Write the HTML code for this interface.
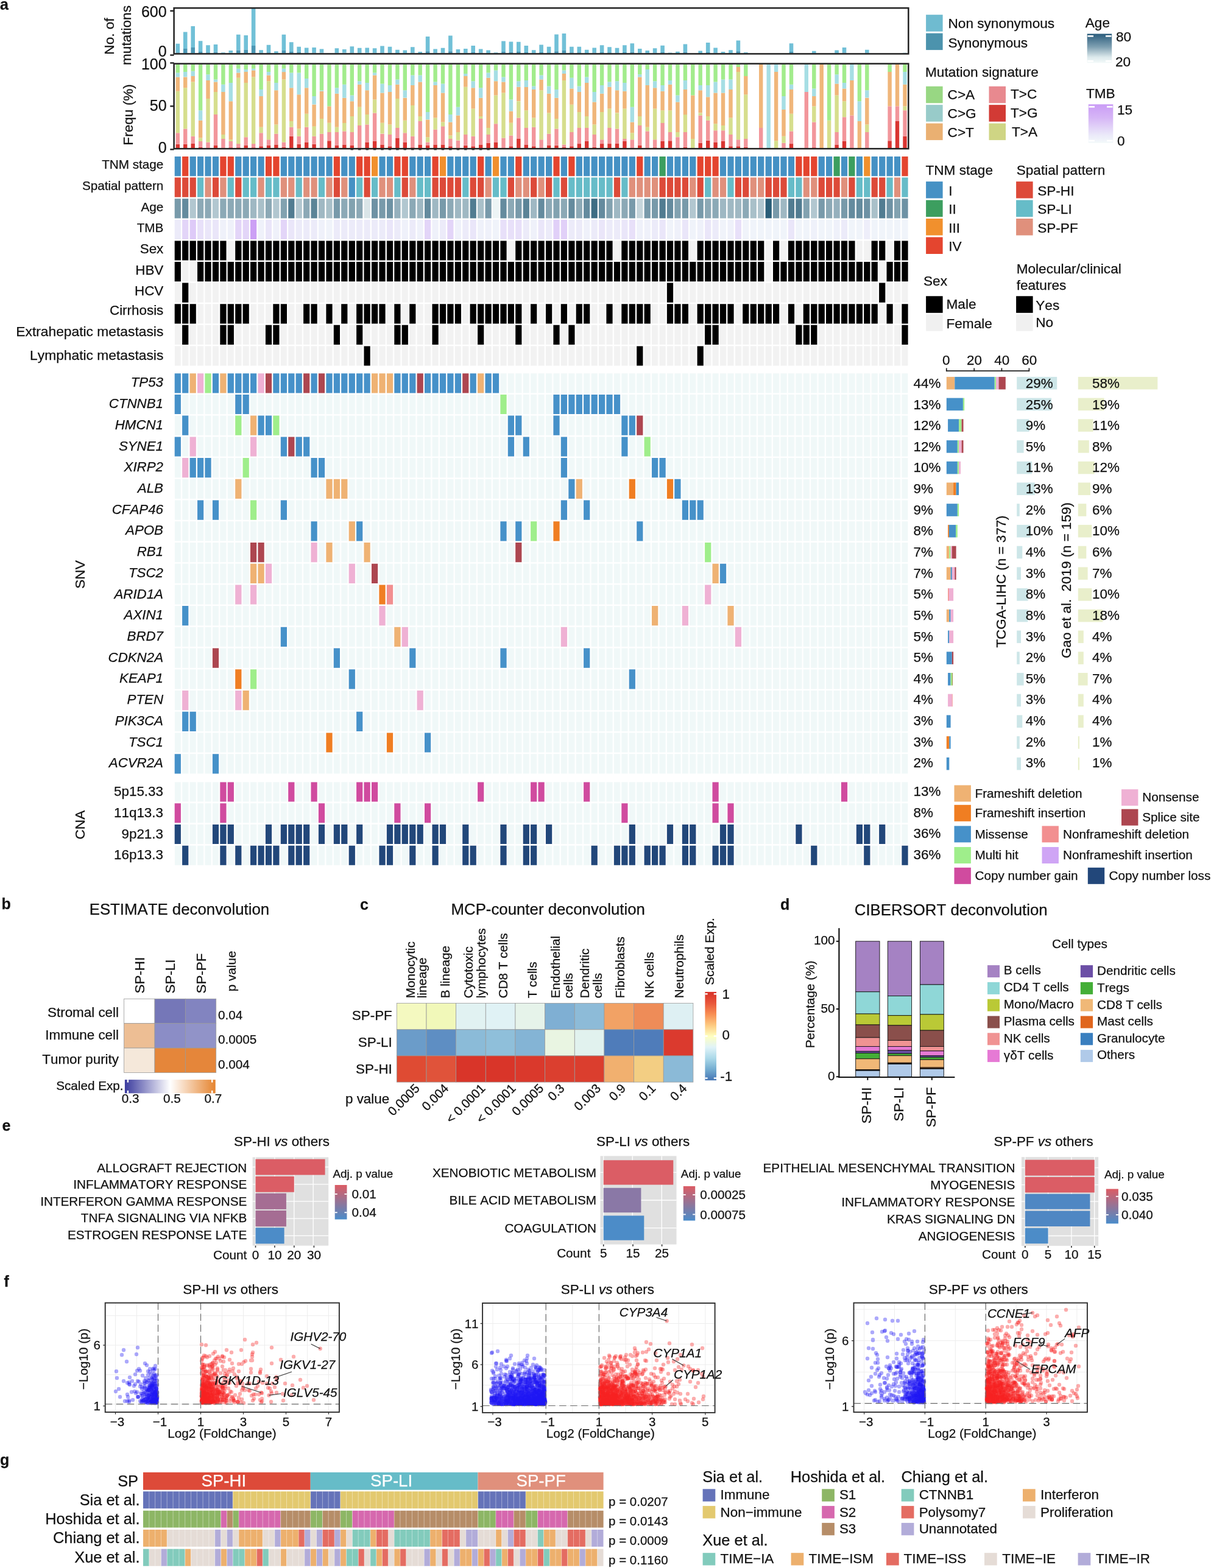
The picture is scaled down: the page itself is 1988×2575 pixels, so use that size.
<!DOCTYPE html>
<html lang="en"><head><meta charset="utf-8"><title>Figure</title>
<style>
html,body{margin:0;padding:0;background:#fff}
svg{display:block}
text{font-family:"Liberation Sans",sans-serif;fill:#111;stroke:#111;stroke-width:.25px;font-kerning:none;font-variant-ligatures:none}
</style></head><body>
<svg width="1988" height="2575" viewBox="0 0 1988 2575" shape-rendering="auto">
<rect x="0" y="0" width="1988" height="2575" fill="#fff"/>
<path fill="#71C0D7" d="M288.5 71.7h6.6v14.4h-6.6zM300.9 52.5h6.6v27.4h-6.6zM313.4 43.1h6.6v34.9h-6.6zM325.8 67.2h6.6v17.7h-6.6zM338.2 74.2h6.6v12h-6.6zM350.7 73h6.6v12.5h-6.6zM363.1 86.2h6.6v1.2h-6.6zM375.5 82.9h6.6v3.7h-6.6zM388 56.8h6.6v25.7h-6.6zM400.4 58h6.6v23.7h-6.6zM412.8 13.2h6.6v61.7h-6.6zM425.3 82.2h6.6v4.5h-6.6zM437.7 73.7h6.6v12.5h-6.6zM450.1 84.2h6.6v3.2h-6.6zM462.6 56.8h6.6v26.2h-6.6zM475 69.2h6.6v15.7h-6.6zM487.4 76.7h6.6v8.7h-6.6zM499.9 78.4h6.6v8h-6.6zM512.3 77.9h6.6v8.5h-6.6zM524.7 80.4h6.6v6.2h-6.6zM549.6 79.2h6.6v7.5h-6.6zM562 80.9h6.6v5.7h-6.6zM574.5 76.2h6.6v10.2h-6.6zM586.9 78.7h6.6v8h-6.6zM599.4 78.4h6.6v8.2h-6.6zM611.8 79.2h6.6v7.5h-6.6zM624.2 75.4h6.6v11h-6.6zM636.7 76.7h6.6v9.7h-6.6zM649.1 81.7h6.6v5.2h-6.6zM661.5 82.4h6.6v4.5h-6.6zM674 77.2h6.6v9.2h-6.6zM686.4 84.9h6.6v2.5h-6.6zM698.8 60h6.6v24.2h-6.6zM711.3 80.4h6.6v6h-6.6zM723.7 78.7h6.6v7.7h-6.6zM736.1 58.4h6.6v25.8h-6.6zM748.6 80.9h6.6v5.7h-6.6zM761 79.9h6.6v6.5h-6.6zM773.4 74.9h6.6v11h-6.6zM785.9 80.4h6.6v6h-6.6zM798.3 82.4h6.6v4.5h-6.6zM810.7 86.2h6.6v1.2h-6.6zM823.2 67.4h6.6v17.5h-6.6zM835.6 68.4h6.6v17h-6.6zM848 68.7h6.6v16.2h-6.6zM860.5 74.9h6.6v11h-6.6zM872.9 82.2h6.6v4.7h-6.6zM885.3 73.4h6.6v12.5h-6.6zM897.8 76.7h6.6v9.5h-6.6zM910.2 56.4h6.6v27.8h-6.6zM922.6 55h6.6v27.9h-6.6zM935.1 76.7h6.6v9.5h-6.6zM947.5 76.7h6.6v9.5h-6.6zM959.9 81.7h6.6v5.2h-6.6zM972.4 78.4h6.6v8h-6.6zM984.8 74.2h6.6v11.7h-6.6zM997.2 77.2h6.6v9h-6.6zM1009.7 78.7h6.6v7.7h-6.6zM1022.1 74.2h6.6v11.7h-6.6zM1034.5 71.2h6.6v14.2h-6.6zM1047 79.9h6.6v6.5h-6.6zM1059.4 82.9h6.6v4h-6.6zM1071.8 79.2h6.6v7.2h-6.6zM1084.3 74.7h6.6v11.2h-6.6zM1096.7 86.4h6.6v1h-6.6zM1109.1 84.7h6.6v2.7h-6.6zM1121.6 72.4h6.6v13h-6.6zM1146.4 83.4h6.6v3.5h-6.6zM1158.9 70h6.6v15.9h-6.6zM1171.3 78.4h6.6v8h-6.6zM1183.7 84.9h6.6v2.5h-6.6zM1196.2 82.2h6.6v4.7h-6.6zM1208.6 66.4h6.6v17.8h-6.6zM1221 85.9h6.6v1.5h-6.6zM1295.7 71.2h6.6v13.7h-6.6zM1333 83.7h6.6v3.3h-6.6zM1370.3 82.4h6.6v4.5h-6.6zM1382.7 77.9h6.6v8.5h-6.6zM1420 81.7h6.6v5.1h-6.6zM1482.2 86.7h6.6v.7h-6.6z"/>
<path fill="#4C97B4" d="M288.5 86.2h6.6v1.2h-6.6zM300.9 79.9h6.6v7.5h-6.6zM313.4 77.9h6.6v9.5h-6.6zM325.8 84.9h6.6v2.5h-6.6zM338.2 86.2h6.6v1.2h-6.6zM350.7 85.4h6.6v2h-6.6zM375.5 86.7h6.6v.7h-6.6zM388 82.4h6.6v5h-6.6zM400.4 81.7h6.6v5.7h-6.6zM412.8 74.9h6.6v12.5h-6.6zM425.3 86.7h6.6v.7h-6.6zM437.7 86.2h6.6v1.2h-6.6zM462.6 82.9h6.6v4.5h-6.6zM475 84.9h6.6v2.5h-6.6zM487.4 85.4h6.6v2h-6.6zM499.9 86.4h6.6v1h-6.6zM512.3 86.4h6.6v1h-6.6zM524.7 86.7h6.6v.7h-6.6zM549.6 86.7h6.6v.7h-6.6zM562 86.7h6.6v.7h-6.6zM574.5 86.4h6.6v1h-6.6zM586.9 86.7h6.6v.7h-6.6zM599.4 86.7h6.6v.7h-6.6zM611.8 86.7h6.6v.7h-6.6zM624.2 86.4h6.6v1h-6.6zM636.7 86.4h6.6v1h-6.6zM649.1 86.9h6.6v.5h-6.6zM661.5 86.9h6.6v.5h-6.6zM674 86.4h6.6v1h-6.6zM698.8 84.2h6.6v3.2h-6.6zM711.3 86.4h6.6v1h-6.6zM723.7 86.4h6.6v1h-6.6zM736.1 84.2h6.6v3.2h-6.6zM748.6 86.6h6.6v.8h-6.6zM761 86.4h6.6v1h-6.6zM773.4 85.9h6.6v1.5h-6.6zM785.9 86.4h6.6v1h-6.6zM798.3 86.9h6.6v.5h-6.6zM823.2 84.9h6.6v2.5h-6.6zM835.6 85.4h6.6v2h-6.6zM848 84.9h6.6v2.5h-6.6zM860.5 85.9h6.6v1.5h-6.6zM872.9 86.9h6.6v.5h-6.6zM885.3 85.9h6.6v1.5h-6.6zM897.8 86.2h6.6v1.2h-6.6zM910.2 84.2h6.6v3.2h-6.6zM922.6 82.9h6.6v4.5h-6.6zM935.1 86.2h6.6v1.2h-6.6zM947.5 86.2h6.6v1.2h-6.6zM959.9 86.9h6.6v.5h-6.6zM972.4 86.4h6.6v1h-6.6zM984.8 85.9h6.6v1.5h-6.6zM997.2 86.2h6.6v1.2h-6.6zM1009.7 86.4h6.6v1h-6.6zM1022.1 85.9h6.6v1.5h-6.6zM1034.5 85.4h6.6v2h-6.6zM1047 86.4h6.6v1h-6.6zM1059.4 86.9h6.6v.5h-6.6zM1071.8 86.4h6.6v1h-6.6zM1084.3 85.9h6.6v1.5h-6.6zM1121.6 85.4h6.6v2h-6.6zM1146.4 86.9h6.6v.5h-6.6zM1158.9 85.9h6.6v1.5h-6.6zM1171.3 86.4h6.6v1h-6.6zM1196.2 86.9h6.6v.5h-6.6zM1208.6 84.2h6.6v3.2h-6.6zM1295.7 84.9h6.6v2.5h-6.6zM1333 87h6.6v.4h-6.6zM1370.3 86.9h6.6v.5h-6.6zM1382.7 86.4h6.6v1h-6.6zM1420 86.8h6.6v.6h-6.6z"/>
<path fill="#D93531" d="M288.6 236.8h6.4v6.2h-6.4zM301 236.8h6.4v6.2h-6.4zM313.5 236.1h6.4v6.9h-6.4zM325.9 241.6h6.4v1.4h-6.4zM350.8 238.9h6.4v4.1h-6.4zM375.6 242.3h6.4v.7h-6.4zM388.1 242.3h6.4v.7h-6.4zM400.5 238.9h6.4v4.1h-6.4zM412.9 242.3h6.4v.7h-6.4zM425.4 240.3h6.4v2.7h-6.4zM437.8 238.9h6.4v4.1h-6.4zM450.2 237.5h6.4v5.5h-6.4zM462.7 241.6h6.4v1.4h-6.4zM475.1 223.8h6.4v19.2h-6.4zM487.5 236.8h6.4v6.2h-6.4zM500 233.4h6.4v9.6h-6.4zM512.4 236.8h6.4v6.2h-6.4zM537.3 231.3h6.4v11.7h-6.4zM549.7 238.9h6.4v4.1h-6.4zM562.1 237.5h6.4v5.5h-6.4zM574.6 238.9h6.4v4.1h-6.4zM599.4 233.4h6.4v9.6h-6.4zM611.9 232h6.4v11h-6.4zM624.3 237.5h6.4v5.5h-6.4zM636.8 240.3h6.4v2.7h-6.4zM649.2 226.5h6.4v16.5h-6.4zM661.6 233.4h6.4v9.6h-6.4zM674.1 242.3h6.4v.7h-6.4zM686.5 237.5h6.4v5.5h-6.4zM698.9 238.9h6.4v4.1h-6.4zM711.4 237.5h6.4v5.5h-6.4zM723.8 237.5h6.4v5.5h-6.4zM736.2 240.3h6.4v2.7h-6.4zM761.1 238.9h6.4v4.1h-6.4zM773.5 240.3h6.4v2.7h-6.4zM786 237.5h6.4v5.5h-6.4zM798.4 234.8h6.4v8.2h-6.4zM810.8 233.4h6.4v9.6h-6.4zM835.7 240.3h6.4v2.7h-6.4zM848.1 227.9h6.4v15.1h-6.4zM860.6 237.5h6.4v5.5h-6.4zM873 240.3h6.4v2.7h-6.4zM897.9 238.9h6.4v4.1h-6.4zM910.3 238.9h6.4v4.1h-6.4zM922.7 241.6h6.4v1.4h-6.4zM935.2 240.3h6.4v2.7h-6.4zM947.6 236.1h6.4v6.9h-6.4zM960 232h6.4v11h-6.4zM972.5 241.6h6.4v1.4h-6.4zM984.9 236.1h6.4v6.9h-6.4zM997.3 236.1h6.4v6.9h-6.4zM1009.8 236.1h6.4v6.9h-6.4zM1022.2 232h6.4v11h-6.4zM1047.1 238.9h6.4v4.1h-6.4zM1071.9 242.3h6.4v.7h-6.4zM1084.4 232h6.4v11h-6.4zM1096.8 231.3h6.4v11.7h-6.4zM1121.7 241.6h6.4v1.4h-6.4zM1146.5 234.8h6.4v8.2h-6.4zM1159 230.7h6.4v12.3h-6.4zM1171.4 233.4h6.4v9.6h-6.4zM1183.8 232h6.4v11h-6.4zM1196.3 240.3h6.4v2.7h-6.4zM1208.7 240.3h6.4v2.7h-6.4zM1221.1 241.6h6.4v1.4h-6.4zM1295.8 236.1h6.4v6.9h-6.4zM1333.1 242.3h6.4v.7h-6.4zM1370.4 237.5h6.4v5.5h-6.4zM1382.8 232h6.4v11h-6.4zM1457.4 231.3h6.4v11.7h-6.4zM1469.8 199.1h6.4v43.9h-6.4zM1482.3 223.8h6.4v19.2h-6.4z"/>
<path fill="#F2969B" d="M288.6 218.3h6.4v18.5h-6.4zM301 211.4h6.4v25.4h-6.4zM313.5 223.8h6.4v12.3h-6.4zM325.9 232h6.4v9.6h-6.4zM338.3 233.4h6.4v9.6h-6.4zM350.8 188.1h6.4v50.8h-6.4zM363.2 227.9h6.4v15.1h-6.4zM375.6 232h6.4v10.3h-6.4zM388.1 236.1h6.4v6.2h-6.4zM400.5 225.2h6.4v13.7h-6.4zM412.9 236.1h6.4v6.2h-6.4zM425.4 218.3h6.4v22h-6.4zM437.8 229.3h6.4v9.6h-6.4zM450.2 219.7h6.4v17.8h-6.4zM462.7 233.4h6.4v8.2h-6.4zM475.1 208.7h6.4v15.1h-6.4zM487.5 223.8h6.4v13h-6.4zM500 208.7h6.4v24.7h-6.4zM512.4 223.8h6.4v13h-6.4zM524.8 219.7h6.4v23.3h-6.4zM537.3 216.9h6.4v14.4h-6.4zM549.7 216.9h6.4v22h-6.4zM562.1 215.6h6.4v22h-6.4zM574.6 216.9h6.4v22h-6.4zM587 206h6.4v37h-6.4zM599.4 204.6h6.4v28.8h-6.4zM611.9 185.4h6.4v46.6h-6.4zM624.3 219.7h6.4v17.8h-6.4zM636.8 221h6.4v19.2h-6.4zM649.2 210.1h6.4v16.5h-6.4zM661.6 218.3h6.4v15.1h-6.4zM674.1 223.8h6.4v18.5h-6.4zM686.5 199.1h6.4v38.4h-6.4zM698.9 233.4h6.4v5.5h-6.4zM711.4 212.8h6.4v24.7h-6.4zM723.8 207.3h6.4v30.2h-6.4zM736.2 227.9h6.4v12.3h-6.4zM748.7 230.7h6.4v12.3h-6.4zM761.1 221h6.4v17.8h-6.4zM773.5 223.8h6.4v16.5h-6.4zM786 195h6.4v42.5h-6.4zM798.4 221h6.4v13.7h-6.4zM810.8 203.2h6.4v30.2h-6.4zM823.3 226.5h6.4v16.5h-6.4zM835.7 222.4h6.4v17.8h-6.4zM848.1 193.6h6.4v34.3h-6.4zM860.6 210.1h6.4v27.4h-6.4zM873 208.7h6.4v31.6h-6.4zM885.4 229.3h6.4v13.7h-6.4zM897.9 219.7h6.4v19.2h-6.4zM910.3 211.4h6.4v27.4h-6.4zM922.7 237.5h6.4v4.1h-6.4zM935.2 216.9h6.4v23.3h-6.4zM947.6 210.1h6.4v26.1h-6.4zM960 210.1h6.4v22h-6.4zM972.5 221h6.4v20.6h-6.4zM984.9 229.3h6.4v6.9h-6.4zM997.3 210.1h6.4v26.1h-6.4zM1009.8 211.4h6.4v24.7h-6.4zM1022.2 227.9h6.4v4.1h-6.4zM1034.6 229.3h6.4v13.7h-6.4zM1047.1 206h6.4v32.9h-6.4zM1059.5 215.6h6.4v27.4h-6.4zM1071.9 229.3h6.4v13h-6.4zM1084.4 201.8h6.4v30.2h-6.4zM1096.8 216.9h6.4v14.4h-6.4zM1109.2 225.2h6.4v17.8h-6.4zM1121.7 216.9h6.4v24.7h-6.4zM1146.5 189.5h6.4v45.3h-6.4zM1159 197.7h6.4v32.9h-6.4zM1171.4 214.2h6.4v19.2h-6.4zM1183.8 214.2h6.4v17.8h-6.4zM1196.3 221h6.4v19.2h-6.4zM1208.7 229.3h6.4v11h-6.4zM1221.1 227.9h6.4v13.7h-6.4zM1246 210.1h6.4v32.9h-6.4zM1283.3 234.8h6.4v8.2h-6.4zM1295.8 215.6h6.4v20.6h-6.4zM1320.6 151.1h6.4v91.9h-6.4zM1333.1 200.5h6.4v41.8h-6.4zM1370.4 216.9h6.4v20.6h-6.4zM1382.8 192.2h6.4v39.8h-6.4zM1395.2 189.5h6.4v53.5h-6.4zM1420.1 216.9h6.4v26.1h-6.4zM1457.4 174.4h6.4v56.9h-6.4zM1469.8 174.4h6.4v24.7h-6.4zM1482.3 181.3h6.4v42.5h-6.4z"/>
<path fill="#D6DE8D" d="M288.6 149.7h6.4v68.6h-6.4zM301 144.2h6.4v67.2h-6.4zM313.5 134.6h6.4v89.2h-6.4zM325.9 226.5h6.4v5.5h-6.4zM338.3 162.1h6.4v71.3h-6.4zM350.8 151.1h6.4v37h-6.4zM363.2 221h6.4v6.9h-6.4zM375.6 229.3h6.4v2.7h-6.4zM388.1 127.8h6.4v108.4h-6.4zM400.5 136h6.4v89.2h-6.4zM412.9 126.4h6.4v109.8h-6.4zM425.4 208.7h6.4v9.6h-6.4zM437.8 133.2h6.4v96h-6.4zM450.2 204.6h6.4v15.1h-6.4zM462.7 130.5h6.4v102.9h-6.4zM475.1 199.1h6.4v9.6h-6.4zM487.5 211.4h6.4v12.3h-6.4zM500 186.7h6.4v22h-6.4zM512.4 207.3h6.4v16.5h-6.4zM524.8 195h6.4v24.7h-6.4zM537.3 201.8h6.4v15.1h-6.4zM549.7 208.7h6.4v8.2h-6.4zM562.1 201.8h6.4v13.7h-6.4zM574.6 190.9h6.4v26.1h-6.4zM587 175.8h6.4v30.2h-6.4zM599.4 188.1h6.4v16.5h-6.4zM611.9 163.4h6.4v22h-6.4zM624.3 201.8h6.4v17.8h-6.4zM636.8 204.6h6.4v16.5h-6.4zM649.2 162.1h6.4v48h-6.4zM661.6 197.7h6.4v20.6h-6.4zM674.1 173h6.4v50.8h-6.4zM686.5 190.9h6.4v8.2h-6.4zM698.9 225.2h6.4v8.2h-6.4zM711.4 193.6h6.4v19.2h-6.4zM723.8 200.5h6.4v6.9h-6.4zM736.2 222.4h6.4v5.5h-6.4zM748.7 216.9h6.4v13.7h-6.4zM761.1 142.8h6.4v78.2h-6.4zM773.5 178.5h6.4v45.3h-6.4zM786 190.9h6.4v4.1h-6.4zM798.4 210.1h6.4v11h-6.4zM810.8 156.6h6.4v46.6h-6.4zM823.3 152.4h6.4v74.1h-6.4zM835.7 201.8h6.4v20.6h-6.4zM848.1 166.2h6.4v27.4h-6.4zM860.6 181.3h6.4v28.8h-6.4zM873 193.6h6.4v15.1h-6.4zM885.4 148.3h6.4v80.9h-6.4zM897.9 185.4h6.4v34.3h-6.4zM910.3 195h6.4v16.5h-6.4zM922.7 131.9h6.4v105.6h-6.4zM935.2 171.7h6.4v45.3h-6.4zM947.6 184h6.4v26.1h-6.4zM960 190.9h6.4v19.2h-6.4zM972.5 204.6h6.4v16.5h-6.4zM984.9 184h6.4v45.3h-6.4zM997.3 178.5h6.4v31.6h-6.4zM1009.8 185.4h6.4v26.1h-6.4zM1022.2 178.5h6.4v49.4h-6.4zM1034.6 218.3h6.4v11h-6.4zM1047.1 190.9h6.4v15.1h-6.4zM1059.5 208.7h6.4v6.9h-6.4zM1071.9 178.5h6.4v50.8h-6.4zM1084.4 181.3h6.4v20.6h-6.4zM1096.8 181.3h6.4v35.7h-6.4zM1109.2 216.9h6.4v8.2h-6.4zM1121.7 188.1h6.4v28.8h-6.4zM1134.1 227.9h6.4v15.1h-6.4zM1146.5 185.4h6.4v4.1h-6.4zM1159 190.9h6.4v6.9h-6.4zM1171.4 203.2h6.4v11h-6.4zM1183.8 206h6.4v8.2h-6.4zM1196.3 193.6h6.4v27.4h-6.4zM1208.7 118.1h6.4v111.1h-6.4zM1221.1 155.2h6.4v72.7h-6.4zM1270.9 231.3h6.4v11.7h-6.4zM1283.3 223.8h6.4v11h-6.4zM1295.8 186.7h6.4v28.8h-6.4zM1333.1 174.4h6.4v26.1h-6.4zM1357.9 197.7h6.4v45.3h-6.4zM1370.4 156.6h6.4v60.4h-6.4zM1382.8 166.2h6.4v26.1h-6.4zM1420.1 204.6h6.4v12.3h-6.4zM1482.3 174.4h6.4v6.9h-6.4z"/>
<path fill="#F0B67A" d="M288.6 126.4h6.4v23.3h-6.4zM301 126.4h6.4v17.8h-6.4zM313.5 125h6.4v9.6h-6.4zM325.9 197.7h6.4v28.8h-6.4zM338.3 131.9h6.4v30.2h-6.4zM350.8 134.6h6.4v16.5h-6.4zM363.2 151.1h6.4v70h-6.4zM375.6 166.2h6.4v63.1h-6.4zM388.1 119.5h6.4v8.2h-6.4zM400.5 118.1h6.4v17.8h-6.4zM412.9 115.4h6.4v11h-6.4zM425.4 157.9h6.4v50.8h-6.4zM437.8 123.6h6.4v9.6h-6.4zM450.2 148.3h6.4v56.3h-6.4zM462.7 118.1h6.4v12.3h-6.4zM475.1 144.2h6.4v54.9h-6.4zM487.5 155.2h6.4v56.3h-6.4zM500 144.2h6.4v42.5h-6.4zM512.4 171.7h6.4v35.7h-6.4zM524.8 149.7h6.4v45.3h-6.4zM537.3 174.4h6.4v27.4h-6.4zM549.7 153.8h6.4v54.9h-6.4zM562.1 160.7h6.4v41.2h-6.4zM574.6 166.2h6.4v24.7h-6.4zM587 138.7h6.4v37h-6.4zM599.4 148.3h6.4v39.8h-6.4zM611.9 123.6h6.4v39.8h-6.4zM624.3 152.4h6.4v49.4h-6.4zM636.8 151.1h6.4v53.5h-6.4zM649.2 138.7h6.4v23.3h-6.4zM661.6 160.7h6.4v37h-6.4zM674.1 140.1h6.4v32.9h-6.4zM686.5 134.6h6.4v56.3h-6.4zM698.9 196.4h6.4v28.8h-6.4zM711.4 140.1h6.4v53.5h-6.4zM723.8 152.4h6.4v48h-6.4zM736.2 200.5h6.4v22h-6.4zM748.7 189.5h6.4v27.4h-6.4zM761.1 125h6.4v17.8h-6.4zM773.5 144.2h6.4v34.3h-6.4zM786 160.7h6.4v30.2h-6.4zM798.4 127.8h6.4v82.3h-6.4zM810.8 133.2h6.4v23.3h-6.4zM823.3 134.6h6.4v17.8h-6.4zM835.7 182.6h6.4v19.2h-6.4zM848.1 142.8h6.4v23.3h-6.4zM860.6 142.8h6.4v38.4h-6.4zM873 147h6.4v46.6h-6.4zM885.4 130.5h6.4v17.8h-6.4zM897.9 153.8h6.4v31.6h-6.4zM910.3 160.7h6.4v34.3h-6.4zM922.7 120.9h6.4v11h-6.4zM935.2 145.6h6.4v26.1h-6.4zM947.6 151.1h6.4v32.9h-6.4zM960 136h6.4v54.9h-6.4zM972.5 167.5h6.4v37h-6.4zM984.9 153.8h6.4v30.2h-6.4zM997.3 142.8h6.4v35.7h-6.4zM1009.8 148.3h6.4v37h-6.4zM1022.2 149.7h6.4v28.8h-6.4zM1034.6 200.5h6.4v17.8h-6.4zM1047.1 126.4h6.4v64.5h-6.4zM1059.5 140.1h6.4v68.6h-6.4zM1071.9 144.2h6.4v34.3h-6.4zM1084.4 149.7h6.4v31.6h-6.4zM1096.8 138.7h6.4v42.5h-6.4zM1109.2 167.5h6.4v49.4h-6.4zM1121.7 147h6.4v41.2h-6.4zM1134.1 156.6h6.4v71.3h-6.4zM1146.5 148.3h6.4v37h-6.4zM1159 159.3h6.4v31.6h-6.4zM1171.4 152.4h6.4v50.8h-6.4zM1183.8 152.4h6.4v53.5h-6.4zM1196.3 147h6.4v46.6h-6.4zM1208.7 109.9h6.4v8.2h-6.4zM1221.1 125h6.4v30.2h-6.4zM1246 105.8h6.4v104.3h-6.4zM1270.9 118.1h6.4v113.2h-6.4zM1283.3 179.9h6.4v43.9h-6.4zM1295.8 147h6.4v39.8h-6.4zM1333.1 157.9h6.4v16.5h-6.4zM1345.5 105.8h6.4v137.2h-6.4zM1370.4 137.4h6.4v19.2h-6.4zM1382.8 145.6h6.4v20.6h-6.4zM1395.2 131.9h6.4v57.6h-6.4zM1407.7 199.1h6.4v43.9h-6.4zM1420.1 160.7h6.4v43.9h-6.4zM1457.4 118.1h6.4v56.3h-6.4zM1469.8 105.8h6.4v68.6h-6.4zM1482.3 138.7h6.4v35.7h-6.4z"/>
<path fill="#A6DEE4" d="M288.6 119.5h6.4v6.9h-6.4zM301 118.1h6.4v8.2h-6.4zM313.5 116.8h6.4v8.2h-6.4zM325.9 181.3h6.4v16.5h-6.4zM338.3 122.3h6.4v9.6h-6.4zM350.8 130.5h6.4v4.1h-6.4zM363.2 138.7h6.4v12.3h-6.4zM375.6 136h6.4v30.2h-6.4zM388.1 112.7h6.4v6.9h-6.4zM400.5 114h6.4v4.1h-6.4zM412.9 112.7h6.4v2.7h-6.4zM425.4 147h6.4v11h-6.4zM437.8 118.1h6.4v5.5h-6.4zM450.2 136h6.4v12.3h-6.4zM462.7 112.7h6.4v5.5h-6.4zM475.1 119.5h6.4v24.7h-6.4zM487.5 119.5h6.4v35.7h-6.4zM500 129.1h6.4v15.1h-6.4zM512.4 157.9h6.4v13.7h-6.4zM524.8 148.3h6.4v1.4h-6.4zM549.7 144.2h6.4v9.6h-6.4zM562.1 138.7h6.4v22h-6.4zM574.6 156.6h6.4v9.6h-6.4zM587 133.2h6.4v5.5h-6.4zM599.4 136h6.4v12.3h-6.4zM611.9 119.5h6.4v4.1h-6.4zM624.3 137.4h6.4v15.1h-6.4zM636.8 140.1h6.4v11h-6.4zM649.2 130.5h6.4v8.2h-6.4zM661.6 148.3h6.4v12.3h-6.4zM674.1 123.6h6.4v16.5h-6.4zM686.5 123.6h6.4v11h-6.4zM698.9 184h6.4v12.3h-6.4zM711.4 134.6h6.4v5.5h-6.4zM723.8 137.4h6.4v15.1h-6.4zM736.2 188.1h6.4v12.3h-6.4zM748.7 175.8h6.4v13.7h-6.4zM761.1 120.9h6.4v4.1h-6.4zM773.5 133.2h6.4v11h-6.4zM786 144.2h6.4v16.5h-6.4zM798.4 119.5h6.4v8.2h-6.4zM810.8 115.4h6.4v17.8h-6.4zM823.3 126.4h6.4v8.2h-6.4zM835.7 163.4h6.4v19.2h-6.4zM848.1 133.2h6.4v9.6h-6.4zM860.6 131.9h6.4v11h-6.4zM873 141.5h6.4v5.5h-6.4zM885.4 123.6h6.4v6.9h-6.4zM897.9 141.5h6.4v12.3h-6.4zM910.3 147h6.4v13.7h-6.4zM922.7 115.4h6.4v5.5h-6.4zM935.2 127.8h6.4v17.8h-6.4zM947.6 141.5h6.4v9.6h-6.4zM960 126.4h6.4v9.6h-6.4zM972.5 151.1h6.4v16.5h-6.4zM984.9 140.1h6.4v13.7h-6.4zM997.3 134.6h6.4v8.2h-6.4zM1009.8 133.2h6.4v15.1h-6.4zM1022.2 136h6.4v13.7h-6.4zM1034.6 175.8h6.4v24.7h-6.4zM1047.1 122.3h6.4v4.1h-6.4zM1059.5 114h6.4v26.1h-6.4zM1071.9 133.2h6.4v11h-6.4zM1084.4 140.1h6.4v9.6h-6.4zM1096.8 131.9h6.4v6.9h-6.4zM1109.2 156.6h6.4v11h-6.4zM1121.7 131.9h6.4v15.1h-6.4zM1146.5 140.1h6.4v8.2h-6.4zM1159 140.1h6.4v19.2h-6.4zM1171.4 134.6h6.4v17.8h-6.4zM1183.8 130.5h6.4v22h-6.4zM1196.3 130.5h6.4v16.5h-6.4zM1258.5 105.8h6.4v137.2h-6.4zM1270.9 105.8h6.4v12.3h-6.4zM1283.3 157.9h6.4v22h-6.4zM1295.8 138.7h6.4v8.2h-6.4zM1320.6 105.8h6.4v45.3h-6.4zM1333.1 145.6h6.4v12.3h-6.4zM1370.4 122.3h6.4v15.1h-6.4zM1382.8 136h6.4v9.6h-6.4zM1395.2 105.8h6.4v26.1h-6.4zM1407.7 166.2h6.4v32.9h-6.4zM1420.1 148.3h6.4v12.3h-6.4zM1482.3 118.1h6.4v20.6h-6.4z"/>
<path fill="#A2EC8C" d="M288.6 105.8h6.4v13.7h-6.4zM301 105.8h6.4v12.3h-6.4zM313.5 105.8h6.4v11h-6.4zM325.9 105.8h6.4v75.5h-6.4zM338.3 105.8h6.4v16.5h-6.4zM350.8 105.8h6.4v24.7h-6.4zM363.2 105.8h6.4v32.9h-6.4zM375.6 105.8h6.4v30.2h-6.4zM388.1 105.8h6.4v6.9h-6.4zM400.5 105.8h6.4v8.2h-6.4zM412.9 105.8h6.4v6.9h-6.4zM425.4 105.8h6.4v41.2h-6.4zM437.8 105.8h6.4v12.3h-6.4zM450.2 105.8h6.4v30.2h-6.4zM462.7 105.8h6.4v6.9h-6.4zM475.1 105.8h6.4v13.7h-6.4zM487.5 105.8h6.4v13.7h-6.4zM500 105.8h6.4v23.3h-6.4zM512.4 105.8h6.4v52.1h-6.4zM524.8 105.8h6.4v42.5h-6.4zM537.3 105.8h6.4v68.6h-6.4zM549.7 105.8h6.4v38.4h-6.4zM562.1 105.8h6.4v32.9h-6.4zM574.6 105.8h6.4v50.8h-6.4zM587 105.8h6.4v27.4h-6.4zM599.4 105.8h6.4v30.2h-6.4zM611.9 105.8h6.4v13.7h-6.4zM624.3 105.8h6.4v31.6h-6.4zM636.8 105.8h6.4v34.3h-6.4zM649.2 105.8h6.4v24.7h-6.4zM661.6 105.8h6.4v42.5h-6.4zM674.1 105.8h6.4v17.8h-6.4zM686.5 105.8h6.4v17.8h-6.4zM698.9 105.8h6.4v78.2h-6.4zM711.4 105.8h6.4v28.8h-6.4zM723.8 105.8h6.4v31.6h-6.4zM736.2 105.8h6.4v82.3h-6.4zM748.7 105.8h6.4v70h-6.4zM761.1 105.8h6.4v15.1h-6.4zM773.5 105.8h6.4v27.4h-6.4zM786 105.8h6.4v38.4h-6.4zM798.4 105.8h6.4v13.7h-6.4zM810.8 105.8h6.4v9.6h-6.4zM823.3 105.8h6.4v20.6h-6.4zM835.7 105.8h6.4v57.6h-6.4zM848.1 105.8h6.4v27.4h-6.4zM860.6 105.8h6.4v26.1h-6.4zM873 105.8h6.4v35.7h-6.4zM885.4 105.8h6.4v17.8h-6.4zM897.9 105.8h6.4v35.7h-6.4zM910.3 105.8h6.4v41.2h-6.4zM922.7 105.8h6.4v9.6h-6.4zM935.2 105.8h6.4v22h-6.4zM947.6 105.8h6.4v35.7h-6.4zM960 105.8h6.4v20.6h-6.4zM972.5 105.8h6.4v45.3h-6.4zM984.9 105.8h6.4v34.3h-6.4zM997.3 105.8h6.4v28.8h-6.4zM1009.8 105.8h6.4v27.4h-6.4zM1022.2 105.8h6.4v30.2h-6.4zM1034.6 105.8h6.4v70h-6.4zM1047.1 105.8h6.4v16.5h-6.4zM1059.5 105.8h6.4v8.2h-6.4zM1071.9 105.8h6.4v27.4h-6.4zM1084.4 105.8h6.4v34.3h-6.4zM1096.8 105.8h6.4v26.1h-6.4zM1109.2 105.8h6.4v50.8h-6.4zM1121.7 105.8h6.4v26.1h-6.4zM1134.1 105.8h6.4v50.8h-6.4zM1146.5 105.8h6.4v34.3h-6.4zM1159 105.8h6.4v34.3h-6.4zM1171.4 105.8h6.4v28.8h-6.4zM1183.8 105.8h6.4v24.7h-6.4zM1196.3 105.8h6.4v24.7h-6.4zM1208.7 105.8h6.4v4.1h-6.4zM1221.1 105.8h6.4v19.2h-6.4zM1283.3 105.8h6.4v52.1h-6.4zM1295.8 105.8h6.4v32.9h-6.4zM1333.1 105.8h6.4v39.8h-6.4zM1357.9 105.8h6.4v91.9h-6.4zM1370.4 105.8h6.4v16.5h-6.4zM1382.8 105.8h6.4v30.2h-6.4zM1407.7 105.8h6.4v60.4h-6.4zM1420.1 105.8h6.4v42.5h-6.4zM1457.4 105.8h6.4v12.3h-6.4zM1482.3 105.8h6.4v12.3h-6.4z"/>
<path fill="#444" d="M575.5 244.8h4.6v1.6h-4.6zM587.9 244.8h4.6v1.6h-4.6zM600.4 244.8h4.6v1.6h-4.6zM612.8 244.8h4.6v1.6h-4.6zM625.2 244.8h4.6v1.6h-4.6zM637.7 244.8h4.6v1.6h-4.6zM650.1 244.8h4.6v1.6h-4.6zM662.5 244.8h4.6v1.6h-4.6zM675 244.8h4.6v1.6h-4.6zM687.4 244.8h4.6v1.6h-4.6zM699.8 244.8h4.6v1.6h-4.6zM712.3 244.8h4.6v1.6h-4.6zM724.7 244.8h4.6v1.6h-4.6zM737.1 244.8h4.6v1.6h-4.6zM749.6 244.8h4.6v1.6h-4.6zM762 244.8h4.6v1.6h-4.6zM774.4 244.8h4.6v1.6h-4.6zM786.9 244.8h4.6v1.6h-4.6zM799.3 244.8h4.6v1.6h-4.6z"/>
<rect x="285.6" y="13.2" width="1205.7" height="75.2" fill="none" stroke="#222" stroke-width="2.5"/>
<rect x="285.6" y="104.6" width="1205.7" height="139.6" fill="none" stroke="#222" stroke-width="2.5"/>
<line x1="279.3" y1="17.9" x2="285.6" y2="17.9" stroke="#222" stroke-width="2.4"/>
<line x1="279.3" y1="90.5" x2="285.6" y2="90.5" stroke="#222" stroke-width="2.4"/>
<line x1="279.3" y1="103.4" x2="285.6" y2="103.4" stroke="#222" stroke-width="2.4"/>
<line x1="279.3" y1="174.4" x2="285.6" y2="174.4" stroke="#222" stroke-width="2.4"/>
<line x1="279.3" y1="245.4" x2="285.6" y2="245.4" stroke="#222" stroke-width="2.4"/>
<text x="273.6" y="28" font-size="25" text-anchor="end">600</text>
<text x="273.6" y="92.9" font-size="25" text-anchor="end">0</text>
<text x="273.6" y="113.7" font-size="25" text-anchor="end">100</text>
<text x="273.6" y="182.4" font-size="25" text-anchor="end">50</text>
<text x="273.6" y="250.8" font-size="25" text-anchor="end">0</text>
<text x="187" y="59.5" font-size="22.6" text-anchor="middle" transform="rotate(-90 187 59.5)">No. of</text>
<text x="215" y="58" font-size="22.6" text-anchor="middle" transform="rotate(-90 215 58)">mutations</text>
<text x="218.2" y="188.4" font-size="22.6" text-anchor="middle" transform="rotate(-90 218.2 188.4)">Frequ (%)</text>
<text x="0" y="15.6" font-size="25" font-weight="bold">a</text>
<text x="268.3" y="276.8" font-size="20.7" text-anchor="end">TNM stage</text>
<text x="268.3" y="311.7" font-size="20.7" text-anchor="end">Spatial pattern</text>
<text x="268.3" y="346.9" font-size="20.7" text-anchor="end">Age</text>
<text x="268.3" y="381.3" font-size="20.7" text-anchor="end">TMB</text>
<text x="268.3" y="415.9" font-size="22.4" text-anchor="end">Sex</text>
<text x="268.3" y="450.8" font-size="22.4" text-anchor="end">HBV</text>
<text x="268.3" y="485.4" font-size="22.4" text-anchor="end">HCV</text>
<text x="268.3" y="516.7" font-size="22.4" text-anchor="end">Cirrhosis</text>
<text x="268.3" y="552.2" font-size="22.8" text-anchor="end">Extrahepatic metastasis</text>
<text x="268.3" y="590.5" font-size="22.8" text-anchor="end">Lymphatic metastasis</text>
<path fill="#4591C4" d="M286.7 257h10.2v32.2h-10.2zM311.6 257h10.2v32.2h-10.2zM324 257h10.2v32.2h-10.2zM336.4 257h10.2v32.2h-10.2zM348.9 257h10.2v32.2h-10.2zM386.2 257h10.2v32.2h-10.2zM398.6 257h10.2v32.2h-10.2zM411 257h10.2v32.2h-10.2zM423.5 257h10.2v32.2h-10.2zM460.8 257h10.2v32.2h-10.2zM473.2 257h10.2v32.2h-10.2zM485.6 257h10.2v32.2h-10.2zM498.1 257h10.2v32.2h-10.2zM510.5 257h10.2v32.2h-10.2zM522.9 257h10.2v32.2h-10.2zM535.4 257h10.2v32.2h-10.2zM560.2 257h10.2v32.2h-10.2zM572.7 257h10.2v32.2h-10.2zM572.7 291.6h10.2v32.2h-10.2zM622.4 257h10.2v32.2h-10.2zM634.9 257h10.2v32.2h-10.2zM672.2 257h10.2v32.2h-10.2zM684.6 257h10.2v32.2h-10.2zM697 257h10.2v32.2h-10.2zM734.3 257h10.2v32.2h-10.2zM746.8 257h10.2v32.2h-10.2zM759.2 257h10.2v32.2h-10.2zM771.6 257h10.2v32.2h-10.2zM796.5 257h10.2v32.2h-10.2zM821.4 257h10.2v32.2h-10.2zM833.8 257h10.2v32.2h-10.2zM858.7 257h10.2v32.2h-10.2zM871.1 257h10.2v32.2h-10.2zM883.5 257h10.2v32.2h-10.2zM896 257h10.2v32.2h-10.2zM920.8 257h10.2v32.2h-10.2zM945.7 257h10.2v32.2h-10.2zM958.1 257h10.2v32.2h-10.2zM970.6 257h10.2v32.2h-10.2zM983 257h10.2v32.2h-10.2zM995.4 257h10.2v32.2h-10.2zM1007.9 257h10.2v32.2h-10.2zM1020.3 257h10.2v32.2h-10.2zM1032.7 257h10.2v32.2h-10.2zM1057.6 257h10.2v32.2h-10.2zM1070 257h10.2v32.2h-10.2zM1094.9 257h10.2v32.2h-10.2zM1107.3 257h10.2v32.2h-10.2zM1119.8 257h10.2v32.2h-10.2zM1132.2 257h10.2v32.2h-10.2zM1181.9 257h10.2v32.2h-10.2zM1194.4 257h10.2v32.2h-10.2zM1206.8 257h10.2v32.2h-10.2zM1219.2 257h10.2v32.2h-10.2zM1231.7 257h10.2v32.2h-10.2zM1244.1 257h10.2v32.2h-10.2zM1256.6 257h10.2v32.2h-10.2zM1269 257h10.2v32.2h-10.2zM1281.4 257h10.2v32.2h-10.2zM1293.9 257h10.2v32.2h-10.2zM1343.6 257h10.2v32.2h-10.2zM1356 257h10.2v32.2h-10.2zM1380.9 257h10.2v32.2h-10.2zM1405.8 257h10.2v32.2h-10.2zM1430.6 257h10.2v32.2h-10.2zM1443.1 257h10.2v32.2h-10.2zM1455.5 257h10.2v32.2h-10.2zM1467.9 257h10.2v32.2h-10.2z"/>
<path fill="#DD4A39" d="M286.7 291.6h10.2v32.2h-10.2zM299.1 291.6h10.2v32.2h-10.2zM311.6 291.6h10.2v32.2h-10.2zM348.9 291.6h10.2v32.2h-10.2zM386.2 291.6h10.2v32.2h-10.2zM547.8 291.6h10.2v32.2h-10.2zM597.5 291.6h10.2v32.2h-10.2zM659.7 291.6h10.2v32.2h-10.2zM709.5 291.6h10.2v32.2h-10.2zM721.9 291.6h10.2v32.2h-10.2zM734.3 291.6h10.2v32.2h-10.2zM746.8 291.6h10.2v32.2h-10.2zM771.6 291.6h10.2v32.2h-10.2zM784.1 291.6h10.2v32.2h-10.2zM833.8 291.6h10.2v32.2h-10.2zM871.1 291.6h10.2v32.2h-10.2zM896 291.6h10.2v32.2h-10.2zM920.8 291.6h10.2v32.2h-10.2zM1007.9 291.6h10.2v32.2h-10.2zM1082.5 291.6h10.2v32.2h-10.2zM1094.9 291.6h10.2v32.2h-10.2zM1107.3 291.6h10.2v32.2h-10.2zM1119.8 291.6h10.2v32.2h-10.2zM1144.6 291.6h10.2v32.2h-10.2zM1206.8 291.6h10.2v32.2h-10.2zM1219.2 291.6h10.2v32.2h-10.2zM1256.6 291.6h10.2v32.2h-10.2zM1269 291.6h10.2v32.2h-10.2zM1281.4 291.6h10.2v32.2h-10.2zM1343.6 291.6h10.2v32.2h-10.2zM1356 291.6h10.2v32.2h-10.2zM1368.5 291.6h10.2v32.2h-10.2zM1393.3 291.6h10.2v32.2h-10.2zM1430.6 291.6h10.2v32.2h-10.2zM1443.1 291.6h10.2v32.2h-10.2z"/>
<path fill="#789AAA" d="M286.7 326.2h10.2v32.2h-10.2zM547.8 326.2h10.2v32.2h-10.2zM622.4 326.2h10.2v32.2h-10.2zM721.9 326.2h10.2v32.2h-10.2zM796.5 326.2h10.2v32.2h-10.2zM846.2 326.2h10.2v32.2h-10.2zM1032.7 326.2h10.2v32.2h-10.2zM1057.6 326.2h10.2v32.2h-10.2zM1070 326.2h10.2v32.2h-10.2zM1119.8 326.2h10.2v32.2h-10.2zM1144.6 326.2h10.2v32.2h-10.2zM1269 326.2h10.2v32.2h-10.2zM1343.6 326.2h10.2v32.2h-10.2zM1380.9 326.2h10.2v32.2h-10.2z"/>
<path fill="#ECEBF9" d="M286.7 360.8h10.2v32.2h-10.2zM485.6 360.8h10.2v32.2h-10.2zM498.1 360.8h10.2v32.2h-10.2zM510.5 360.8h10.2v32.2h-10.2zM547.8 360.8h10.2v32.2h-10.2zM560.2 360.8h10.2v32.2h-10.2zM572.7 360.8h10.2v32.2h-10.2zM585.1 360.8h10.2v32.2h-10.2zM597.5 360.8h10.2v32.2h-10.2zM610 360.8h10.2v32.2h-10.2zM622.4 360.8h10.2v32.2h-10.2zM647.3 360.8h10.2v32.2h-10.2zM672.2 360.8h10.2v32.2h-10.2zM721.9 360.8h10.2v32.2h-10.2zM759.2 360.8h10.2v32.2h-10.2zM858.7 360.8h10.2v32.2h-10.2zM896 360.8h10.2v32.2h-10.2zM933.3 360.8h10.2v32.2h-10.2zM945.7 360.8h10.2v32.2h-10.2zM970.6 360.8h10.2v32.2h-10.2zM995.4 360.8h10.2v32.2h-10.2zM1007.9 360.8h10.2v32.2h-10.2zM1070 360.8h10.2v32.2h-10.2zM1169.5 360.8h10.2v32.2h-10.2zM1380.9 360.8h10.2v32.2h-10.2z"/>
<path fill="#E4452F" d="M299.1 257h10.2v32.2h-10.2zM361.3 257h10.2v32.2h-10.2zM373.7 257h10.2v32.2h-10.2zM435.9 257h10.2v32.2h-10.2zM448.3 257h10.2v32.2h-10.2zM547.8 257h10.2v32.2h-10.2zM585.1 257h10.2v32.2h-10.2zM597.5 257h10.2v32.2h-10.2zM647.3 257h10.2v32.2h-10.2zM659.7 257h10.2v32.2h-10.2zM709.5 257h10.2v32.2h-10.2zM784.1 257h10.2v32.2h-10.2zM846.2 257h10.2v32.2h-10.2zM908.4 257h10.2v32.2h-10.2zM933.3 257h10.2v32.2h-10.2zM1045.2 257h10.2v32.2h-10.2zM1144.6 257h10.2v32.2h-10.2zM1157.1 257h10.2v32.2h-10.2zM1169.5 257h10.2v32.2h-10.2zM1306.3 257h10.2v32.2h-10.2zM1318.7 257h10.2v32.2h-10.2zM1331.2 257h10.2v32.2h-10.2zM1480.4 257h10.2v32.2h-10.2z"/>
<path fill="#648B9E" d="M299.1 326.2h10.2v32.2h-10.2zM697 326.2h10.2v32.2h-10.2zM821.4 326.2h10.2v32.2h-10.2zM883.5 326.2h10.2v32.2h-10.2zM933.3 326.2h10.2v32.2h-10.2zM958.1 326.2h10.2v32.2h-10.2zM983 326.2h10.2v32.2h-10.2zM1094.9 326.2h10.2v32.2h-10.2zM1393.3 326.2h10.2v32.2h-10.2zM1405.8 326.2h10.2v32.2h-10.2z"/>
<path fill="#E3D5F8" d="M299.1 360.8h10.2v32.2h-10.2zM386.2 360.8h10.2v32.2h-10.2zM398.6 360.8h10.2v32.2h-10.2zM460.8 360.8h10.2v32.2h-10.2zM697 360.8h10.2v32.2h-10.2zM734.3 360.8h10.2v32.2h-10.2z"/>
<path fill="#B2C7D0" d="M311.6 326.2h10.2v32.2h-10.2zM348.9 326.2h10.2v32.2h-10.2zM448.3 326.2h10.2v32.2h-10.2zM485.6 326.2h10.2v32.2h-10.2zM659.7 326.2h10.2v32.2h-10.2zM1132.2 326.2h10.2v32.2h-10.2zM1244.1 326.2h10.2v32.2h-10.2zM1331.2 326.2h10.2v32.2h-10.2z"/>
<path fill="#DECAF8" d="M311.6 360.8h10.2v32.2h-10.2z"/>
<path fill="#66BCC8" d="M324 291.6h10.2v32.2h-10.2zM373.7 291.6h10.2v32.2h-10.2zM398.6 291.6h10.2v32.2h-10.2zM411 291.6h10.2v32.2h-10.2zM435.9 291.6h10.2v32.2h-10.2zM448.3 291.6h10.2v32.2h-10.2zM485.6 291.6h10.2v32.2h-10.2zM522.9 291.6h10.2v32.2h-10.2zM585.1 291.6h10.2v32.2h-10.2zM610 291.6h10.2v32.2h-10.2zM647.3 291.6h10.2v32.2h-10.2zM684.6 291.6h10.2v32.2h-10.2zM697 291.6h10.2v32.2h-10.2zM759.2 291.6h10.2v32.2h-10.2zM808.9 291.6h10.2v32.2h-10.2zM821.4 291.6h10.2v32.2h-10.2zM908.4 291.6h10.2v32.2h-10.2zM933.3 291.6h10.2v32.2h-10.2zM945.7 291.6h10.2v32.2h-10.2zM958.1 291.6h10.2v32.2h-10.2zM970.6 291.6h10.2v32.2h-10.2zM983 291.6h10.2v32.2h-10.2zM995.4 291.6h10.2v32.2h-10.2zM1020.3 291.6h10.2v32.2h-10.2zM1157.1 291.6h10.2v32.2h-10.2zM1194.4 291.6h10.2v32.2h-10.2zM1293.9 291.6h10.2v32.2h-10.2zM1306.3 291.6h10.2v32.2h-10.2zM1405.8 291.6h10.2v32.2h-10.2zM1418.2 291.6h10.2v32.2h-10.2zM1455.5 291.6h10.2v32.2h-10.2zM1480.4 291.6h10.2v32.2h-10.2z"/>
<path fill="#8CA9B6" d="M324 326.2h10.2v32.2h-10.2zM336.4 326.2h10.2v32.2h-10.2zM361.3 326.2h10.2v32.2h-10.2zM373.7 326.2h10.2v32.2h-10.2zM386.2 326.2h10.2v32.2h-10.2zM398.6 326.2h10.2v32.2h-10.2zM435.9 326.2h10.2v32.2h-10.2zM498.1 326.2h10.2v32.2h-10.2zM560.2 326.2h10.2v32.2h-10.2zM585.1 326.2h10.2v32.2h-10.2zM672.2 326.2h10.2v32.2h-10.2zM734.3 326.2h10.2v32.2h-10.2zM833.8 326.2h10.2v32.2h-10.2zM896 326.2h10.2v32.2h-10.2zM920.8 326.2h10.2v32.2h-10.2zM945.7 326.2h10.2v32.2h-10.2zM1020.3 326.2h10.2v32.2h-10.2zM1157.1 326.2h10.2v32.2h-10.2zM1169.5 326.2h10.2v32.2h-10.2zM1219.2 326.2h10.2v32.2h-10.2zM1356 326.2h10.2v32.2h-10.2z"/>
<path fill="#E8E0F9" d="M324 360.8h10.2v32.2h-10.2zM821.4 360.8h10.2v32.2h-10.2zM833.8 360.8h10.2v32.2h-10.2zM846.2 360.8h10.2v32.2h-10.2zM1032.7 360.8h10.2v32.2h-10.2zM1206.8 360.8h10.2v32.2h-10.2z"/>
<path fill="#E0907C" d="M336.4 291.6h10.2v32.2h-10.2zM361.3 291.6h10.2v32.2h-10.2zM423.5 291.6h10.2v32.2h-10.2zM460.8 291.6h10.2v32.2h-10.2zM473.2 291.6h10.2v32.2h-10.2zM498.1 291.6h10.2v32.2h-10.2zM510.5 291.6h10.2v32.2h-10.2zM535.4 291.6h10.2v32.2h-10.2zM560.2 291.6h10.2v32.2h-10.2zM622.4 291.6h10.2v32.2h-10.2zM634.9 291.6h10.2v32.2h-10.2zM672.2 291.6h10.2v32.2h-10.2zM796.5 291.6h10.2v32.2h-10.2zM846.2 291.6h10.2v32.2h-10.2zM858.7 291.6h10.2v32.2h-10.2zM883.5 291.6h10.2v32.2h-10.2zM1032.7 291.6h10.2v32.2h-10.2zM1045.2 291.6h10.2v32.2h-10.2zM1057.6 291.6h10.2v32.2h-10.2zM1070 291.6h10.2v32.2h-10.2zM1132.2 291.6h10.2v32.2h-10.2zM1169.5 291.6h10.2v32.2h-10.2zM1181.9 291.6h10.2v32.2h-10.2zM1231.7 291.6h10.2v32.2h-10.2zM1244.1 291.6h10.2v32.2h-10.2zM1318.7 291.6h10.2v32.2h-10.2zM1331.2 291.6h10.2v32.2h-10.2zM1380.9 291.6h10.2v32.2h-10.2zM1467.9 291.6h10.2v32.2h-10.2z"/>
<path fill="#EAE6F9" d="M336.4 360.8h10.2v32.2h-10.2zM348.9 360.8h10.2v32.2h-10.2zM435.9 360.8h10.2v32.2h-10.2zM473.2 360.8h10.2v32.2h-10.2zM634.9 360.8h10.2v32.2h-10.2zM771.6 360.8h10.2v32.2h-10.2zM883.5 360.8h10.2v32.2h-10.2zM983 360.8h10.2v32.2h-10.2zM1020.3 360.8h10.2v32.2h-10.2zM1082.5 360.8h10.2v32.2h-10.2zM1119.8 360.8h10.2v32.2h-10.2zM1157.1 360.8h10.2v32.2h-10.2zM1293.9 360.8h10.2v32.2h-10.2z"/>
<path fill="#EFF1FA" d="M361.3 360.8h10.2v32.2h-10.2zM373.7 360.8h10.2v32.2h-10.2zM423.5 360.8h10.2v32.2h-10.2zM448.3 360.8h10.2v32.2h-10.2zM522.9 360.8h10.2v32.2h-10.2zM659.7 360.8h10.2v32.2h-10.2zM684.6 360.8h10.2v32.2h-10.2zM709.5 360.8h10.2v32.2h-10.2zM746.8 360.8h10.2v32.2h-10.2zM784.1 360.8h10.2v32.2h-10.2zM796.5 360.8h10.2v32.2h-10.2zM871.1 360.8h10.2v32.2h-10.2zM958.1 360.8h10.2v32.2h-10.2zM1045.2 360.8h10.2v32.2h-10.2zM1057.6 360.8h10.2v32.2h-10.2zM1107.3 360.8h10.2v32.2h-10.2zM1144.6 360.8h10.2v32.2h-10.2zM1194.4 360.8h10.2v32.2h-10.2zM1331.2 360.8h10.2v32.2h-10.2zM1368.5 360.8h10.2v32.2h-10.2z"/>
<path fill="#9FB8C3" d="M411 326.2h10.2v32.2h-10.2zM522.9 326.2h10.2v32.2h-10.2zM684.6 326.2h10.2v32.2h-10.2zM709.5 326.2h10.2v32.2h-10.2zM746.8 326.2h10.2v32.2h-10.2zM759.2 326.2h10.2v32.2h-10.2zM871.1 326.2h10.2v32.2h-10.2zM1007.9 326.2h10.2v32.2h-10.2zM1181.9 326.2h10.2v32.2h-10.2zM1194.4 326.2h10.2v32.2h-10.2zM1206.8 326.2h10.2v32.2h-10.2zM1281.4 326.2h10.2v32.2h-10.2z"/>
<path fill="#CC9FF5" d="M411 360.8h10.2v32.2h-10.2z"/>
<path fill="#A9C0C9" d="M423.5 326.2h10.2v32.2h-10.2zM535.4 326.2h10.2v32.2h-10.2zM784.1 326.2h10.2v32.2h-10.2zM1231.7 326.2h10.2v32.2h-10.2zM1430.6 326.2h10.2v32.2h-10.2z"/>
<path fill="#82A2B0" d="M460.8 326.2h10.2v32.2h-10.2zM572.7 326.2h10.2v32.2h-10.2zM908.4 326.2h10.2v32.2h-10.2zM995.4 326.2h10.2v32.2h-10.2zM1107.3 326.2h10.2v32.2h-10.2zM1318.7 326.2h10.2v32.2h-10.2zM1467.9 326.2h10.2v32.2h-10.2z"/>
<path fill="#517C91" d="M473.2 326.2h10.2v32.2h-10.2zM771.6 326.2h10.2v32.2h-10.2zM1082.5 326.2h10.2v32.2h-10.2zM1293.9 326.2h10.2v32.2h-10.2zM1306.3 326.2h10.2v32.2h-10.2zM1443.1 326.2h10.2v32.2h-10.2z"/>
<path fill="#5B8497" d="M510.5 326.2h10.2v32.2h-10.2zM858.7 326.2h10.2v32.2h-10.2z"/>
<path fill="#F0F3FA" d="M535.4 360.8h10.2v32.2h-10.2zM808.9 360.8h10.2v32.2h-10.2zM1094.9 360.8h10.2v32.2h-10.2zM1132.2 360.8h10.2v32.2h-10.2zM1181.9 360.8h10.2v32.2h-10.2zM1219.2 360.8h10.2v32.2h-10.2z"/>
<path fill="#DAE5E8" d="M597.5 326.2h10.2v32.2h-10.2z"/>
<path fill="#F1902D" d="M610 257h10.2v32.2h-10.2zM721.9 257h10.2v32.2h-10.2zM808.9 257h10.2v32.2h-10.2zM1418.2 257h10.2v32.2h-10.2z"/>
<path fill="#6E92A4" d="M610 326.2h10.2v32.2h-10.2zM634.9 326.2h10.2v32.2h-10.2zM1418.2 326.2h10.2v32.2h-10.2zM1455.5 326.2h10.2v32.2h-10.2zM1480.4 326.2h10.2v32.2h-10.2z"/>
<path fill="#95B0BD" d="M647.3 326.2h10.2v32.2h-10.2zM1368.5 326.2h10.2v32.2h-10.2z"/>
<path fill="#EDF4F5" d="M808.9 326.2h10.2v32.2h-10.2z"/>
<path fill="#E1D0F8" d="M908.4 360.8h10.2v32.2h-10.2zM920.8 360.8h10.2v32.2h-10.2z"/>
<path fill="#3E6D84" d="M970.6 326.2h10.2v32.2h-10.2z"/>
<path fill="#C6D6DC" d="M1045.2 326.2h10.2v32.2h-10.2z"/>
<path fill="#3C9E5F" d="M1082.5 257h10.2v32.2h-10.2zM1368.5 257h10.2v32.2h-10.2zM1393.3 257h10.2v32.2h-10.2z"/>
<path fill="#F0F4FA" d="M1231.7 360.8h10.2v32.2h-10.2zM1244.1 360.8h10.2v32.2h-10.2zM1256.6 360.8h10.2v32.2h-10.2zM1269 360.8h10.2v32.2h-10.2zM1281.4 360.8h10.2v32.2h-10.2zM1306.3 360.8h10.2v32.2h-10.2zM1318.7 360.8h10.2v32.2h-10.2zM1343.6 360.8h10.2v32.2h-10.2zM1356 360.8h10.2v32.2h-10.2zM1393.3 360.8h10.2v32.2h-10.2zM1405.8 360.8h10.2v32.2h-10.2zM1430.6 360.8h10.2v32.2h-10.2zM1443.1 360.8h10.2v32.2h-10.2zM1455.5 360.8h10.2v32.2h-10.2zM1467.9 360.8h10.2v32.2h-10.2zM1480.4 360.8h10.2v32.2h-10.2z"/>
<path fill="#2A5E78" d="M1256.6 326.2h10.2v32.2h-10.2z"/>
<path fill="#EEEEFA" d="M1418.2 360.8h10.2v32.2h-10.2z"/>
<defs><pattern id="pg" x="286.7" y="0" width="12.434" height="50" patternUnits="userSpaceOnUse"><rect width="10.2" height="50" fill="#F2F2F2"/></pattern><pattern id="pb" x="286.7" y="0" width="12.434" height="50" patternUnits="userSpaceOnUse"><rect width="10.2" height="50" fill="#F0F8F8"/></pattern></defs>
<rect x="286.7" y="395.4" width="1203.9" height="32.2" fill="url(#pg)"/>
<rect x="286.7" y="430" width="1203.9" height="32.2" fill="url(#pg)"/>
<rect x="286.7" y="464.6" width="1203.9" height="32.2" fill="url(#pg)"/>
<rect x="286.7" y="499.2" width="1203.9" height="32.2" fill="url(#pg)"/>
<rect x="286.7" y="533.8" width="1203.9" height="32.2" fill="url(#pg)"/>
<rect x="286.7" y="568.4" width="1203.9" height="32.2" fill="url(#pg)"/>
<path fill="#000" d="M286.7 395.4h10.2v32.2h-10.2zM299.1 395.4h10.2v32.2h-10.2zM311.6 395.4h10.2v32.2h-10.2zM324 395.4h10.2v32.2h-10.2zM336.4 395.4h10.2v32.2h-10.2zM348.9 395.4h10.2v32.2h-10.2zM361.3 395.4h10.2v32.2h-10.2zM386.2 395.4h10.2v32.2h-10.2zM398.6 395.4h10.2v32.2h-10.2zM411 395.4h10.2v32.2h-10.2zM423.5 395.4h10.2v32.2h-10.2zM435.9 395.4h10.2v32.2h-10.2zM448.3 395.4h10.2v32.2h-10.2zM460.8 395.4h10.2v32.2h-10.2zM473.2 395.4h10.2v32.2h-10.2zM485.6 395.4h10.2v32.2h-10.2zM498.1 395.4h10.2v32.2h-10.2zM510.5 395.4h10.2v32.2h-10.2zM522.9 395.4h10.2v32.2h-10.2zM535.4 395.4h10.2v32.2h-10.2zM547.8 395.4h10.2v32.2h-10.2zM560.2 395.4h10.2v32.2h-10.2zM572.7 395.4h10.2v32.2h-10.2zM585.1 395.4h10.2v32.2h-10.2zM597.5 395.4h10.2v32.2h-10.2zM610 395.4h10.2v32.2h-10.2zM622.4 395.4h10.2v32.2h-10.2zM634.9 395.4h10.2v32.2h-10.2zM647.3 395.4h10.2v32.2h-10.2zM659.7 395.4h10.2v32.2h-10.2zM672.2 395.4h10.2v32.2h-10.2zM684.6 395.4h10.2v32.2h-10.2zM697 395.4h10.2v32.2h-10.2zM709.5 395.4h10.2v32.2h-10.2zM721.9 395.4h10.2v32.2h-10.2zM734.3 395.4h10.2v32.2h-10.2zM746.8 395.4h10.2v32.2h-10.2zM759.2 395.4h10.2v32.2h-10.2zM771.6 395.4h10.2v32.2h-10.2zM784.1 395.4h10.2v32.2h-10.2zM796.5 395.4h10.2v32.2h-10.2zM808.9 395.4h10.2v32.2h-10.2zM821.4 395.4h10.2v32.2h-10.2zM846.2 395.4h10.2v32.2h-10.2zM858.7 395.4h10.2v32.2h-10.2zM871.1 395.4h10.2v32.2h-10.2zM883.5 395.4h10.2v32.2h-10.2zM896 395.4h10.2v32.2h-10.2zM908.4 395.4h10.2v32.2h-10.2zM920.8 395.4h10.2v32.2h-10.2zM933.3 395.4h10.2v32.2h-10.2zM945.7 395.4h10.2v32.2h-10.2zM958.1 395.4h10.2v32.2h-10.2zM970.6 395.4h10.2v32.2h-10.2zM983 395.4h10.2v32.2h-10.2zM995.4 395.4h10.2v32.2h-10.2zM1020.3 395.4h10.2v32.2h-10.2zM1032.7 395.4h10.2v32.2h-10.2zM1045.2 395.4h10.2v32.2h-10.2zM1057.6 395.4h10.2v32.2h-10.2zM1070 395.4h10.2v32.2h-10.2zM1082.5 395.4h10.2v32.2h-10.2zM1094.9 395.4h10.2v32.2h-10.2zM1107.3 395.4h10.2v32.2h-10.2zM1119.8 395.4h10.2v32.2h-10.2zM1144.6 395.4h10.2v32.2h-10.2zM1157.1 395.4h10.2v32.2h-10.2zM1169.5 395.4h10.2v32.2h-10.2zM1181.9 395.4h10.2v32.2h-10.2zM1194.4 395.4h10.2v32.2h-10.2zM1206.8 395.4h10.2v32.2h-10.2zM1219.2 395.4h10.2v32.2h-10.2zM1231.7 395.4h10.2v32.2h-10.2zM1244.1 395.4h10.2v32.2h-10.2zM1269 395.4h10.2v32.2h-10.2zM1293.9 395.4h10.2v32.2h-10.2zM1306.3 395.4h10.2v32.2h-10.2zM1318.7 395.4h10.2v32.2h-10.2zM1331.2 395.4h10.2v32.2h-10.2zM1343.6 395.4h10.2v32.2h-10.2zM1356 395.4h10.2v32.2h-10.2zM1368.5 395.4h10.2v32.2h-10.2zM1380.9 395.4h10.2v32.2h-10.2zM1393.3 395.4h10.2v32.2h-10.2zM1430.6 395.4h10.2v32.2h-10.2zM1443.1 395.4h10.2v32.2h-10.2zM1467.9 395.4h10.2v32.2h-10.2zM1480.4 395.4h10.2v32.2h-10.2zM286.7 430h10.2v32.2h-10.2zM324 430h10.2v32.2h-10.2zM336.4 430h10.2v32.2h-10.2zM348.9 430h10.2v32.2h-10.2zM361.3 430h10.2v32.2h-10.2zM373.7 430h10.2v32.2h-10.2zM386.2 430h10.2v32.2h-10.2zM398.6 430h10.2v32.2h-10.2zM411 430h10.2v32.2h-10.2zM423.5 430h10.2v32.2h-10.2zM435.9 430h10.2v32.2h-10.2zM448.3 430h10.2v32.2h-10.2zM460.8 430h10.2v32.2h-10.2zM473.2 430h10.2v32.2h-10.2zM485.6 430h10.2v32.2h-10.2zM498.1 430h10.2v32.2h-10.2zM510.5 430h10.2v32.2h-10.2zM522.9 430h10.2v32.2h-10.2zM535.4 430h10.2v32.2h-10.2zM547.8 430h10.2v32.2h-10.2zM560.2 430h10.2v32.2h-10.2zM572.7 430h10.2v32.2h-10.2zM585.1 430h10.2v32.2h-10.2zM597.5 430h10.2v32.2h-10.2zM610 430h10.2v32.2h-10.2zM622.4 430h10.2v32.2h-10.2zM634.9 430h10.2v32.2h-10.2zM647.3 430h10.2v32.2h-10.2zM659.7 430h10.2v32.2h-10.2zM672.2 430h10.2v32.2h-10.2zM684.6 430h10.2v32.2h-10.2zM697 430h10.2v32.2h-10.2zM709.5 430h10.2v32.2h-10.2zM721.9 430h10.2v32.2h-10.2zM734.3 430h10.2v32.2h-10.2zM746.8 430h10.2v32.2h-10.2zM759.2 430h10.2v32.2h-10.2zM771.6 430h10.2v32.2h-10.2zM784.1 430h10.2v32.2h-10.2zM796.5 430h10.2v32.2h-10.2zM808.9 430h10.2v32.2h-10.2zM821.4 430h10.2v32.2h-10.2zM833.8 430h10.2v32.2h-10.2zM846.2 430h10.2v32.2h-10.2zM858.7 430h10.2v32.2h-10.2zM871.1 430h10.2v32.2h-10.2zM883.5 430h10.2v32.2h-10.2zM896 430h10.2v32.2h-10.2zM908.4 430h10.2v32.2h-10.2zM920.8 430h10.2v32.2h-10.2zM933.3 430h10.2v32.2h-10.2zM945.7 430h10.2v32.2h-10.2zM958.1 430h10.2v32.2h-10.2zM970.6 430h10.2v32.2h-10.2zM983 430h10.2v32.2h-10.2zM995.4 430h10.2v32.2h-10.2zM1007.9 430h10.2v32.2h-10.2zM1020.3 430h10.2v32.2h-10.2zM1032.7 430h10.2v32.2h-10.2zM1045.2 430h10.2v32.2h-10.2zM1057.6 430h10.2v32.2h-10.2zM1070 430h10.2v32.2h-10.2zM1082.5 430h10.2v32.2h-10.2zM1094.9 430h10.2v32.2h-10.2zM1107.3 430h10.2v32.2h-10.2zM1119.8 430h10.2v32.2h-10.2zM1132.2 430h10.2v32.2h-10.2zM1144.6 430h10.2v32.2h-10.2zM1157.1 430h10.2v32.2h-10.2zM1169.5 430h10.2v32.2h-10.2zM1181.9 430h10.2v32.2h-10.2zM1194.4 430h10.2v32.2h-10.2zM1206.8 430h10.2v32.2h-10.2zM1219.2 430h10.2v32.2h-10.2zM1231.7 430h10.2v32.2h-10.2zM1244.1 430h10.2v32.2h-10.2zM1269 430h10.2v32.2h-10.2zM1281.4 430h10.2v32.2h-10.2zM1293.9 430h10.2v32.2h-10.2zM1306.3 430h10.2v32.2h-10.2zM1318.7 430h10.2v32.2h-10.2zM1331.2 430h10.2v32.2h-10.2zM1343.6 430h10.2v32.2h-10.2zM1356 430h10.2v32.2h-10.2zM1368.5 430h10.2v32.2h-10.2zM1380.9 430h10.2v32.2h-10.2zM1393.3 430h10.2v32.2h-10.2zM1405.8 430h10.2v32.2h-10.2zM1418.2 430h10.2v32.2h-10.2zM1430.6 430h10.2v32.2h-10.2zM1455.5 430h10.2v32.2h-10.2zM1467.9 430h10.2v32.2h-10.2zM1480.4 430h10.2v32.2h-10.2zM299.1 464.6h10.2v32.2h-10.2zM1094.9 464.6h10.2v32.2h-10.2zM1443.1 464.6h10.2v32.2h-10.2zM286.7 499.2h10.2v32.2h-10.2zM299.1 499.2h10.2v32.2h-10.2zM311.6 499.2h10.2v32.2h-10.2zM361.3 499.2h10.2v32.2h-10.2zM373.7 499.2h10.2v32.2h-10.2zM386.2 499.2h10.2v32.2h-10.2zM398.6 499.2h10.2v32.2h-10.2zM448.3 499.2h10.2v32.2h-10.2zM460.8 499.2h10.2v32.2h-10.2zM498.1 499.2h10.2v32.2h-10.2zM510.5 499.2h10.2v32.2h-10.2zM535.4 499.2h10.2v32.2h-10.2zM560.2 499.2h10.2v32.2h-10.2zM585.1 499.2h10.2v32.2h-10.2zM597.5 499.2h10.2v32.2h-10.2zM610 499.2h10.2v32.2h-10.2zM622.4 499.2h10.2v32.2h-10.2zM647.3 499.2h10.2v32.2h-10.2zM672.2 499.2h10.2v32.2h-10.2zM709.5 499.2h10.2v32.2h-10.2zM721.9 499.2h10.2v32.2h-10.2zM734.3 499.2h10.2v32.2h-10.2zM746.8 499.2h10.2v32.2h-10.2zM771.6 499.2h10.2v32.2h-10.2zM784.1 499.2h10.2v32.2h-10.2zM796.5 499.2h10.2v32.2h-10.2zM808.9 499.2h10.2v32.2h-10.2zM821.4 499.2h10.2v32.2h-10.2zM833.8 499.2h10.2v32.2h-10.2zM846.2 499.2h10.2v32.2h-10.2zM871.1 499.2h10.2v32.2h-10.2zM896 499.2h10.2v32.2h-10.2zM920.8 499.2h10.2v32.2h-10.2zM945.7 499.2h10.2v32.2h-10.2zM958.1 499.2h10.2v32.2h-10.2zM995.4 499.2h10.2v32.2h-10.2zM1020.3 499.2h10.2v32.2h-10.2zM1032.7 499.2h10.2v32.2h-10.2zM1045.2 499.2h10.2v32.2h-10.2zM1057.6 499.2h10.2v32.2h-10.2zM1094.9 499.2h10.2v32.2h-10.2zM1107.3 499.2h10.2v32.2h-10.2zM1119.8 499.2h10.2v32.2h-10.2zM1144.6 499.2h10.2v32.2h-10.2zM1157.1 499.2h10.2v32.2h-10.2zM1169.5 499.2h10.2v32.2h-10.2zM1181.9 499.2h10.2v32.2h-10.2zM1194.4 499.2h10.2v32.2h-10.2zM1219.2 499.2h10.2v32.2h-10.2zM1231.7 499.2h10.2v32.2h-10.2zM1244.1 499.2h10.2v32.2h-10.2zM1256.6 499.2h10.2v32.2h-10.2zM1269 499.2h10.2v32.2h-10.2zM1293.9 499.2h10.2v32.2h-10.2zM1318.7 499.2h10.2v32.2h-10.2zM1331.2 499.2h10.2v32.2h-10.2zM1343.6 499.2h10.2v32.2h-10.2zM1356 499.2h10.2v32.2h-10.2zM1368.5 499.2h10.2v32.2h-10.2zM1380.9 499.2h10.2v32.2h-10.2zM1393.3 499.2h10.2v32.2h-10.2zM1405.8 499.2h10.2v32.2h-10.2zM1418.2 499.2h10.2v32.2h-10.2zM1430.6 499.2h10.2v32.2h-10.2zM1455.5 499.2h10.2v32.2h-10.2zM1480.4 499.2h10.2v32.2h-10.2zM299.1 533.8h10.2v32.2h-10.2zM361.3 533.8h10.2v32.2h-10.2zM373.7 533.8h10.2v32.2h-10.2zM435.9 533.8h10.2v32.2h-10.2zM448.3 533.8h10.2v32.2h-10.2zM547.8 533.8h10.2v32.2h-10.2zM585.1 533.8h10.2v32.2h-10.2zM647.3 533.8h10.2v32.2h-10.2zM659.7 533.8h10.2v32.2h-10.2zM709.5 533.8h10.2v32.2h-10.2zM784.1 533.8h10.2v32.2h-10.2zM846.2 533.8h10.2v32.2h-10.2zM908.4 533.8h10.2v32.2h-10.2zM933.3 533.8h10.2v32.2h-10.2zM1157.1 533.8h10.2v32.2h-10.2zM1169.5 533.8h10.2v32.2h-10.2zM1306.3 533.8h10.2v32.2h-10.2zM1318.7 533.8h10.2v32.2h-10.2zM1331.2 533.8h10.2v32.2h-10.2zM1480.4 533.8h10.2v32.2h-10.2zM597.5 568.4h10.2v32.2h-10.2zM1045.2 568.4h10.2v32.2h-10.2zM1144.6 568.4h10.2v32.2h-10.2z"/>
<rect x="286.7" y="613.2" width="1203.9" height="32.2" fill="url(#pb)"/>
<rect x="286.7" y="647.9" width="1203.9" height="32.2" fill="url(#pb)"/>
<rect x="286.7" y="682.6" width="1203.9" height="32.2" fill="url(#pb)"/>
<rect x="286.7" y="717.4" width="1203.9" height="32.2" fill="url(#pb)"/>
<rect x="286.7" y="752.1" width="1203.9" height="32.2" fill="url(#pb)"/>
<rect x="286.7" y="786.8" width="1203.9" height="32.2" fill="url(#pb)"/>
<rect x="286.7" y="821.5" width="1203.9" height="32.2" fill="url(#pb)"/>
<rect x="286.7" y="856.2" width="1203.9" height="32.2" fill="url(#pb)"/>
<rect x="286.7" y="891" width="1203.9" height="32.2" fill="url(#pb)"/>
<rect x="286.7" y="925.7" width="1203.9" height="32.2" fill="url(#pb)"/>
<rect x="286.7" y="960.4" width="1203.9" height="32.2" fill="url(#pb)"/>
<rect x="286.7" y="995.1" width="1203.9" height="32.2" fill="url(#pb)"/>
<rect x="286.7" y="1029.8" width="1203.9" height="32.2" fill="url(#pb)"/>
<rect x="286.7" y="1064.6" width="1203.9" height="32.2" fill="url(#pb)"/>
<rect x="286.7" y="1099.3" width="1203.9" height="32.2" fill="url(#pb)"/>
<rect x="286.7" y="1134" width="1203.9" height="32.2" fill="url(#pb)"/>
<rect x="286.7" y="1168.7" width="1203.9" height="32.2" fill="url(#pb)"/>
<rect x="286.7" y="1203.4" width="1203.9" height="32.2" fill="url(#pb)"/>
<rect x="286.7" y="1238.2" width="1203.9" height="32.2" fill="url(#pb)"/>
<rect x="286.7" y="1284.4" width="1203.9" height="32" fill="url(#pb)"/>
<rect x="286.7" y="1319.2" width="1203.9" height="32" fill="url(#pb)"/>
<rect x="286.7" y="1354" width="1203.9" height="32" fill="url(#pb)"/>
<rect x="286.7" y="1388.8" width="1203.9" height="32" fill="url(#pb)"/>
<path fill="#4691C9" d="M286.7 613.2h10.2v32.2h-10.2zM299.1 613.2h10.2v32.2h-10.2zM348.9 613.2h10.2v32.2h-10.2zM373.7 613.2h10.2v32.2h-10.2zM386.2 613.2h10.2v32.2h-10.2zM398.6 613.2h10.2v32.2h-10.2zM411 613.2h10.2v32.2h-10.2zM448.3 613.2h10.2v32.2h-10.2zM460.8 613.2h10.2v32.2h-10.2zM473.2 613.2h10.2v32.2h-10.2zM485.6 613.2h10.2v32.2h-10.2zM510.5 613.2h10.2v32.2h-10.2zM535.4 613.2h10.2v32.2h-10.2zM547.8 613.2h10.2v32.2h-10.2zM560.2 613.2h10.2v32.2h-10.2zM572.7 613.2h10.2v32.2h-10.2zM585.1 613.2h10.2v32.2h-10.2zM597.5 613.2h10.2v32.2h-10.2zM647.3 613.2h10.2v32.2h-10.2zM659.7 613.2h10.2v32.2h-10.2zM672.2 613.2h10.2v32.2h-10.2zM697 613.2h10.2v32.2h-10.2zM709.5 613.2h10.2v32.2h-10.2zM721.9 613.2h10.2v32.2h-10.2zM734.3 613.2h10.2v32.2h-10.2zM746.8 613.2h10.2v32.2h-10.2zM771.6 613.2h10.2v32.2h-10.2zM796.5 613.2h10.2v32.2h-10.2zM808.9 613.2h10.2v32.2h-10.2zM286.7 647.9h10.2v32.2h-10.2zM386.2 647.9h10.2v32.2h-10.2zM398.6 647.9h10.2v32.2h-10.2zM908.4 647.9h10.2v32.2h-10.2zM920.8 647.9h10.2v32.2h-10.2zM933.3 647.9h10.2v32.2h-10.2zM945.7 647.9h10.2v32.2h-10.2zM958.1 647.9h10.2v32.2h-10.2zM970.6 647.9h10.2v32.2h-10.2zM983 647.9h10.2v32.2h-10.2zM995.4 647.9h10.2v32.2h-10.2zM1007.9 647.9h10.2v32.2h-10.2zM299.1 682.6h10.2v32.2h-10.2zM423.5 682.6h10.2v32.2h-10.2zM435.9 682.6h10.2v32.2h-10.2zM833.8 682.6h10.2v32.2h-10.2zM846.2 682.6h10.2v32.2h-10.2zM908.4 682.6h10.2v32.2h-10.2zM1020.3 682.6h10.2v32.2h-10.2zM1032.7 682.6h10.2v32.2h-10.2zM286.7 717.4h10.2v32.2h-10.2zM460.8 717.4h10.2v32.2h-10.2zM485.6 717.4h10.2v32.2h-10.2zM498.1 717.4h10.2v32.2h-10.2zM833.8 717.4h10.2v32.2h-10.2zM858.7 717.4h10.2v32.2h-10.2zM920.8 717.4h10.2v32.2h-10.2zM1020.3 717.4h10.2v32.2h-10.2zM311.6 752.1h10.2v32.2h-10.2zM324 752.1h10.2v32.2h-10.2zM336.4 752.1h10.2v32.2h-10.2zM510.5 752.1h10.2v32.2h-10.2zM522.9 752.1h10.2v32.2h-10.2zM920.8 752.1h10.2v32.2h-10.2zM1070 752.1h10.2v32.2h-10.2zM1082.5 752.1h10.2v32.2h-10.2zM933.3 786.8h10.2v32.2h-10.2zM1107.3 786.8h10.2v32.2h-10.2zM324 821.5h10.2v32.2h-10.2zM348.9 821.5h10.2v32.2h-10.2zM460.8 821.5h10.2v32.2h-10.2zM920.8 821.5h10.2v32.2h-10.2zM958.1 821.5h10.2v32.2h-10.2zM1119.8 821.5h10.2v32.2h-10.2zM1132.2 821.5h10.2v32.2h-10.2zM1144.6 821.5h10.2v32.2h-10.2zM510.5 856.2h10.2v32.2h-10.2zM585.1 856.2h10.2v32.2h-10.2zM821.4 856.2h10.2v32.2h-10.2zM846.2 856.2h10.2v32.2h-10.2zM1045.2 856.2h10.2v32.2h-10.2zM1181.9 925.7h10.2v32.2h-10.2zM299.1 995.1h10.2v32.2h-10.2zM460.8 1029.8h10.2v32.2h-10.2zM547.8 1064.6h10.2v32.2h-10.2zM672.2 1064.6h10.2v32.2h-10.2zM821.4 1064.6h10.2v32.2h-10.2zM958.1 1064.6h10.2v32.2h-10.2zM572.7 1099.3h10.2v32.2h-10.2zM1032.7 1099.3h10.2v32.2h-10.2zM299.1 1168.7h10.2v32.2h-10.2zM311.6 1168.7h10.2v32.2h-10.2zM585.1 1168.7h10.2v32.2h-10.2zM697 1203.4h10.2v32.2h-10.2zM286.7 1238.2h10.2v32.2h-10.2zM348.9 1238.2h10.2v32.2h-10.2z"/>
<path fill="#EFB273" d="M311.6 613.2h10.2v32.2h-10.2zM361.3 613.2h10.2v32.2h-10.2zM610 613.2h10.2v32.2h-10.2zM622.4 613.2h10.2v32.2h-10.2zM634.9 613.2h10.2v32.2h-10.2zM784.1 613.2h10.2v32.2h-10.2zM411 682.6h10.2v32.2h-10.2zM386.2 786.8h10.2v32.2h-10.2zM535.4 786.8h10.2v32.2h-10.2zM547.8 786.8h10.2v32.2h-10.2zM560.2 786.8h10.2v32.2h-10.2zM945.7 786.8h10.2v32.2h-10.2zM572.7 856.2h10.2v32.2h-10.2zM535.4 891h10.2v32.2h-10.2zM597.5 891h10.2v32.2h-10.2zM411 925.7h10.2v32.2h-10.2zM423.5 925.7h10.2v32.2h-10.2zM1169.5 925.7h10.2v32.2h-10.2zM1070 995.1h10.2v32.2h-10.2zM1194.4 995.1h10.2v32.2h-10.2zM647.3 1029.8h10.2v32.2h-10.2zM398.6 1134h10.2v32.2h-10.2z"/>
<path fill="#EFB1D4" d="M324 613.2h10.2v32.2h-10.2zM423.5 613.2h10.2v32.2h-10.2zM311.6 717.4h10.2v32.2h-10.2zM411 717.4h10.2v32.2h-10.2zM299.1 752.1h10.2v32.2h-10.2zM510.5 891h10.2v32.2h-10.2zM435.9 925.7h10.2v32.2h-10.2zM572.7 925.7h10.2v32.2h-10.2zM386.2 960.4h10.2v32.2h-10.2zM411 960.4h10.2v32.2h-10.2zM1157.1 960.4h10.2v32.2h-10.2zM622.4 995.1h10.2v32.2h-10.2zM1119.8 995.1h10.2v32.2h-10.2zM659.7 1029.8h10.2v32.2h-10.2zM920.8 1029.8h10.2v32.2h-10.2zM1206.8 1029.8h10.2v32.2h-10.2zM299.1 1134h10.2v32.2h-10.2zM386.2 1134h10.2v32.2h-10.2zM684.6 1134h10.2v32.2h-10.2z"/>
<path fill="#9FEE8B" d="M336.4 613.2h10.2v32.2h-10.2zM821.4 647.9h10.2v32.2h-10.2zM386.2 682.6h10.2v32.2h-10.2zM448.3 682.6h10.2v32.2h-10.2zM1057.6 717.4h10.2v32.2h-10.2zM398.6 752.1h10.2v32.2h-10.2zM411 821.5h10.2v32.2h-10.2zM871.1 856.2h10.2v32.2h-10.2zM1157.1 891h10.2v32.2h-10.2zM411 1099.3h10.2v32.2h-10.2z"/>
<path fill="#AD4650" d="M435.9 613.2h10.2v32.2h-10.2zM498.1 613.2h10.2v32.2h-10.2zM522.9 613.2h10.2v32.2h-10.2zM684.6 613.2h10.2v32.2h-10.2zM759.2 613.2h10.2v32.2h-10.2zM1045.2 682.6h10.2v32.2h-10.2zM473.2 717.4h10.2v32.2h-10.2zM411 891h10.2v32.2h-10.2zM423.5 891h10.2v32.2h-10.2zM846.2 891h10.2v32.2h-10.2zM610 925.7h10.2v32.2h-10.2zM348.9 1064.6h10.2v32.2h-10.2z"/>
<path fill="#F07E22" d="M1032.7 786.8h10.2v32.2h-10.2zM1094.9 786.8h10.2v32.2h-10.2zM908.4 856.2h10.2v32.2h-10.2zM622.4 960.4h10.2v32.2h-10.2zM386.2 1099.3h10.2v32.2h-10.2zM535.4 1203.4h10.2v32.2h-10.2zM634.9 1203.4h10.2v32.2h-10.2z"/>
<path fill="#F28F90" d="M634.9 960.4h10.2v32.2h-10.2z"/>
<path fill="#D04B9F" d="M361.3 1284.4h10.2v32h-10.2zM373.7 1284.4h10.2v32h-10.2zM473.2 1284.4h10.2v32h-10.2zM510.5 1284.4h10.2v32h-10.2zM585.1 1284.4h10.2v32h-10.2zM597.5 1284.4h10.2v32h-10.2zM610 1284.4h10.2v32h-10.2zM784.1 1284.4h10.2v32h-10.2zM871.1 1284.4h10.2v32h-10.2zM883.5 1284.4h10.2v32h-10.2zM958.1 1284.4h10.2v32h-10.2zM1169.5 1284.4h10.2v32h-10.2zM1380.9 1284.4h10.2v32h-10.2zM286.7 1319.2h10.2v32h-10.2zM361.3 1319.2h10.2v32h-10.2zM522.9 1319.2h10.2v32h-10.2zM647.3 1319.2h10.2v32h-10.2zM697 1319.2h10.2v32h-10.2zM1020.3 1319.2h10.2v32h-10.2zM1169.5 1319.2h10.2v32h-10.2zM1194.4 1319.2h10.2v32h-10.2z"/>
<path fill="#22477A" d="M286.7 1354h10.2v32h-10.2zM348.9 1354h10.2v32h-10.2zM361.3 1354h10.2v32h-10.2zM373.7 1354h10.2v32h-10.2zM435.9 1354h10.2v32h-10.2zM460.8 1354h10.2v32h-10.2zM473.2 1354h10.2v32h-10.2zM485.6 1354h10.2v32h-10.2zM498.1 1354h10.2v32h-10.2zM522.9 1354h10.2v32h-10.2zM547.8 1354h10.2v32h-10.2zM560.2 1354h10.2v32h-10.2zM585.1 1354h10.2v32h-10.2zM634.9 1354h10.2v32h-10.2zM647.3 1354h10.2v32h-10.2zM659.7 1354h10.2v32h-10.2zM672.2 1354h10.2v32h-10.2zM684.6 1354h10.2v32h-10.2zM709.5 1354h10.2v32h-10.2zM721.9 1354h10.2v32h-10.2zM759.2 1354h10.2v32h-10.2zM821.4 1354h10.2v32h-10.2zM858.7 1354h10.2v32h-10.2zM871.1 1354h10.2v32h-10.2zM896 1354h10.2v32h-10.2zM1032.7 1354h10.2v32h-10.2zM1094.9 1354h10.2v32h-10.2zM1119.8 1354h10.2v32h-10.2zM1132.2 1354h10.2v32h-10.2zM1181.9 1354h10.2v32h-10.2zM1194.4 1354h10.2v32h-10.2zM1306.3 1354h10.2v32h-10.2zM1405.8 1354h10.2v32h-10.2zM1418.2 1354h10.2v32h-10.2zM1443.1 1354h10.2v32h-10.2zM299.1 1388.8h10.2v32h-10.2zM361.3 1388.8h10.2v32h-10.2zM386.2 1388.8h10.2v32h-10.2zM411 1388.8h10.2v32h-10.2zM423.5 1388.8h10.2v32h-10.2zM435.9 1388.8h10.2v32h-10.2zM448.3 1388.8h10.2v32h-10.2zM473.2 1388.8h10.2v32h-10.2zM485.6 1388.8h10.2v32h-10.2zM498.1 1388.8h10.2v32h-10.2zM572.7 1388.8h10.2v32h-10.2zM622.4 1388.8h10.2v32h-10.2zM634.9 1388.8h10.2v32h-10.2zM672.2 1388.8h10.2v32h-10.2zM709.5 1388.8h10.2v32h-10.2zM759.2 1388.8h10.2v32h-10.2zM771.6 1388.8h10.2v32h-10.2zM821.4 1388.8h10.2v32h-10.2zM858.7 1388.8h10.2v32h-10.2zM871.1 1388.8h10.2v32h-10.2zM970.6 1388.8h10.2v32h-10.2zM1007.9 1388.8h10.2v32h-10.2zM1020.3 1388.8h10.2v32h-10.2zM1032.7 1388.8h10.2v32h-10.2zM1057.6 1388.8h10.2v32h-10.2zM1070 1388.8h10.2v32h-10.2zM1082.5 1388.8h10.2v32h-10.2zM1119.8 1388.8h10.2v32h-10.2zM1132.2 1388.8h10.2v32h-10.2zM1169.5 1388.8h10.2v32h-10.2zM1181.9 1388.8h10.2v32h-10.2zM1194.4 1388.8h10.2v32h-10.2zM1331.2 1388.8h10.2v32h-10.2zM1418.2 1388.8h10.2v32h-10.2zM1480.4 1388.8h10.2v32h-10.2z"/>
<text x="268" y="635.3" font-size="22.3" text-anchor="end" font-style="italic">TP53</text>
<text x="268" y="670" font-size="22.3" text-anchor="end" font-style="italic">CTNNB1</text>
<text x="268" y="704.7" font-size="22.3" text-anchor="end" font-style="italic">HMCN1</text>
<text x="268" y="739.5" font-size="22.3" text-anchor="end" font-style="italic">SYNE1</text>
<text x="268" y="774.2" font-size="22.3" text-anchor="end" font-style="italic">XIRP2</text>
<text x="268" y="808.9" font-size="22.3" text-anchor="end" font-style="italic">ALB</text>
<text x="268" y="843.6" font-size="22.3" text-anchor="end" font-style="italic">CFAP46</text>
<text x="268" y="878.3" font-size="22.3" text-anchor="end" font-style="italic">APOB</text>
<text x="268" y="913.1" font-size="22.3" text-anchor="end" font-style="italic">RB1</text>
<text x="268" y="947.8" font-size="22.3" text-anchor="end" font-style="italic">TSC2</text>
<text x="268" y="982.5" font-size="22.3" text-anchor="end" font-style="italic">ARID1A</text>
<text x="268" y="1017.2" font-size="22.3" text-anchor="end" font-style="italic">AXIN1</text>
<text x="268" y="1051.9" font-size="22.3" text-anchor="end" font-style="italic">BRD7</text>
<text x="268" y="1086.7" font-size="22.3" text-anchor="end" font-style="italic">CDKN2A</text>
<text x="268" y="1121.4" font-size="22.3" text-anchor="end" font-style="italic">KEAP1</text>
<text x="268" y="1156.1" font-size="22.3" text-anchor="end" font-style="italic">PTEN</text>
<text x="268" y="1190.8" font-size="22.3" text-anchor="end" font-style="italic">PIK3CA</text>
<text x="268" y="1225.5" font-size="22.3" text-anchor="end" font-style="italic">TSC1</text>
<text x="268" y="1260.3" font-size="22.3" text-anchor="end" font-style="italic">ACVR2A</text>
<text x="268" y="1307" font-size="22.4" text-anchor="end">5p15.33</text>
<text x="268" y="1341.8" font-size="22.4" text-anchor="end">11q13.3</text>
<text x="268" y="1376.6" font-size="22.4" text-anchor="end">9p21.3</text>
<text x="268" y="1411.4" font-size="22.4" text-anchor="end">16p13.3</text>
<text x="139" y="943.5" font-size="22.6" text-anchor="middle" transform="rotate(-90 139 943.5)">SNV</text>
<text x="139" y="1354.6" font-size="22.6" text-anchor="middle" transform="rotate(-90 139 1354.6)">CNA</text>
<text x="1499.6" y="636.9" font-size="22.4">44%</text>
<rect x="1553.8" y="618.9" width="13.5" height="20.6" fill="#EFB273"/>
<rect x="1567.3" y="618.9" width="65.4" height="20.6" fill="#4691C9"/>
<rect x="1632.8" y="618.9" width="2.3" height="20.6" fill="#9FEE8B"/>
<rect x="1635" y="618.9" width="4.5" height="20.6" fill="#EFB1D4"/>
<rect x="1639.5" y="618.9" width="11.3" height="20.6" fill="#AD4650"/>
<rect x="1669.2" y="618.9" width="66" height="20.6" fill="#CDE6E8"/>
<text x="1683.8" y="636.9" font-size="22.4">29%</text>
<rect x="1769.8" y="618.9" width="130.5" height="20.6" fill="#E9EFCB"/>
<text x="1793" y="636.9" font-size="22.4">58%</text>
<text x="1499.6" y="671.5" font-size="22.4">13%</text>
<rect x="1553.8" y="653.6" width="27.1" height="20.6" fill="#4691C9"/>
<rect x="1580.9" y="653.6" width="2.3" height="20.6" fill="#9FEE8B"/>
<rect x="1669.2" y="653.6" width="56.9" height="20.6" fill="#CDE6E8"/>
<text x="1683.8" y="671.5" font-size="22.4">25%</text>
<rect x="1769.8" y="653.6" width="42.8" height="20.6" fill="#E9EFCB"/>
<text x="1793" y="671.5" font-size="22.4">19%</text>
<text x="1499.6" y="706.2" font-size="22.4">12%</text>
<rect x="1556.1" y="688.3" width="18" height="20.6" fill="#4691C9"/>
<rect x="1574.1" y="688.3" width="4.5" height="20.6" fill="#9FEE8B"/>
<rect x="1578.6" y="688.3" width="2.9" height="20.6" fill="#AD4650"/>
<rect x="1669.2" y="688.3" width="20.5" height="20.6" fill="#CDE6E8"/>
<text x="1683.8" y="706.2" font-size="22.4">9%</text>
<rect x="1769.8" y="688.3" width="24.8" height="20.6" fill="#E9EFCB"/>
<text x="1793" y="706.2" font-size="22.4">11%</text>
<text x="1499.6" y="740.8" font-size="22.4">12%</text>
<rect x="1553.8" y="723.1" width="18" height="20.6" fill="#4691C9"/>
<rect x="1571.8" y="723.1" width="2.3" height="20.6" fill="#9FEE8B"/>
<rect x="1574.1" y="723.1" width="4.5" height="20.6" fill="#EFB1D4"/>
<rect x="1578.6" y="723.1" width="2.9" height="20.6" fill="#AD4650"/>
<rect x="1669.2" y="723.1" width="11.4" height="20.6" fill="#CDE6E8"/>
<text x="1683.8" y="740.8" font-size="22.4">5%</text>
<rect x="1769.8" y="723.1" width="18" height="20.6" fill="#E9EFCB"/>
<text x="1793" y="740.8" font-size="22.4">8%</text>
<text x="1499.6" y="775.4" font-size="22.4">10%</text>
<rect x="1553.8" y="757.8" width="18" height="20.6" fill="#4691C9"/>
<rect x="1571.8" y="757.8" width="2.3" height="20.6" fill="#9FEE8B"/>
<rect x="1574.1" y="757.8" width="2.9" height="20.6" fill="#EFB1D4"/>
<rect x="1669.2" y="757.8" width="25" height="20.6" fill="#CDE6E8"/>
<text x="1683.8" y="775.4" font-size="22.4">11%</text>
<rect x="1769.8" y="757.8" width="27" height="20.6" fill="#E9EFCB"/>
<text x="1793" y="775.4" font-size="22.4">12%</text>
<text x="1499.6" y="810" font-size="22.4">9%</text>
<rect x="1553.8" y="792.5" width="11.3" height="20.6" fill="#EFB273"/>
<rect x="1565.1" y="792.5" width="4.5" height="20.6" fill="#F07E22"/>
<rect x="1569.6" y="792.5" width="4.5" height="20.6" fill="#4691C9"/>
<rect x="1669.2" y="792.5" width="29.6" height="20.6" fill="#CDE6E8"/>
<text x="1683.8" y="810" font-size="22.4">13%</text>
<rect x="1769.8" y="792.5" width="20.2" height="20.6" fill="#E9EFCB"/>
<text x="1793" y="810" font-size="22.4">9%</text>
<text x="1499.6" y="844.7" font-size="22.4">9%</text>
<rect x="1553.8" y="827.2" width="18" height="20.6" fill="#4691C9"/>
<rect x="1571.8" y="827.2" width="2.3" height="20.6" fill="#9FEE8B"/>
<rect x="1669.2" y="827.2" width="4.6" height="20.6" fill="#CDE6E8"/>
<text x="1683.8" y="844.7" font-size="22.4">2%</text>
<rect x="1769.8" y="827.2" width="13.5" height="20.6" fill="#E9EFCB"/>
<text x="1793" y="844.7" font-size="22.4">6%</text>
<text x="1499.6" y="879.3" font-size="22.4">8%</text>
<rect x="1556.1" y="861.9" width="1.8" height="20.6" fill="#F07E22"/>
<rect x="1557.9" y="861.9" width="11.3" height="20.6" fill="#4691C9"/>
<rect x="1569.1" y="861.9" width="2.7" height="20.6" fill="#9FEE8B"/>
<rect x="1669.2" y="861.9" width="22.8" height="20.6" fill="#CDE6E8"/>
<text x="1683.8" y="879.3" font-size="22.4">10%</text>
<rect x="1769.8" y="861.9" width="22.5" height="20.6" fill="#E9EFCB"/>
<text x="1793" y="879.3" font-size="22.4">10%</text>
<text x="1499.6" y="913.9" font-size="22.4">7%</text>
<rect x="1553.8" y="896.7" width="4.5" height="20.6" fill="#EFB273"/>
<rect x="1558.3" y="896.7" width="2.3" height="20.6" fill="#9FEE8B"/>
<rect x="1560.6" y="896.7" width="2.3" height="20.6" fill="#EFB1D4"/>
<rect x="1562.8" y="896.7" width="6.8" height="20.6" fill="#AD4650"/>
<rect x="1669.2" y="896.7" width="9.1" height="20.6" fill="#CDE6E8"/>
<text x="1683.8" y="913.9" font-size="22.4">4%</text>
<rect x="1769.8" y="896.7" width="13.5" height="20.6" fill="#E9EFCB"/>
<text x="1793" y="913.9" font-size="22.4">6%</text>
<text x="1499.6" y="948.6" font-size="22.4">7%</text>
<rect x="1553.8" y="931.4" width="6.8" height="20.6" fill="#EFB273"/>
<rect x="1560.6" y="931.4" width="2.3" height="20.6" fill="#4691C9"/>
<rect x="1562.8" y="931.4" width="4.5" height="20.6" fill="#EFB1D4"/>
<rect x="1567.3" y="931.4" width="2.3" height="20.6" fill="#AD4650"/>
<rect x="1669.2" y="931.4" width="6.8" height="20.6" fill="#CDE6E8"/>
<text x="1683.8" y="948.6" font-size="22.4">3%</text>
<rect x="1769.8" y="931.4" width="15.8" height="20.6" fill="#E9EFCB"/>
<text x="1793" y="948.6" font-size="22.4">7%</text>
<text x="1499.6" y="983.2" font-size="22.4">5%</text>
<rect x="1556.1" y="966.1" width="1.8" height="20.6" fill="#F28F90"/>
<rect x="1557.9" y="966.1" width="7.2" height="20.6" fill="#EFB1D4"/>
<rect x="1669.2" y="966.1" width="18.2" height="20.6" fill="#CDE6E8"/>
<text x="1683.8" y="983.2" font-size="22.4">8%</text>
<rect x="1769.8" y="966.1" width="22.5" height="20.6" fill="#E9EFCB"/>
<text x="1793" y="983.2" font-size="22.4">10%</text>
<text x="1499.6" y="1017.8" font-size="22.4">5%</text>
<rect x="1553.8" y="1000.8" width="4.5" height="20.6" fill="#EFB273"/>
<rect x="1558.3" y="1000.8" width="2.3" height="20.6" fill="#4691C9"/>
<rect x="1560.6" y="1000.8" width="4.5" height="20.6" fill="#EFB1D4"/>
<rect x="1669.2" y="1000.8" width="18.2" height="20.6" fill="#CDE6E8"/>
<text x="1683.8" y="1017.8" font-size="22.4">8%</text>
<rect x="1769.8" y="1000.8" width="40.5" height="20.6" fill="#E9EFCB"/>
<text x="1793" y="1017.8" font-size="22.4">18%</text>
<text x="1499.6" y="1052.5" font-size="22.4">5%</text>
<rect x="1556.1" y="1035.5" width="2.3" height="20.6" fill="#4691C9"/>
<rect x="1558.3" y="1035.5" width="6.8" height="20.6" fill="#EFB1D4"/>
<rect x="1669.2" y="1035.5" width="6.8" height="20.6" fill="#CDE6E8"/>
<text x="1683.8" y="1052.5" font-size="22.4">3%</text>
<rect x="1769.8" y="1035.5" width="9" height="20.6" fill="#E9EFCB"/>
<text x="1793" y="1052.5" font-size="22.4">4%</text>
<text x="1499.6" y="1087.1" font-size="22.4">5%</text>
<rect x="1553.8" y="1070.3" width="9" height="20.6" fill="#4691C9"/>
<rect x="1562.8" y="1070.3" width="2.3" height="20.6" fill="#AD4650"/>
<rect x="1669.2" y="1070.3" width="4.6" height="20.6" fill="#CDE6E8"/>
<text x="1683.8" y="1087.1" font-size="22.4">2%</text>
<rect x="1769.8" y="1070.3" width="9" height="20.6" fill="#E9EFCB"/>
<text x="1793" y="1087.1" font-size="22.4">4%</text>
<text x="1499.6" y="1121.7" font-size="22.4">4%</text>
<rect x="1556.1" y="1105" width="4.5" height="20.6" fill="#4691C9"/>
<rect x="1560.6" y="1105" width="2.3" height="20.6" fill="#9FEE8B"/>
<rect x="1562.8" y="1105" width="1.1" height="20.6" fill="#9C8A3C"/>
<rect x="1669.2" y="1105" width="11.4" height="20.6" fill="#CDE6E8"/>
<text x="1683.8" y="1121.7" font-size="22.4">5%</text>
<rect x="1769.8" y="1105" width="15.8" height="20.6" fill="#E9EFCB"/>
<text x="1793" y="1121.7" font-size="22.4">7%</text>
<text x="1499.6" y="1156.3" font-size="22.4">4%</text>
<rect x="1556.1" y="1139.7" width="6.8" height="20.6" fill="#EFB1D4"/>
<rect x="1562.8" y="1139.7" width=".9" height="20.6" fill="#F28F90"/>
<rect x="1669.2" y="1139.7" width="6.8" height="20.6" fill="#CDE6E8"/>
<text x="1683.8" y="1156.3" font-size="22.4">3%</text>
<rect x="1769.8" y="1139.7" width="9" height="20.6" fill="#E9EFCB"/>
<text x="1793" y="1156.3" font-size="22.4">4%</text>
<text x="1499.6" y="1191" font-size="22.4">3%</text>
<rect x="1553.8" y="1174.4" width="6.8" height="20.6" fill="#4691C9"/>
<rect x="1669.2" y="1174.4" width="9.1" height="20.6" fill="#CDE6E8"/>
<text x="1683.8" y="1191" font-size="22.4">4%</text>
<rect x="1769.8" y="1174.4" width="9" height="20.6" fill="#E9EFCB"/>
<text x="1793" y="1191" font-size="22.4">4%</text>
<text x="1499.6" y="1225.6" font-size="22.4">3%</text>
<rect x="1553.8" y="1209.1" width="4.5" height="20.6" fill="#F07E22"/>
<rect x="1558.3" y="1209.1" width="2.3" height="20.6" fill="#4691C9"/>
<rect x="1669.2" y="1209.1" width="4.6" height="20.6" fill="#CDE6E8"/>
<text x="1683.8" y="1225.6" font-size="22.4">2%</text>
<rect x="1769.8" y="1209.1" width="2.2" height="20.6" fill="#E9EFCB"/>
<text x="1793" y="1225.6" font-size="22.4">1%</text>
<text x="1499.6" y="1260.2" font-size="22.4">2%</text>
<rect x="1553.8" y="1243.9" width="4.5" height="20.6" fill="#4691C9"/>
<rect x="1669.2" y="1243.9" width="6.8" height="20.6" fill="#CDE6E8"/>
<text x="1683.8" y="1260.2" font-size="22.4">3%</text>
<rect x="1769.8" y="1243.9" width="2.2" height="20.6" fill="#E9EFCB"/>
<text x="1793" y="1260.2" font-size="22.4">1%</text>
<text x="1499.6" y="1306.7" font-size="22.4">13%</text>
<text x="1499.6" y="1341.5" font-size="22.4">8%</text>
<text x="1499.6" y="1376.3" font-size="22.4">36%</text>
<text x="1499.6" y="1411.1" font-size="22.4">36%</text>
<line x1="1553.8" y1="609.2" x2="1689.4" y2="609.2" stroke="#222" stroke-width="1.8"/>
<line x1="1553.8" y1="604.5" x2="1553.8" y2="610.1" stroke="#222" stroke-width="1.8"/>
<text x="1553.3" y="599.2" font-size="22.4" text-anchor="middle">0</text>
<line x1="1599.2" y1="604.5" x2="1599.2" y2="610.1" stroke="#222" stroke-width="1.8"/>
<text x="1599.5" y="599.2" font-size="22.4" text-anchor="middle">20</text>
<line x1="1644.4" y1="604.5" x2="1644.4" y2="610.1" stroke="#222" stroke-width="1.8"/>
<text x="1644.7" y="599.2" font-size="22.4" text-anchor="middle">40</text>
<line x1="1689.4" y1="604.5" x2="1689.4" y2="610.1" stroke="#222" stroke-width="1.8"/>
<text x="1689.7" y="599.2" font-size="22.4" text-anchor="middle">60</text>
<text x="1651.3" y="955" font-size="22.4" text-anchor="middle" transform="rotate(-90 1651.3 955)">TCGA-LIHC (n = 377)</text>
<text x="1758.2" y="953" font-size="22.4" text-anchor="middle" transform="rotate(-90 1758.2 953)" xml:space="preserve">Gao et al.  2019 (n = 159)</text>
<rect x="1520.1" y="24.2" width="27.5" height="27.5" fill="#6FBBD0"/>
<text x="1556.5" y="45.8" font-size="22.6">Non synonymous</text>
<rect x="1520.1" y="54.6" width="27.5" height="27.5" fill="#4C93AD"/>
<text x="1556.5" y="78.2" font-size="22.6">Synonymous</text>
<text x="1781.8" y="44.9" font-size="22.6">Age</text>
<defs><linearGradient id="gAge" x1="0" y1="0" x2="0" y2="1"><stop offset="0" stop-color="#2A5C7C"/><stop offset="0.45" stop-color="#7FA0B2"/><stop offset="0.8" stop-color="#DCE9EC"/><stop offset="1" stop-color="#F4FAFA"/></linearGradient><linearGradient id="gTmb" x1="0" y1="0" x2="0" y2="1"><stop offset="0" stop-color="#CA9CF6"/><stop offset="0.35" stop-color="#D6B6F6"/><stop offset="0.8" stop-color="#EBEAF9"/><stop offset="1" stop-color="#F3F9FA"/></linearGradient></defs>
<rect x="1784.7" y="55.5" width="40.5" height="47.9" fill="url(#gAge)"/>
<rect x="1785.5" y="58" width="9.5" height="2.6" fill="#fff"/>
<rect x="1815" y="58" width="9.5" height="2.6" fill="#fff"/>
<rect x="1785.5" y="99" width="9.5" height="2.6" fill="#fff"/>
<rect x="1815" y="99" width="9.5" height="2.6" fill="#fff"/>
<text x="1832" y="68.4" font-size="22.6">80</text>
<text x="1831" y="108.6" font-size="22.6">20</text>
<text x="1519" y="125.5" font-size="22.6">Mutation signature</text>
<rect x="1520.1" y="141.8" width="27.5" height="27.5" fill="#98D783"/>
<text x="1555.6" y="163.3" font-size="22.6">C&gt;A</text>
<rect x="1520.1" y="172.2" width="27.5" height="27.5" fill="#98CBC9"/>
<text x="1555.6" y="193.9" font-size="22.6">C&gt;G</text>
<rect x="1520.1" y="202.6" width="27.5" height="27.5" fill="#EAB072"/>
<text x="1555.6" y="224.5" font-size="22.6">C&gt;T</text>
<rect x="1623.5" y="141.8" width="27.5" height="27.5" fill="#E8898F"/>
<text x="1659" y="162.2" font-size="22.6">T&gt;C</text>
<rect x="1623.5" y="172.2" width="27.5" height="27.5" fill="#D23A35"/>
<text x="1659" y="193.1" font-size="22.6">T&gt;G</text>
<rect x="1623.5" y="202.6" width="27.5" height="27.5" fill="#CFD584"/>
<text x="1661" y="224" font-size="22.6">T&gt;A</text>
<text x="1783" y="161" font-size="22.6">TMB</text>
<rect x="1786.8" y="171.3" width="40.5" height="63.5" fill="url(#gTmb)"/>
<rect x="1787.5" y="174.1" width="9.5" height="2.6" fill="#fff"/>
<rect x="1817" y="174.1" width="9.5" height="2.6" fill="#fff"/>
<rect x="1787.5" y="229.8" width="9.5" height="2.6" fill="#fff"/>
<rect x="1817" y="229.8" width="9.5" height="2.6" fill="#fff"/>
<text x="1834" y="188.3" font-size="22.6">15</text>
<text x="1834" y="239" font-size="22.6">0</text>
<text x="1519.5" y="286.9" font-size="22.6">TNM stage</text>
<text x="1668.7" y="286.9" font-size="22.6">Spatial pattern</text>
<rect x="1520.1" y="298.1" width="27.5" height="27.5" fill="#4591C4"/>
<text x="1557.3" y="320.9" font-size="22.6">I</text>
<rect x="1520.1" y="328.6" width="27.5" height="27.5" fill="#3C9E5F"/>
<text x="1557.3" y="351.2" font-size="22.6">II</text>
<rect x="1520.1" y="359" width="27.5" height="27.5" fill="#F1902D"/>
<text x="1557.3" y="381.5" font-size="22.6">III</text>
<rect x="1520.1" y="389.5" width="27.5" height="27.5" fill="#E4452F"/>
<text x="1557.3" y="411.8" font-size="22.6">IV</text>
<rect x="1668.1" y="298.1" width="27.5" height="27.5" fill="#DD4A39"/>
<text x="1703.2" y="320.8" font-size="22.6">SP-HI</text>
<rect x="1668.1" y="328.6" width="27.5" height="27.5" fill="#66BCC8"/>
<text x="1703.2" y="351.2" font-size="22.6">SP-LI</text>
<rect x="1668.1" y="359" width="27.5" height="27.5" fill="#E0907C"/>
<text x="1703.2" y="381.6" font-size="22.6">SP-PF</text>
<text x="1516" y="468.5" font-size="22.6">Sex</text>
<text x="1668.7" y="449.4" font-size="22.6">Molecular/clinical</text>
<text x="1668.7" y="476" font-size="22.6">features</text>
<rect x="1520.1" y="486.3" width="27.5" height="27.5" fill="#000"/>
<text x="1553.5" y="507" font-size="22.6">Male</text>
<rect x="1520.1" y="516.1" width="27.5" height="27.5" fill="#F0F0F0"/>
<text x="1553.5" y="539.4" font-size="22.6">Female</text>
<rect x="1668.1" y="486.3" width="27.5" height="27.5" fill="#000"/>
<text x="1700.3" y="509.3" font-size="22.6">Yes</text>
<rect x="1668.1" y="516.1" width="27.5" height="27.5" fill="#F0F0F0"/>
<text x="1700.3" y="536.5" font-size="22.6">No</text>
<rect x="1566.5" y="1289.5" width="27.4" height="27" fill="#EFB273"/>
<text x="1600.5" y="1309.7" font-size="20.7">Frameshift deletion</text>
<rect x="1566.5" y="1321.8" width="27.4" height="27" fill="#F07E22"/>
<text x="1600.5" y="1342" font-size="20.7">Frameshift insertion</text>
<rect x="1566.5" y="1356.4" width="27.4" height="27" fill="#4691C9"/>
<text x="1600.5" y="1376.6" font-size="20.7">Missense</text>
<rect x="1566.5" y="1391" width="27.4" height="27" fill="#9FEE8B"/>
<text x="1600.5" y="1410.6" font-size="20.7">Multi hit</text>
<rect x="1566.5" y="1424.8" width="27.4" height="27" fill="#D04B9F"/>
<text x="1600.5" y="1444.6" font-size="20.7">Copy number gain</text>
<rect x="1841" y="1296.2" width="27.4" height="27" fill="#EFB1D4"/>
<text x="1875.3" y="1316.3" font-size="20.7">Nonsense</text>
<rect x="1841" y="1328.7" width="27.4" height="27" fill="#AD4650"/>
<text x="1875.3" y="1348.9" font-size="20.7">Splice site</text>
<rect x="1710.5" y="1356.4" width="27.4" height="27" fill="#F28F90"/>
<text x="1745.1" y="1376.6" font-size="20.7">Nonframeshift deletion</text>
<rect x="1710.5" y="1391" width="27.4" height="27" fill="#CFA5F5"/>
<text x="1745.1" y="1410.6" font-size="20.7">Nonframeshift insertion</text>
<rect x="1785.8" y="1424.8" width="27.4" height="27" fill="#22477A"/>
<text x="1820.5" y="1444.6" font-size="20.7">Copy number loss</text>
<text x="2.5" y="1493.1" font-size="25" font-weight="bold">b</text>
<text x="294.4" y="1502.1" font-size="25.8" text-anchor="middle">ESTIMATE deconvolution</text>
<rect x="203.6" y="1640.3" width="50.4" height="40.4" fill="#FFFFFF" stroke="#9A9A9A" stroke-width="0.8"/>
<rect x="254" y="1640.3" width="50.4" height="40.4" fill="#7577B8" stroke="#9A9A9A" stroke-width="0.8"/>
<rect x="304.3" y="1640.3" width="50.4" height="40.4" fill="#8284C0" stroke="#9A9A9A" stroke-width="0.8"/>
<rect x="203.6" y="1680.7" width="50.4" height="40.4" fill="#EDBE94" stroke="#9A9A9A" stroke-width="0.8"/>
<rect x="254" y="1680.7" width="50.4" height="40.4" fill="#8B8DC6" stroke="#9A9A9A" stroke-width="0.8"/>
<rect x="304.3" y="1680.7" width="50.4" height="40.4" fill="#9193C8" stroke="#9A9A9A" stroke-width="0.8"/>
<rect x="203.6" y="1721.1" width="50.4" height="40.4" fill="#F5E8DA" stroke="#9A9A9A" stroke-width="0.8"/>
<rect x="254" y="1721.1" width="50.4" height="40.4" fill="#E5863A" stroke="#9A9A9A" stroke-width="0.8"/>
<rect x="304.3" y="1721.1" width="50.4" height="40.4" fill="#E5863A" stroke="#9A9A9A" stroke-width="0.8"/>
<text x="237" y="1631.5" font-size="22.4" transform="rotate(-90 237 1631.5)">SP-HI</text>
<text x="287.4" y="1631.5" font-size="22.4" transform="rotate(-90 287.4 1631.5)">SP-LI</text>
<text x="337.7" y="1631.5" font-size="22.4" transform="rotate(-90 337.7 1631.5)">SP-PF</text>
<text x="386.6" y="1628.3" font-size="20.7" transform="rotate(-90 386.6 1628.3)">p value</text>
<text x="195" y="1669.8" font-size="22.4" text-anchor="end">Stromal cell</text>
<text x="195" y="1706.7" font-size="22.4" text-anchor="end">Immune cell</text>
<text x="195" y="1747.2" font-size="22.4" text-anchor="end">Tumor purity</text>
<text x="358.1" y="1674.2" font-size="20.7">0.04</text>
<text x="358.1" y="1714" font-size="20.7">0.0005</text>
<text x="358.1" y="1754.9" font-size="20.7">0.004</text>
<text x="202.6" y="1789.8" font-size="20.7" text-anchor="end">Scaled Exp.</text>
<defs><linearGradient id="gB" x1="0" y1="0" x2="1" y2="0"><stop offset="0" stop-color="#3B3B9E"/><stop offset="0.5" stop-color="#FFFFFF"/><stop offset="1" stop-color="#E5842F"/></linearGradient><linearGradient id="gC" x1="0" y1="0" x2="0" y2="1"><stop offset="0" stop-color="#D73027"/><stop offset="0.125" stop-color="#E8553A"/><stop offset="0.25" stop-color="#F88D52"/><stop offset="0.375" stop-color="#FDC980"/><stop offset="0.5" stop-color="#FFFFBF"/><stop offset="0.625" stop-color="#E0F3F8"/><stop offset="0.75" stop-color="#ABD9E9"/><stop offset="0.875" stop-color="#74ADD1"/><stop offset="1" stop-color="#4575B4"/></linearGradient></defs>
<rect x="204.9" y="1773.1" width="148.8" height="22.3" fill="url(#gB)"/>
<rect x="208.7" y="1773.1" width="2.4" height="4.5" fill="#fff"/>
<rect x="208.7" y="1790.9" width="2.4" height="4.5" fill="#fff"/>
<rect x="347" y="1773.1" width="2.4" height="4.5" fill="#fff"/>
<rect x="347" y="1790.9" width="2.4" height="4.5" fill="#fff"/>
<text x="214.2" y="1811.3" font-size="20.7" text-anchor="middle">0.3</text>
<text x="282.3" y="1811.3" font-size="20.7" text-anchor="middle">0.5</text>
<text x="349.8" y="1811.3" font-size="20.7" text-anchor="middle">0.7</text>
<text x="591" y="1494" font-size="25" font-weight="bold">c</text>
<text x="899.7" y="1502.3" font-size="25.8" text-anchor="middle">MCP-counter deconvolution</text>
<rect x="651.3" y="1647.6" width="48.7" height="43.2" fill="#F4F9C0" stroke="#9A9A9A" stroke-width="0.8"/>
<rect x="700" y="1647.6" width="48.7" height="43.2" fill="#F1F8B9" stroke="#9A9A9A" stroke-width="0.8"/>
<rect x="748.6" y="1647.6" width="48.7" height="43.2" fill="#E1F2F2" stroke="#9A9A9A" stroke-width="0.8"/>
<rect x="797.3" y="1647.6" width="48.7" height="43.2" fill="#E0F2F5" stroke="#9A9A9A" stroke-width="0.8"/>
<rect x="845.9" y="1647.6" width="48.7" height="43.2" fill="#E6F3EA" stroke="#9A9A9A" stroke-width="0.8"/>
<rect x="894.6" y="1647.6" width="48.7" height="43.2" fill="#7FAFD3" stroke="#9A9A9A" stroke-width="0.8"/>
<rect x="943.3" y="1647.6" width="48.7" height="43.2" fill="#8DBBD8" stroke="#9A9A9A" stroke-width="0.8"/>
<rect x="991.9" y="1647.6" width="48.7" height="43.2" fill="#F2A265" stroke="#9A9A9A" stroke-width="0.8"/>
<rect x="1040.6" y="1647.6" width="48.7" height="43.2" fill="#EE8C58" stroke="#9A9A9A" stroke-width="0.8"/>
<rect x="1089.2" y="1647.6" width="48.7" height="43.2" fill="#DEF0F3" stroke="#9A9A9A" stroke-width="0.8"/>
<rect x="651.3" y="1690.8" width="48.7" height="43.2" fill="#6B9CC9" stroke="#9A9A9A" stroke-width="0.8"/>
<rect x="700" y="1690.8" width="48.7" height="43.2" fill="#5E8EC3" stroke="#9A9A9A" stroke-width="0.8"/>
<rect x="748.6" y="1690.8" width="48.7" height="43.2" fill="#8BBBD8" stroke="#9A9A9A" stroke-width="0.8"/>
<rect x="797.3" y="1690.8" width="48.7" height="43.2" fill="#8FBFDA" stroke="#9A9A9A" stroke-width="0.8"/>
<rect x="845.9" y="1690.8" width="48.7" height="43.2" fill="#84B4D5" stroke="#9A9A9A" stroke-width="0.8"/>
<rect x="894.6" y="1690.8" width="48.7" height="43.2" fill="#E9F5E2" stroke="#9A9A9A" stroke-width="0.8"/>
<rect x="943.3" y="1690.8" width="48.7" height="43.2" fill="#E1F2EE" stroke="#9A9A9A" stroke-width="0.8"/>
<rect x="991.9" y="1690.8" width="48.7" height="43.2" fill="#4F7CBA" stroke="#9A9A9A" stroke-width="0.8"/>
<rect x="1040.6" y="1690.8" width="48.7" height="43.2" fill="#4F7CBA" stroke="#9A9A9A" stroke-width="0.8"/>
<rect x="1089.2" y="1690.8" width="48.7" height="43.2" fill="#DB3A2E" stroke="#9A9A9A" stroke-width="0.8"/>
<rect x="651.3" y="1733.9" width="48.7" height="43.2" fill="#DF4B33" stroke="#9A9A9A" stroke-width="0.8"/>
<rect x="700" y="1733.9" width="48.7" height="43.2" fill="#E0533A" stroke="#9A9A9A" stroke-width="0.8"/>
<rect x="748.6" y="1733.9" width="48.7" height="43.2" fill="#D93529" stroke="#9A9A9A" stroke-width="0.8"/>
<rect x="797.3" y="1733.9" width="48.7" height="43.2" fill="#D93529" stroke="#9A9A9A" stroke-width="0.8"/>
<rect x="845.9" y="1733.9" width="48.7" height="43.2" fill="#DA392C" stroke="#9A9A9A" stroke-width="0.8"/>
<rect x="894.6" y="1733.9" width="48.7" height="43.2" fill="#DB3F2F" stroke="#9A9A9A" stroke-width="0.8"/>
<rect x="943.3" y="1733.9" width="48.7" height="43.2" fill="#DB3E2E" stroke="#9A9A9A" stroke-width="0.8"/>
<rect x="991.9" y="1733.9" width="48.7" height="43.2" fill="#F1B06F" stroke="#9A9A9A" stroke-width="0.8"/>
<rect x="1040.6" y="1733.9" width="48.7" height="43.2" fill="#F3CE83" stroke="#9A9A9A" stroke-width="0.8"/>
<rect x="1089.2" y="1733.9" width="48.7" height="43.2" fill="#8BBAD7" stroke="#9A9A9A" stroke-width="0.8"/>
<text x="643.8" y="1674.6" font-size="22.4" text-anchor="end">SP-PF</text>
<text x="643.8" y="1719" font-size="22.4" text-anchor="end">SP-LI</text>
<text x="643.8" y="1763" font-size="22.4" text-anchor="end">SP-HI</text>
<text x="680.9" y="1639.3" font-size="20.7" transform="rotate(-90 680.9 1639.3)">Monocytic</text>
<text x="699.6" y="1639.3" font-size="20.7" transform="rotate(-90 699.6 1639.3)">lineage</text>
<text x="737.8" y="1639.3" font-size="20.7" transform="rotate(-90 737.8 1639.3)">B lineage</text>
<text x="776.4" y="1639.3" font-size="20.7" transform="rotate(-90 776.4 1639.3)">Cytotoxic</text>
<text x="797.2" y="1639.3" font-size="20.7" transform="rotate(-90 797.2 1639.3)">lymphocytes</text>
<text x="833.3" y="1639.3" font-size="20.7" transform="rotate(-90 833.3 1639.3)">CD8 T cells</text>
<text x="881.5" y="1639.3" font-size="20.7" transform="rotate(-90 881.5 1639.3)">T cells</text>
<text x="918.8" y="1639.3" font-size="20.7" transform="rotate(-90 918.8 1639.3)">Endothelial</text>
<text x="939.6" y="1639.3" font-size="20.7" transform="rotate(-90 939.6 1639.3)">cells</text>
<text x="967.4" y="1639.3" font-size="20.7" transform="rotate(-90 967.4 1639.3)">Dendritic</text>
<text x="988.2" y="1639.3" font-size="20.7" transform="rotate(-90 988.2 1639.3)">cells</text>
<text x="1025.5" y="1639.3" font-size="20.7" transform="rotate(-90 1025.5 1639.3)">Fibroblasts</text>
<text x="1073.3" y="1639.3" font-size="20.7" transform="rotate(-90 1073.3 1639.3)">NK cells</text>
<text x="1122.3" y="1639.3" font-size="20.7" transform="rotate(-90 1122.3 1639.3)">Neutrophils</text>
<text x="1172.5" y="1617.7" font-size="20.7" transform="rotate(-90 1172.5 1617.7)">Scaled Exp.</text>
<rect x="1157.4" y="1628.9" width="18.6" height="145.3" fill="url(#gC)"/>
<rect x="1157.4" y="1631.1" width="4.2" height="2.4" fill="#fff"/>
<rect x="1171.8" y="1631.1" width="4.2" height="2.4" fill="#fff"/>
<rect x="1157.4" y="1700.3" width="4.2" height="2.4" fill="#fff"/>
<rect x="1171.8" y="1700.3" width="4.2" height="2.4" fill="#fff"/>
<rect x="1157.4" y="1769.4" width="4.2" height="2.4" fill="#fff"/>
<rect x="1171.8" y="1769.4" width="4.2" height="2.4" fill="#fff"/>
<text x="1185.6" y="1639.5" font-size="22.4">1</text>
<text x="1185.6" y="1707.3" font-size="22.4">0</text>
<text x="1182.2" y="1775" font-size="22.4">-1</text>
<text x="567" y="1812.2" font-size="22.4">p value</text>
<text x="690.1" y="1788.7" font-size="20.7" text-anchor="end" transform="rotate(-45 690.1 1788.7)">0.0005</text>
<text x="737.7" y="1788.7" font-size="20.7" text-anchor="end" transform="rotate(-45 737.7 1788.7)">0.004</text>
<text x="798" y="1788.7" font-size="20.7" text-anchor="end" transform="rotate(-45 798 1788.7)">&lt; 0.0001</text>
<text x="847.8" y="1788.7" font-size="20.7" text-anchor="end" transform="rotate(-45 847.8 1788.7)">&lt; 0.0001</text>
<text x="893.6" y="1788.7" font-size="20.7" text-anchor="end" transform="rotate(-45 893.6 1788.7)">0.0005</text>
<text x="928" y="1788.7" font-size="20.7" text-anchor="end" transform="rotate(-45 928 1788.7)">0.3</text>
<text x="987.4" y="1788.7" font-size="20.7" text-anchor="end" transform="rotate(-45 987.4 1788.7)">0.003</text>
<text x="1028.5" y="1788.7" font-size="20.7" text-anchor="end" transform="rotate(-45 1028.5 1788.7)">0.9</text>
<text x="1077.6" y="1788.7" font-size="20.7" text-anchor="end" transform="rotate(-45 1077.6 1788.7)">0.1</text>
<text x="1128.8" y="1788.7" font-size="20.7" text-anchor="end" transform="rotate(-45 1128.8 1788.7)">0.4</text>
<text x="1281" y="1494" font-size="25" font-weight="bold">d</text>
<text x="1561.2" y="1502.6" font-size="25.8" text-anchor="middle">CIBERSORT deconvolution</text>
<rect x="1404.7" y="1545.8" width="39.3" height="83" fill="#A582C3" stroke="#111" stroke-width="0.9"/>
<rect x="1404.7" y="1628.8" width="39.3" height="36.3" fill="#8FD7D7" stroke="#111" stroke-width="0.9"/>
<rect x="1404.7" y="1665" width="39.3" height="18" fill="#BAC936" stroke="#111" stroke-width="0.9"/>
<rect x="1404.7" y="1683" width="39.3" height="20.9" fill="#8A4F4B" stroke="#111" stroke-width="0.9"/>
<rect x="1404.7" y="1703.9" width="39.3" height="14.7" fill="#F09393" stroke="#111" stroke-width="0.9"/>
<rect x="1404.7" y="1718.6" width="39.3" height="7.8" fill="#E67AD5" stroke="#111" stroke-width="0.9"/>
<rect x="1404.7" y="1726.4" width="39.3" height="2.9" fill="#6C4FA6" stroke="#111" stroke-width="0.9"/>
<rect x="1404.7" y="1729.3" width="39.3" height="9.6" fill="#44AE37" stroke="#111" stroke-width="0.9"/>
<rect x="1404.7" y="1738.8" width="39.3" height="17.8" fill="#F0B877" stroke="#111" stroke-width="0.9"/>
<rect x="1404.7" y="1756.6" width="39.3" height=".9" fill="#E0661E" stroke="#111" stroke-width="0.9"/>
<rect x="1404.7" y="1757.5" width="39.3" height=".7" fill="#3A7FBF" stroke="#111" stroke-width="0.9"/>
<rect x="1404.7" y="1758.2" width="39.3" height="10" fill="#B0CAE9" stroke="#111" stroke-width="0.9"/>
<rect x="1457.3" y="1545.8" width="39.3" height="89.8" fill="#A582C3" stroke="#111" stroke-width="0.9"/>
<rect x="1457.3" y="1635.6" width="39.3" height="32" fill="#8FD7D7" stroke="#111" stroke-width="0.9"/>
<rect x="1457.3" y="1667.7" width="39.3" height="16.2" fill="#BAC936" stroke="#111" stroke-width="0.9"/>
<rect x="1457.3" y="1683.9" width="39.3" height="24.7" fill="#8A4F4B" stroke="#111" stroke-width="0.9"/>
<rect x="1457.3" y="1708.6" width="39.3" height="10" fill="#F09393" stroke="#111" stroke-width="0.9"/>
<rect x="1457.3" y="1718.6" width="39.3" height="6.4" fill="#E67AD5" stroke="#111" stroke-width="0.9"/>
<rect x="1457.3" y="1725.1" width="39.3" height="5.1" fill="#6C4FA6" stroke="#111" stroke-width="0.9"/>
<rect x="1457.3" y="1730.2" width="39.3" height="3.6" fill="#44AE37" stroke="#111" stroke-width="0.9"/>
<rect x="1457.3" y="1733.7" width="39.3" height="11.6" fill="#F0B877" stroke="#111" stroke-width="0.9"/>
<rect x="1457.3" y="1745.3" width="39.3" height="1.3" fill="#E0661E" stroke="#111" stroke-width="0.9"/>
<rect x="1457.3" y="1746.6" width="39.3" height=".9" fill="#3A7FBF" stroke="#111" stroke-width="0.9"/>
<rect x="1457.3" y="1747.5" width="39.3" height="20.7" fill="#B0CAE9" stroke="#111" stroke-width="0.9"/>
<rect x="1510.4" y="1545.8" width="38.9" height="71.2" fill="#A582C3" stroke="#111" stroke-width="0.9"/>
<rect x="1510.4" y="1617" width="38.9" height="48.9" fill="#8FD7D7" stroke="#111" stroke-width="0.9"/>
<rect x="1510.4" y="1665.9" width="38.9" height="26.2" fill="#BAC936" stroke="#111" stroke-width="0.9"/>
<rect x="1510.4" y="1692.1" width="38.9" height="26.5" fill="#8A4F4B" stroke="#111" stroke-width="0.9"/>
<rect x="1510.4" y="1718.6" width="38.9" height="7.3" fill="#F09393" stroke="#111" stroke-width="0.9"/>
<rect x="1510.4" y="1725.9" width="38.9" height="7.8" fill="#E67AD5" stroke="#111" stroke-width="0.9"/>
<rect x="1510.4" y="1733.7" width="38.9" height="2.4" fill="#6C4FA6" stroke="#111" stroke-width="0.9"/>
<rect x="1510.4" y="1736.2" width="38.9" height="4" fill="#44AE37" stroke="#111" stroke-width="0.9"/>
<rect x="1510.4" y="1740.2" width="38.9" height="12.9" fill="#F0B877" stroke="#111" stroke-width="0.9"/>
<rect x="1510.4" y="1753.1" width="38.9" height="1.3" fill="#E0661E" stroke="#111" stroke-width="0.9"/>
<rect x="1510.4" y="1754.4" width="38.9" height=".9" fill="#3A7FBF" stroke="#111" stroke-width="0.9"/>
<rect x="1510.4" y="1755.3" width="38.9" height="12.9" fill="#B0CAE9" stroke="#111" stroke-width="0.9"/>
<line x1="1377.4" y1="1524.2" x2="1377.4" y2="1770.1" stroke="#111" stroke-width="2.2"/>
<line x1="1376.3" y1="1769" x2="1567.4" y2="1769" stroke="#111" stroke-width="2.2"/>
<line x1="1372.8" y1="1545.8" x2="1377.4" y2="1545.8" stroke="#111" stroke-width="2"/>
<text x="1370.5" y="1551.4" font-size="20.7" text-anchor="end">100</text>
<line x1="1372.8" y1="1657" x2="1377.4" y2="1657" stroke="#111" stroke-width="2"/>
<text x="1370.5" y="1662.6" font-size="20.7" text-anchor="end">50</text>
<line x1="1372.8" y1="1768.2" x2="1377.4" y2="1768.2" stroke="#111" stroke-width="2"/>
<text x="1370.5" y="1773.8" font-size="20.7" text-anchor="end">0</text>
<line x1="1424.3" y1="1769" x2="1424.3" y2="1773.8" stroke="#111" stroke-width="2"/>
<text x="1430.1" y="1785.4" font-size="22.4" text-anchor="end" transform="rotate(-90 1430.1 1785.4)">SP-HI</text>
<line x1="1476.9" y1="1769" x2="1476.9" y2="1773.8" stroke="#111" stroke-width="2"/>
<text x="1482.7" y="1785.4" font-size="22.4" text-anchor="end" transform="rotate(-90 1482.7 1785.4)">SP-LI</text>
<line x1="1529.8" y1="1769" x2="1529.8" y2="1773.8" stroke="#111" stroke-width="2"/>
<text x="1535.6" y="1785.4" font-size="22.4" text-anchor="end" transform="rotate(-90 1535.6 1785.4)">SP-PF</text>
<text x="1337" y="1649.4" font-size="20.7" text-anchor="middle" transform="rotate(-90 1337 1649.4)">Percentage (%)</text>
<text x="1772.5" y="1557.4" font-size="20.7" text-anchor="middle">Cell types</text>
<rect x="1621" y="1585.1" width="20" height="20" fill="#A582C3"/>
<text x="1647.8" y="1600.2" font-size="20.7">B cells</text>
<rect x="1773.8" y="1585.1" width="20.3" height="20" fill="#6C4FA6"/>
<text x="1801" y="1601.4" font-size="20.7">Dendritic cells</text>
<rect x="1621" y="1612.9" width="20" height="20" fill="#8FD7D7"/>
<text x="1647.8" y="1628" font-size="20.7">CD4 T cells</text>
<rect x="1773.8" y="1612.9" width="20.3" height="20" fill="#44AE37"/>
<text x="1801" y="1629" font-size="20.7">Tregs</text>
<rect x="1621" y="1640.7" width="20" height="20" fill="#BAC936"/>
<text x="1647.8" y="1655.9" font-size="20.7">Mono/Macro</text>
<rect x="1773.8" y="1640.7" width="20.3" height="20" fill="#F0B877"/>
<text x="1801" y="1656.6" font-size="20.7">CD8 T cells</text>
<rect x="1621" y="1668.5" width="20" height="20" fill="#8A4F4B"/>
<text x="1647.8" y="1683.8" font-size="20.7">Plasma cells</text>
<rect x="1773.8" y="1668.5" width="20.3" height="20" fill="#E0661E"/>
<text x="1801" y="1684.2" font-size="20.7">Mast cells</text>
<rect x="1621" y="1696.3" width="20" height="20" fill="#F09393"/>
<text x="1647.8" y="1711.6" font-size="20.7">NK cells</text>
<rect x="1773.8" y="1696.3" width="20.3" height="20" fill="#3A7FBF"/>
<text x="1801" y="1711.8" font-size="20.7">Granulocyte</text>
<rect x="1621" y="1724.1" width="20" height="20" fill="#E67AD5"/>
<text x="1647.8" y="1739.5" font-size="20.7">&#947;&#948;T cells</text>
<rect x="1773.8" y="1724.1" width="20.3" height="20" fill="#B0CAE9"/>
<text x="1801" y="1739.4" font-size="20.7">Others</text>
<text x="3.5" y="1856.9" font-size="25" font-weight="bold">e</text>
<text x="462.5" y="1881.6" font-size="22.4" text-anchor="middle">SP-HI <tspan font-style="italic">vs</tspan> others</text>
<rect x="414.6" y="1900.4" width="124.6" height="145.2" fill="#E0E0E0"/>
<line x1="419.5" y1="1900.4" x2="419.5" y2="2045.6" stroke="#FFFFFF" stroke-width="1.3"/>
<line x1="450.9" y1="1900.4" x2="450.9" y2="2045.6" stroke="#FFFFFF" stroke-width="1.3"/>
<line x1="482.8" y1="1900.4" x2="482.8" y2="2045.6" stroke="#FFFFFF" stroke-width="1.3"/>
<line x1="514.2" y1="1900.4" x2="514.2" y2="2045.6" stroke="#FFFFFF" stroke-width="1.3"/>
<line x1="414.6" y1="1916.5" x2="539.2" y2="1916.5" stroke="#FFFFFF" stroke-width="1.3"/>
<line x1="414.6" y1="1944.8" x2="539.2" y2="1944.8" stroke="#FFFFFF" stroke-width="1.3"/>
<line x1="414.6" y1="1972.8" x2="539.2" y2="1972.8" stroke="#FFFFFF" stroke-width="1.3"/>
<line x1="414.6" y1="2001.1" x2="539.2" y2="2001.1" stroke="#FFFFFF" stroke-width="1.3"/>
<line x1="414.6" y1="2029.3" x2="539.2" y2="2029.3" stroke="#FFFFFF" stroke-width="1.3"/>
<rect x="419.5" y="1903.6" width="114.1" height="25.9" fill="#DB5D65"/>
<text x="405.3" y="1924.6" font-size="20.7" text-anchor="end">ALLOGRAFT REJECTION</text>
<rect x="419.5" y="1931.9" width="63.3" height="25.8" fill="#DB5D65"/>
<text x="405.3" y="1952" font-size="20.7" text-anchor="end">INFLAMMATORY RESPONSE</text>
<rect x="419.5" y="1959.7" width="50.4" height="26.2" fill="#A56D93"/>
<text x="405.3" y="1979.9" font-size="20.7" text-anchor="end">INTERFERON GAMMA RESPONSE</text>
<rect x="419.5" y="1987.9" width="50.4" height="26.3" fill="#A56D93"/>
<text x="405.3" y="2007.3" font-size="20.7" text-anchor="end">TNFA SIGNALING VIA NFKB</text>
<rect x="419.5" y="2016.2" width="47.1" height="26.2" fill="#4C8CC8"/>
<text x="405.3" y="2034.7" font-size="20.7" text-anchor="end">ESTROGEN RESPONSE LATE</text>
<text x="405.3" y="2067.8" font-size="20.7" text-anchor="end">Count</text>
<line x1="419.5" y1="2045.6" x2="419.5" y2="2048.8" stroke="#333" stroke-width="1.6"/>
<text x="419.5" y="2067.8" font-size="20.7" text-anchor="middle">0</text>
<line x1="450.9" y1="2045.6" x2="450.9" y2="2048.8" stroke="#333" stroke-width="1.6"/>
<text x="450.9" y="2067.8" font-size="20.7" text-anchor="middle">10</text>
<line x1="482.8" y1="2045.6" x2="482.8" y2="2048.8" stroke="#333" stroke-width="1.6"/>
<text x="482.8" y="2067.8" font-size="20.7" text-anchor="middle">20</text>
<line x1="515.4" y1="2045.6" x2="515.4" y2="2048.8" stroke="#333" stroke-width="1.6"/>
<text x="515.4" y="2067.8" font-size="20.7" text-anchor="middle">30</text>
<text x="546.5" y="1933.9" font-size="18.9">Adj. p value</text>
<defs><linearGradient id="gE1" x1="0" y1="0" x2="0" y2="1"><stop offset="0" stop-color="#DC5C64"/><stop offset="1" stop-color="#4A8CCA"/></linearGradient></defs>
<rect x="549.7" y="1946" width="19.8" height="56.5" fill="url(#gE1)"/>
<rect x="549.7" y="1960" width="4" height="1.8" fill="#fff"/>
<rect x="565.5" y="1960" width="4" height="1.8" fill="#fff"/>
<rect x="549.7" y="1990.3" width="4" height="1.8" fill="#fff"/>
<rect x="565.5" y="1990.3" width="4" height="1.8" fill="#fff"/>
<text x="577.6" y="1968.1" font-size="20.7">0.01</text>
<text x="577.6" y="1998.4" font-size="20.7">0.04</text>
<text x="1055.6" y="1881.6" font-size="22.4" text-anchor="middle">SP-LI <tspan font-style="italic">vs</tspan> others</text>
<rect x="985.5" y="1898.4" width="125" height="145.2" fill="#E0E0E0"/>
<line x1="990.7" y1="1898.4" x2="990.7" y2="2043.6" stroke="#FFFFFF" stroke-width="1.3"/>
<line x1="1038.3" y1="1898.4" x2="1038.3" y2="2043.6" stroke="#FFFFFF" stroke-width="1.3"/>
<line x1="1086.3" y1="1898.4" x2="1086.3" y2="2043.6" stroke="#FFFFFF" stroke-width="1.3"/>
<line x1="985.5" y1="1925.4" x2="1110.5" y2="1925.4" stroke="#FFFFFF" stroke-width="1.3"/>
<line x1="985.5" y1="1971" x2="1110.5" y2="1971" stroke="#FFFFFF" stroke-width="1.3"/>
<line x1="985.5" y1="2016.6" x2="1110.5" y2="2016.6" stroke="#FFFFFF" stroke-width="1.3"/>
<rect x="990.7" y="1905.3" width="114.6" height="40.3" fill="#DB5D65"/>
<text x="979" y="1932.7" font-size="20.7" text-anchor="end">XENOBIOTIC METABOLISM</text>
<rect x="990.7" y="1950.8" width="61.7" height="40.4" fill="#8A78A6"/>
<text x="979" y="1978.3" font-size="20.7" text-anchor="end">BILE ACID METABOLISM</text>
<rect x="990.7" y="1996.4" width="66.6" height="40.3" fill="#4C8CC8"/>
<text x="979" y="2024.2" font-size="20.7" text-anchor="end">COAGULATION</text>
<text x="969.4" y="2065" font-size="20.7" text-anchor="end">Count</text>
<line x1="990.7" y1="2043.6" x2="990.7" y2="2046.8" stroke="#333" stroke-width="1.6"/>
<text x="990.7" y="2065" font-size="20.7" text-anchor="middle">5</text>
<line x1="1039" y1="2043.6" x2="1039" y2="2046.8" stroke="#333" stroke-width="1.6"/>
<text x="1039" y="2065" font-size="20.7" text-anchor="middle">15</text>
<line x1="1086.6" y1="2043.6" x2="1086.6" y2="2046.8" stroke="#333" stroke-width="1.6"/>
<text x="1086.6" y="2065" font-size="20.7" text-anchor="middle">25</text>
<text x="1117.8" y="1933.5" font-size="18.9">Adj. p value</text>
<defs><linearGradient id="gE2" x1="0" y1="0" x2="0" y2="1"><stop offset="0" stop-color="#DC5C64"/><stop offset="1" stop-color="#4A8CCA"/></linearGradient></defs>
<rect x="1121.8" y="1948" width="19.4" height="56.5" fill="url(#gE2)"/>
<rect x="1121.8" y="1961.2" width="4" height="1.8" fill="#fff"/>
<rect x="1137.2" y="1961.2" width="4" height="1.8" fill="#fff"/>
<rect x="1121.8" y="1993.5" width="4" height="1.8" fill="#fff"/>
<rect x="1137.2" y="1993.5" width="4" height="1.8" fill="#fff"/>
<text x="1149.2" y="1969.3" font-size="20.7">0.00025</text>
<text x="1149.2" y="2001.6" font-size="20.7">0.00075</text>
<text x="1713.1" y="1881.6" font-size="22.4" text-anchor="middle">SP-PF <tspan font-style="italic">vs</tspan> others</text>
<rect x="1676.9" y="1900.1" width="126.2" height="145.8" fill="#E0E0E0"/>
<line x1="1682.8" y1="1900.1" x2="1682.8" y2="2045.9" stroke="#FFFFFF" stroke-width="1.3"/>
<line x1="1720.6" y1="1900.1" x2="1720.6" y2="2045.9" stroke="#FFFFFF" stroke-width="1.3"/>
<line x1="1758.9" y1="1900.1" x2="1758.9" y2="2045.9" stroke="#FFFFFF" stroke-width="1.3"/>
<line x1="1796.7" y1="1900.1" x2="1796.7" y2="2045.9" stroke="#FFFFFF" stroke-width="1.3"/>
<line x1="1676.9" y1="1917.7" x2="1803.1" y2="1917.7" stroke="#FFFFFF" stroke-width="1.3"/>
<line x1="1676.9" y1="1945.7" x2="1803.1" y2="1945.7" stroke="#FFFFFF" stroke-width="1.3"/>
<line x1="1676.9" y1="1973.2" x2="1803.1" y2="1973.2" stroke="#FFFFFF" stroke-width="1.3"/>
<line x1="1676.9" y1="2001.2" x2="1803.1" y2="2001.2" stroke="#FFFFFF" stroke-width="1.3"/>
<line x1="1676.9" y1="2029.5" x2="1803.1" y2="2029.5" stroke="#FFFFFF" stroke-width="1.3"/>
<rect x="1682.8" y="1904.7" width="113.9" height="25.9" fill="#DB5D65"/>
<text x="1666.4" y="1925.2" font-size="20.7" text-anchor="end">EPITHELIAL MESENCHYMAL TRANSITION</text>
<rect x="1682.8" y="1932.9" width="113.9" height="25.5" fill="#DB5D65"/>
<text x="1666.4" y="1952.5" font-size="20.7" text-anchor="end">MYOGENESIS</text>
<rect x="1682.8" y="1960.7" width="106.6" height="25" fill="#4F87C3"/>
<text x="1666.4" y="1980.7" font-size="20.7" text-anchor="end">INFLAMMATORY RESPONSE</text>
<rect x="1682.8" y="1988.5" width="106.6" height="25.5" fill="#4F87C3"/>
<text x="1666.4" y="2008.5" font-size="20.7" text-anchor="end">KRAS SIGNALING DN</text>
<rect x="1682.8" y="2016.7" width="37.8" height="25.5" fill="#4C8CC8"/>
<text x="1666.4" y="2036.8" font-size="20.7" text-anchor="end">ANGIOGENESIS</text>
<text x="1667.3" y="2067.3" font-size="20.7" text-anchor="end">Count</text>
<line x1="1682.8" y1="2045.9" x2="1682.8" y2="2049.1" stroke="#333" stroke-width="1.6"/>
<text x="1682.8" y="2067.3" font-size="20.7" text-anchor="middle">0</text>
<line x1="1720.6" y1="2045.9" x2="1720.6" y2="2049.1" stroke="#333" stroke-width="1.6"/>
<text x="1720.6" y="2067.3" font-size="20.7" text-anchor="middle">5</text>
<line x1="1758.9" y1="2045.9" x2="1758.9" y2="2049.1" stroke="#333" stroke-width="1.6"/>
<text x="1758.9" y="2067.3" font-size="20.7" text-anchor="middle">10</text>
<line x1="1796.7" y1="2045.9" x2="1796.7" y2="2049.1" stroke="#333" stroke-width="1.6"/>
<text x="1796.7" y="2067.3" font-size="20.7" text-anchor="middle">15</text>
<text x="1813" y="1935.2" font-size="18.9">Adj. p value</text>
<defs><linearGradient id="gE3" x1="0" y1="0" x2="0" y2="1"><stop offset="0" stop-color="#DC5C64"/><stop offset="1" stop-color="#4A8CCA"/></linearGradient></defs>
<rect x="1815.8" y="1952.5" width="20.1" height="56.9" fill="url(#gE3)"/>
<rect x="1815.8" y="1963.9" width="4" height="1.8" fill="#fff"/>
<rect x="1831.9" y="1963.9" width="4" height="1.8" fill="#fff"/>
<rect x="1815.8" y="1994" width="4" height="1.8" fill="#fff"/>
<rect x="1831.9" y="1994" width="4" height="1.8" fill="#fff"/>
<text x="1840.9" y="1972" font-size="20.7">0.035</text>
<text x="1840.9" y="2002.1" font-size="20.7">0.040</text>
<text x="6.5" y="2113.4" font-size="25" font-weight="bold">f</text>
<text x="378.6" y="2124.8" font-size="22.4" text-anchor="middle">SP-HI <tspan font-style="italic">vs</tspan> others</text>
<rect x="172.7" y="2139.6" width="384.2" height="179.5" fill="#fff"/>
<path d="M189.5 2139.6V2319.1M224.5 2139.6V2319.1M259.5 2139.6V2319.1M294.5 2139.6V2319.1M329.5 2139.6V2319.1M364.5 2139.6V2319.1M399.5 2139.6V2319.1M434.5 2139.6V2319.1M469.5 2139.6V2319.1M504.5 2139.6V2319.1M539.5 2139.6V2319.1M172.7 2305.9H556.9M172.7 2257.5H556.9M172.7 2209.1H556.9M172.7 2160.7H556.9" stroke="#EDEDED" stroke-width="1" fill="none"/>
<clipPath id="cf1"><rect x="172.7" y="2139.6" width="384.2" height="179.5"/></clipPath>
<g clip-path="url(#cf1)" fill="none" stroke-linecap="round" stroke-width="6.4">
<path stroke="#1A10F5" stroke-opacity="0.36" d="M246 2297h0M258 2291h0M243 2284h0M238 2300h0M245 2294h0M256 2301h0M252 2298h0M250 2300h0M248 2277h0M241 2293h0M249 2300h0M246 2297h0M244 2300h0M210 2294h0M242 2301h0M244 2297h0M254 2268h0M252 2286h0M249 2296h0M257 2281h0M247 2282h0M257 2302h0M252 2299h0M249 2288h0M249 2304h0M254 2303h0M244 2267h0M256 2302h0M256 2285h0M245 2291h0M235 2300h0M253 2276h0M254 2299h0M256 2292h0M251 2300h0M235 2300h0M252 2302h0M252 2284h0M243 2301h0M250 2292h0M241 2297h0M245 2276h0M256 2300h0M249 2270h0M254 2299h0M241 2291h0M222 2273h0M258 2290h0M254 2277h0M238 2298h0M235 2300h0M251 2291h0M249 2287h0"/>
<path stroke="#1A10F5" stroke-opacity="0.36" d="M239 2298h0M248 2304h0M240 2301h0M250 2302h0M257 2296h0M242 2304h0M246 2284h0M233 2281h0M235 2301h0M254 2295h0M234 2292h0M255 2290h0M234 2259h0M246 2279h0M230 2251h0M250 2304h0M251 2289h0M209 2301h0M239 2298h0M253 2303h0M256 2303h0M244 2295h0M248 2284h0M253 2247h0M231 2273h0M246 2290h0M248 2284h0M252 2284h0M252 2303h0M249 2304h0M250 2275h0M257 2278h0M255 2243h0M256 2295h0M258 2258h0M258 2297h0M257 2298h0M248 2301h0M258 2275h0M252 2291h0M256 2258h0M251 2291h0M236 2288h0M257 2299h0M257 2290h0M222 2257h0M212 2270h0M250 2272h0M253 2280h0M237 2299h0M226 2213h0M228 2269h0M251 2296h0"/>
<path stroke="#1A10F5" stroke-opacity="0.36" d="M238 2287h0M247 2299h0M245 2303h0M238 2239h0M255 2301h0M254 2287h0M252 2299h0M249 2278h0M244 2298h0M234 2297h0M253 2278h0M257 2300h0M258 2287h0M209 2271h0M245 2299h0M257 2302h0M237 2268h0M244 2304h0M254 2304h0M221 2285h0M248 2301h0M256 2292h0M226 2268h0M255 2301h0M203 2217h0M213 2262h0M233 2300h0M245 2263h0M237 2302h0M251 2277h0M257 2291h0M251 2251h0M253 2299h0M230 2277h0M254 2297h0M232 2303h0M241 2290h0M239 2303h0M248 2299h0M256 2260h0M244 2282h0M248 2293h0M197 2294h0M256 2297h0M257 2295h0M251 2300h0M249 2275h0M248 2301h0M247 2295h0M253 2290h0M253 2250h0M255 2286h0M233 2303h0"/>
<path stroke="#1A10F5" stroke-opacity="0.36" d="M252 2303h0M249 2290h0M253 2290h0M256 2298h0M195 2281h0M244 2296h0M252 2298h0M257 2284h0M257 2289h0M256 2264h0M249 2282h0M238 2272h0M251 2301h0M254 2272h0M246 2248h0M237 2279h0M258 2295h0M218 2299h0M245 2299h0M239 2303h0M245 2293h0M255 2277h0M253 2275h0M254 2303h0M255 2297h0M256 2290h0M256 2295h0M251 2301h0M255 2274h0M254 2293h0M227 2294h0M250 2294h0M250 2303h0M244 2291h0M252 2300h0M257 2296h0M212 2302h0M250 2258h0M191 2252h0M246 2278h0M254 2301h0M252 2263h0M250 2301h0M255 2288h0M247 2279h0M248 2257h0M252 2296h0M233 2302h0M256 2292h0M241 2281h0M246 2299h0M257 2293h0M243 2300h0"/>
<path stroke="#1A10F5" stroke-opacity="0.36" d="M255 2297h0M257 2300h0M240 2293h0M251 2261h0M257 2293h0M246 2291h0M233 2278h0M250 2272h0M251 2296h0M247 2287h0M253 2304h0M253 2295h0M256 2304h0M247 2275h0M243 2258h0M258 2294h0M190 2285h0M257 2295h0M255 2284h0M244 2282h0M217 2268h0M247 2300h0M250 2302h0M255 2248h0M252 2270h0M254 2298h0M247 2300h0M249 2301h0M256 2302h0M226 2294h0M251 2281h0M258 2303h0M253 2292h0M252 2258h0M252 2287h0M257 2297h0M253 2295h0M257 2288h0M256 2288h0M244 2292h0M253 2298h0M241 2270h0M253 2273h0M257 2304h0M258 2287h0M230 2301h0M242 2285h0M254 2264h0M253 2256h0M255 2295h0M255 2298h0M246 2298h0"/>
<path stroke="#1A10F5" stroke-opacity="0.36" d="M251 2287h0M256 2304h0M253 2270h0M239 2298h0M246 2283h0M253 2286h0M258 2293h0M254 2266h0M244 2301h0M250 2285h0M208 2236h0M257 2297h0M225 2251h0M253 2266h0M254 2304h0M257 2291h0M231 2288h0M243 2302h0M255 2275h0M246 2295h0M249 2303h0M240 2281h0M256 2279h0M246 2253h0M247 2298h0M250 2275h0M255 2298h0M255 2269h0M249 2280h0M239 2280h0M257 2299h0M249 2293h0M233 2299h0M254 2304h0M257 2297h0M254 2286h0M223 2288h0M251 2265h0M212 2300h0M256 2300h0M242 2283h0M249 2285h0M192 2263h0M255 2299h0M250 2297h0M251 2248h0M255 2300h0M257 2281h0M205 2301h0M256 2277h0M258 2295h0M236 2299h0"/>
<path stroke="#1A10F5" stroke-opacity="0.36" d="M253 2301h0M256 2289h0M240 2290h0M243 2252h0M257 2287h0M224 2224h0M254 2292h0M254 2300h0M245 2277h0M250 2283h0M236 2299h0M256 2291h0M252 2299h0M238 2290h0M216 2286h0M241 2282h0M233 2289h0M239 2263h0M242 2296h0M256 2272h0M256 2290h0M244 2267h0M257 2303h0M249 2302h0M237 2277h0M240 2301h0M252 2301h0M240 2278h0M257 2285h0M257 2300h0M250 2265h0M258 2286h0M225 2286h0M257 2296h0M244 2271h0M220 2276h0M249 2276h0M257 2294h0M251 2286h0M253 2290h0M254 2292h0M246 2303h0M240 2302h0M243 2291h0M255 2282h0M200 2225h0M242 2267h0M203 2268h0M254 2259h0M258 2273h0M213 2274h0M241 2242h0"/>
<path stroke="#1A10F5" stroke-opacity="0.36" d="M255 2294h0M239 2268h0M257 2294h0M250 2275h0M256 2303h0M256 2291h0M256 2303h0M248 2271h0M256 2302h0M227 2294h0M254 2300h0M251 2295h0M249 2263h0M240 2298h0M249 2301h0M212 2273h0M236 2285h0M237 2286h0M255 2286h0M258 2267h0M209 2290h0M257 2300h0M258 2302h0M251 2303h0M251 2298h0M258 2302h0M228 2248h0M252 2297h0M258 2299h0M242 2297h0M249 2274h0M254 2300h0M257 2295h0M256 2295h0M234 2292h0M257 2280h0M257 2302h0M255 2297h0M246 2278h0M253 2294h0M253 2289h0M251 2274h0M244 2284h0M233 2292h0M251 2275h0M247 2271h0M239 2297h0M255 2302h0M249 2290h0M251 2293h0M237 2271h0M254 2287h0"/>
<path stroke="#F81C1C" stroke-opacity="0.36" d="M336 2292h0M365 2228h0M342 2283h0M392 2296h0M342 2292h0M343 2303h0M376 2253h0M349 2238h0M337 2297h0M357 2247h0M351 2302h0M339 2252h0M344 2266h0M342 2294h0M336 2300h0M335 2303h0M493 2266h0M443 2280h0M349 2294h0M348 2283h0M344 2267h0M331 2293h0M341 2302h0M340 2279h0M333 2285h0M349 2279h0M334 2253h0M338 2287h0M349 2300h0M340 2288h0M338 2295h0M338 2296h0M368 2289h0M333 2282h0M336 2302h0M331 2287h0M365 2299h0M336 2244h0M332 2299h0M344 2303h0M346 2299h0M347 2276h0M358 2297h0M347 2291h0M346 2270h0M350 2286h0M336 2291h0M335 2299h0M332 2302h0M337 2301h0M358 2278h0M337 2252h0M334 2255h0M337 2299h0M339 2277h0M380 2221h0M331 2304h0M338 2279h0M361 2303h0M332 2278h0M335 2290h0M415 2300h0M343 2297h0M336 2258h0M341 2294h0M334 2285h0M360 2285h0M346 2301h0M348 2248h0M356 2287h0M338 2260h0M358 2228h0M338 2289h0M454 2287h0M341 2279h0M335 2292h0M337 2292h0M414 2234h0M348 2259h0M339 2261h0M331 2282h0M340 2268h0M343 2298h0M331 2208h0M334 2290h0M332 2291h0M331 2300h0M333 2302h0M360 2286h0M337 2282h0M365 2277h0M335 2294h0M413 2292h0M333 2254h0M363 2273h0M428 2249h0M340 2268h0M359 2278h0M346 2303h0M336 2283h0M345 2278h0M366 2280h0M332 2272h0M412 2234h0M346 2292h0M345 2292h0M352 2292h0M334 2297h0M392 2295h0M345 2245h0M341 2274h0M339 2294h0M357 2251h0"/>
<path stroke="#F81C1C" stroke-opacity="0.36" d="M344 2287h0M338 2273h0M331 2284h0M335 2276h0M339 2286h0M334 2245h0M383 2297h0M346 2283h0M353 2296h0M346 2280h0M345 2302h0M353 2299h0M334 2289h0M333 2292h0M351 2291h0M347 2302h0M343 2299h0M360 2290h0M357 2292h0M332 2294h0M339 2277h0M335 2226h0M353 2256h0M343 2263h0M361 2284h0M333 2297h0M376 2290h0M337 2304h0M338 2260h0M357 2276h0M356 2282h0M334 2298h0M335 2273h0M336 2295h0M363 2298h0M333 2290h0M354 2282h0M367 2291h0M390 2271h0M340 2283h0M343 2299h0M337 2289h0M335 2289h0M344 2295h0M372 2259h0M350 2276h0M371 2295h0M399 2280h0M337 2301h0M344 2227h0M346 2297h0M348 2277h0M332 2284h0M377 2233h0M407 2272h0M337 2295h0M402 2200h0M339 2298h0M369 2290h0M333 2293h0M337 2298h0M332 2296h0M338 2303h0M337 2284h0M389 2261h0M332 2267h0M345 2302h0M383 2247h0M352 2301h0M345 2295h0M343 2243h0M346 2301h0M335 2301h0M351 2271h0M334 2297h0M397 2298h0M336 2295h0M336 2301h0M335 2289h0M338 2283h0M454 2266h0M349 2298h0M336 2294h0M397 2240h0M400 2237h0M334 2294h0M358 2303h0M408 2283h0M333 2302h0M350 2277h0M334 2294h0M416 2290h0M414 2224h0M357 2261h0M332 2293h0M333 2297h0M333 2303h0M338 2302h0M338 2286h0M337 2266h0M334 2301h0M346 2260h0M415 2208h0M335 2245h0M333 2301h0M333 2283h0M347 2290h0M361 2283h0M335 2259h0M390 2302h0M427 2253h0M440 2279h0M342 2270h0"/>
<path stroke="#F81C1C" stroke-opacity="0.36" d="M333 2301h0M343 2287h0M332 2290h0M338 2287h0M333 2291h0M339 2297h0M345 2279h0M331 2288h0M335 2300h0M338 2274h0M358 2299h0M338 2296h0M364 2286h0M341 2270h0M350 2275h0M337 2293h0M348 2295h0M369 2266h0M446 2239h0M340 2261h0M332 2288h0M344 2276h0M349 2265h0M343 2263h0M334 2259h0M340 2303h0M333 2276h0M335 2289h0M335 2292h0M332 2301h0M339 2297h0M343 2295h0M378 2285h0M332 2292h0M341 2294h0M332 2230h0M335 2284h0M348 2303h0M339 2283h0M347 2303h0M446 2213h0M334 2279h0M331 2302h0M333 2298h0M333 2295h0M345 2288h0M346 2277h0M394 2289h0M333 2303h0M350 2283h0M345 2304h0M347 2299h0M421 2205h0M337 2298h0M369 2295h0M402 2283h0M333 2241h0M340 2282h0M340 2293h0M337 2279h0M348 2274h0M332 2292h0M349 2291h0M338 2209h0M335 2286h0M360 2286h0M347 2297h0M331 2289h0M358 2288h0M341 2293h0M334 2296h0M335 2300h0M335 2297h0M344 2271h0M419 2290h0M392 2252h0M342 2261h0M353 2288h0M374 2291h0M340 2277h0M349 2239h0M338 2297h0M342 2298h0M342 2274h0M388 2276h0M332 2281h0M378 2301h0M344 2241h0M335 2301h0M430 2301h0M347 2296h0M346 2272h0M338 2272h0M355 2274h0M331 2290h0M354 2302h0M334 2293h0M336 2302h0M339 2282h0M336 2299h0M331 2293h0M334 2294h0M355 2284h0M349 2298h0M342 2293h0M412 2248h0M342 2278h0M355 2259h0M332 2279h0M349 2277h0M445 2285h0M338 2278h0M356 2296h0"/>
<path stroke="#F81C1C" stroke-opacity="0.36" d="M377 2249h0M358 2301h0M332 2297h0M338 2298h0M347 2303h0M479 2291h0M392 2240h0M338 2303h0M348 2245h0M362 2276h0M347 2296h0M337 2298h0M344 2300h0M355 2281h0M340 2229h0M340 2301h0M360 2287h0M345 2274h0M338 2253h0M342 2301h0M332 2262h0M336 2300h0M417 2297h0M482 2228h0M334 2298h0M351 2277h0M333 2294h0M352 2304h0M369 2303h0M430 2288h0M334 2302h0M332 2298h0M335 2299h0M334 2292h0M343 2276h0M341 2290h0M333 2300h0M335 2289h0M350 2288h0M420 2280h0M368 2229h0M370 2277h0M352 2271h0M346 2276h0M333 2274h0M332 2293h0M338 2287h0M367 2250h0M354 2299h0M343 2294h0M464 2289h0M335 2241h0M349 2296h0M373 2292h0M438 2260h0M347 2297h0M340 2295h0M366 2289h0M339 2278h0M332 2302h0M364 2303h0M342 2263h0M338 2300h0M341 2300h0M361 2285h0M414 2228h0M338 2295h0M337 2296h0M333 2302h0M334 2298h0M337 2293h0M352 2298h0M357 2287h0M370 2250h0M336 2289h0M377 2271h0M332 2302h0M333 2302h0M338 2290h0M350 2301h0M350 2290h0M336 2242h0M345 2300h0M410 2284h0M349 2302h0M349 2302h0M371 2252h0M342 2300h0M480 2275h0M331 2246h0M338 2275h0M390 2302h0M335 2285h0M504 2276h0M334 2276h0M351 2295h0M335 2270h0M362 2235h0M358 2269h0M338 2260h0M347 2283h0M354 2231h0M336 2295h0M336 2290h0M357 2294h0M338 2280h0M367 2270h0M334 2288h0M334 2301h0M338 2299h0M355 2288h0M349 2281h0M342 2294h0"/>
<path stroke="#F81C1C" stroke-opacity="0.36" d="M347 2240h0M352 2300h0M350 2285h0M335 2275h0M334 2281h0M340 2303h0M342 2281h0M336 2291h0M355 2301h0M356 2294h0M357 2299h0M356 2290h0M341 2271h0M338 2289h0M372 2304h0M343 2259h0M344 2289h0M385 2257h0M352 2257h0M340 2297h0M347 2278h0M346 2276h0M353 2241h0M332 2288h0M337 2296h0M332 2300h0M333 2293h0M333 2298h0M430 2297h0M375 2280h0M346 2303h0M339 2304h0M340 2273h0M354 2294h0M332 2273h0M338 2280h0M366 2287h0M384 2300h0M351 2294h0M338 2289h0M333 2300h0M337 2291h0M334 2288h0M339 2292h0M332 2241h0M341 2302h0M345 2303h0M332 2301h0M338 2303h0M369 2299h0M356 2301h0M343 2276h0M348 2288h0M335 2298h0M338 2303h0M356 2303h0M461 2233h0M403 2235h0M335 2288h0M347 2286h0M341 2291h0M352 2289h0M333 2297h0M333 2283h0M335 2293h0M341 2276h0M357 2296h0M334 2301h0M336 2285h0M332 2304h0M375 2267h0M360 2294h0M365 2277h0M331 2301h0M350 2287h0M340 2296h0M355 2300h0M358 2289h0M333 2294h0M332 2232h0M335 2292h0M381 2294h0M334 2229h0M342 2289h0M382 2252h0M351 2298h0M340 2302h0M333 2289h0M343 2293h0M347 2287h0M333 2292h0M342 2268h0M347 2278h0M335 2292h0M343 2304h0M332 2300h0M332 2297h0M341 2299h0M427 2299h0M352 2234h0M358 2299h0M331 2292h0M345 2302h0M333 2265h0M335 2292h0M337 2294h0M340 2281h0M339 2276h0M362 2255h0M334 2275h0M337 2298h0M334 2301h0"/>
<path stroke="#F81C1C" stroke-opacity="0.36" d="M332 2297h0M336 2300h0M357 2282h0M341 2295h0M337 2294h0M381 2239h0M336 2300h0M344 2303h0M343 2303h0M344 2280h0M344 2264h0M333 2297h0M338 2283h0M364 2294h0M332 2279h0M438 2272h0M331 2255h0M341 2298h0M332 2271h0M349 2243h0M369 2284h0M341 2301h0M337 2287h0M358 2284h0M338 2301h0M346 2293h0M335 2301h0M332 2295h0M339 2289h0M383 2297h0M334 2280h0M365 2244h0M337 2296h0M336 2283h0M334 2272h0M338 2278h0M346 2300h0M331 2300h0M337 2278h0M334 2296h0M336 2295h0M333 2270h0M498 2279h0M365 2278h0M332 2303h0M340 2284h0M368 2262h0M338 2267h0M334 2288h0M332 2266h0M343 2253h0M344 2253h0M337 2303h0M381 2295h0M353 2272h0M345 2295h0M355 2238h0M335 2276h0M332 2265h0M338 2302h0M391 2302h0M343 2302h0M337 2253h0M372 2297h0M332 2300h0M398 2272h0M334 2286h0M357 2290h0M333 2300h0M350 2258h0M338 2289h0M423 2276h0M334 2302h0M340 2281h0M410 2272h0M338 2297h0M338 2288h0M336 2262h0M451 2278h0M333 2300h0M345 2273h0M412 2254h0M337 2294h0M343 2296h0M332 2284h0M344 2297h0M335 2287h0M338 2291h0M333 2283h0M337 2265h0M335 2290h0M332 2265h0M394 2268h0M334 2284h0M339 2299h0M344 2302h0M429 2303h0M355 2271h0M427 2255h0M331 2297h0M336 2277h0M335 2300h0M445 2302h0M379 2297h0M353 2220h0M345 2287h0M337 2299h0M335 2297h0M345 2290h0M333 2283h0M350 2302h0M332 2247h0"/>
<path stroke="#F81C1C" stroke-opacity="0.36" d="M331 2293h0M336 2277h0M360 2231h0M386 2291h0M339 2301h0M340 2267h0M342 2288h0M339 2293h0M351 2288h0M357 2285h0M349 2302h0M358 2286h0M336 2276h0M346 2301h0M344 2272h0M334 2300h0M332 2278h0M343 2297h0M366 2280h0M335 2288h0M331 2280h0M356 2295h0M336 2269h0M349 2250h0M366 2299h0M353 2302h0M339 2304h0M336 2274h0M332 2303h0M468 2272h0M357 2249h0M349 2273h0M350 2294h0M334 2287h0M336 2293h0M356 2267h0M385 2303h0M347 2285h0M345 2274h0M337 2300h0M347 2263h0M341 2295h0M346 2303h0M350 2223h0M346 2287h0M351 2289h0M358 2298h0M334 2293h0M357 2283h0M345 2254h0M350 2284h0M334 2274h0M356 2295h0M351 2283h0M344 2297h0M446 2288h0M390 2264h0M372 2293h0M361 2288h0M337 2304h0M338 2298h0M364 2290h0M373 2258h0M384 2302h0M334 2274h0M338 2304h0M352 2296h0M389 2264h0M332 2288h0M367 2295h0M343 2286h0M349 2245h0M344 2251h0M344 2254h0M347 2291h0M334 2300h0M337 2302h0M357 2293h0M395 2268h0M340 2298h0M356 2231h0M334 2293h0M332 2287h0M346 2302h0M343 2278h0M331 2275h0M353 2292h0M343 2303h0M357 2289h0M333 2299h0M342 2302h0M343 2302h0M333 2300h0M345 2302h0M333 2294h0M332 2302h0M350 2248h0M337 2296h0M331 2300h0M395 2303h0M338 2297h0M372 2300h0M353 2304h0M350 2282h0M367 2236h0M335 2301h0M337 2298h0M355 2289h0M334 2249h0M344 2293h0M335 2303h0M344 2291h0"/>
<path stroke="#F81C1C" stroke-opacity="0.36" d="M335 2296h0M350 2300h0M331 2235h0M339 2292h0M338 2227h0M337 2251h0M333 2301h0M332 2301h0M342 2282h0M341 2299h0M332 2297h0M334 2272h0M353 2299h0M354 2299h0M367 2276h0M369 2280h0M384 2300h0M360 2288h0M342 2296h0M340 2292h0M425 2269h0M344 2294h0M352 2255h0M365 2279h0M348 2282h0M349 2295h0M334 2302h0M349 2285h0M337 2274h0M415 2221h0M336 2302h0M359 2299h0M345 2289h0M333 2302h0M331 2293h0M348 2292h0M341 2297h0M331 2289h0M336 2249h0M335 2285h0M332 2298h0M335 2298h0M342 2262h0M348 2271h0M357 2285h0M332 2249h0M334 2302h0M365 2295h0M361 2289h0M365 2227h0M370 2301h0M393 2272h0M338 2300h0M333 2274h0M346 2295h0M364 2300h0M342 2277h0M354 2297h0M334 2281h0M343 2281h0M342 2282h0M335 2263h0M339 2298h0M347 2281h0M331 2301h0M371 2300h0M338 2296h0M334 2263h0M400 2304h0M343 2296h0M334 2258h0M337 2289h0M334 2300h0M333 2282h0M367 2283h0M342 2272h0M339 2273h0M344 2302h0M465 2300h0M380 2286h0M356 2303h0M335 2301h0M348 2295h0M335 2292h0M333 2301h0M334 2304h0M447 2272h0M346 2302h0M369 2256h0M332 2282h0M431 2271h0M399 2278h0M332 2267h0M372 2272h0M515 2299h0M336 2279h0M340 2242h0M354 2255h0M341 2301h0M338 2300h0M351 2283h0M356 2299h0M425 2290h0M342 2289h0M396 2217h0M351 2264h0M334 2282h0M352 2281h0M372 2217h0M332 2293h0M342 2304h0M397 2283h0"/>
<path stroke="#F81C1C" stroke-opacity="0.4" d="M525.7 2214.8h0M453.6 2261.4h0M428.9 2286.9h0M441.5 2291.4h0"/>
</g>
<path d="M259.5 2139.6V2319.1M329.5 2139.6V2319.1M172.7 2305.9H556.9" stroke="#6A6A6A" stroke-width="1.2" stroke-dasharray="11.5 6.5" fill="none"/>
<rect x="172.7" y="2139.6" width="384.2" height="179.5" fill="none" stroke="#2E2E2E" stroke-width="1.9"/>
<line x1="189.5" y1="2319.1" x2="189.5" y2="2322.6" stroke="#333" stroke-width="1.3"/>
<text x="192.5" y="2341.5" font-size="20.5" text-anchor="middle">&#8722;3</text>
<line x1="259.5" y1="2319.1" x2="259.5" y2="2322.6" stroke="#333" stroke-width="1.3"/>
<text x="262.5" y="2341.5" font-size="20.5" text-anchor="middle">&#8722;1</text>
<line x1="329.5" y1="2319.1" x2="329.5" y2="2322.6" stroke="#333" stroke-width="1.3"/>
<text x="329.5" y="2341.5" font-size="20.5" text-anchor="middle">1</text>
<line x1="399.5" y1="2319.1" x2="399.5" y2="2322.6" stroke="#333" stroke-width="1.3"/>
<text x="399.5" y="2341.5" font-size="20.5" text-anchor="middle">3</text>
<line x1="469.5" y1="2319.1" x2="469.5" y2="2322.6" stroke="#333" stroke-width="1.3"/>
<text x="469.5" y="2341.5" font-size="20.5" text-anchor="middle">5</text>
<line x1="539.5" y1="2319.1" x2="539.5" y2="2322.6" stroke="#333" stroke-width="1.3"/>
<text x="539.5" y="2341.5" font-size="20.5" text-anchor="middle">7</text>
<line x1="169.2" y1="2209.1" x2="172.7" y2="2209.1" stroke="#333" stroke-width="1.3"/>
<text x="165" y="2216.4" font-size="20.5" text-anchor="end">6</text>
<line x1="169.2" y1="2308.9" x2="172.7" y2="2308.9" stroke="#333" stroke-width="1.3"/>
<text x="165" y="2316.2" font-size="20.5" text-anchor="end">1</text>
<text x="144.5" y="2231.8" font-size="20.7" text-anchor="middle" transform="rotate(-90 144.5 2231.8)">&#8722;Log10 (p)</text>
<text x="364.4" y="2360.9" font-size="20.7" text-anchor="middle">Log2 (FoldChange)</text>
<line x1="510.6" y1="2207.2" x2="525.7" y2="2214.8" stroke="#333" stroke-width="1.1"/>
<text x="476.4" y="2202.2" font-size="20.7" font-style="italic">IGHV2-70</text>
<line x1="479" y1="2252.7" x2="453.6" y2="2261.4" stroke="#333" stroke-width="1.1"/>
<text x="459.3" y="2248.2" font-size="20.7" font-style="italic">IGKV1-27</text>
<line x1="396.7" y1="2276.6" x2="428.9" y2="2286.9" stroke="#333" stroke-width="1.1"/>
<text x="352.3" y="2273.6" font-size="20.7" font-style="italic">IGKV1D-13</text>
<line x1="461.2" y1="2288.8" x2="441.5" y2="2291.4" stroke="#333" stroke-width="1.1"/>
<text x="465" y="2293.7" font-size="20.7" font-style="italic">IGLV5-45</text>
<text x="997.3" y="2124.8" font-size="22.4" text-anchor="middle">SP-LI <tspan font-style="italic">vs</tspan> others</text>
<rect x="792.1" y="2140" width="381.5" height="179.9" fill="#fff"/>
<path d="M809 2140V2319.9M852.6 2140V2319.9M896.2 2140V2319.9M939.8 2140V2319.9M983.4 2140V2319.9M1027 2140V2319.9M1070.6 2140V2319.9M1114.2 2140V2319.9M1157.8 2140V2319.9M792.1 2308.5H1173.6M792.1 2274.8H1173.6M792.1 2241H1173.6M792.1 2207.2H1173.6M792.1 2173.5H1173.6" stroke="#EDEDED" stroke-width="1" fill="none"/>
<clipPath id="cf2"><rect x="792.1" y="2140" width="381.5" height="179.9"/></clipPath>
<g clip-path="url(#cf2)" fill="none" stroke-linecap="round" stroke-width="6.4">
<path stroke="#1A10F5" stroke-opacity="0.36" d="M869 2296h0M887 2304h0M831 2294h0M875 2305h0M869 2289h0M879 2289h0M874 2295h0M887 2292h0M859 2306h0M867 2288h0M889 2299h0M891 2297h0M876 2298h0M894 2301h0M857 2287h0M841 2306h0M890 2294h0M816 2295h0M865 2295h0M871 2289h0M862 2299h0M892 2301h0M854 2298h0M853 2299h0M873 2285h0M894 2270h0M881 2305h0M841 2306h0M807 2297h0M860 2297h0M866 2254h0M833 2297h0M865 2280h0M869 2298h0M882 2273h0M893 2301h0M843 2297h0M862 2285h0M821 2304h0M869 2275h0M832 2235h0M862 2293h0M850 2299h0M873 2300h0M845 2286h0M850 2296h0M877 2296h0M878 2294h0M848 2303h0M893 2306h0M855 2296h0M850 2289h0M890 2303h0M858 2300h0M888 2306h0M894 2295h0M883 2305h0M882 2294h0M884 2302h0M894 2286h0M823 2306h0M889 2305h0M871 2250h0M880 2306h0M843 2293h0M887 2291h0M886 2297h0M871 2296h0M878 2298h0M878 2259h0M844 2306h0M892 2284h0M871 2300h0M889 2305h0M879 2292h0M892 2258h0M808 2304h0M890 2288h0M862 2266h0M811 2271h0M866 2287h0M853 2294h0M885 2298h0M865 2299h0M884 2305h0M885 2301h0M863 2304h0M872 2246h0M822 2276h0M877 2264h0M858 2284h0M872 2277h0M880 2287h0M828 2276h0M871 2304h0M875 2278h0M863 2299h0M860 2298h0M888 2290h0M878 2292h0M841 2302h0M850 2303h0M872 2299h0M837 2253h0M875 2287h0M855 2287h0M884 2268h0M890 2305h0M810 2302h0M890 2305h0M894 2271h0M852 2306h0M834 2291h0M878 2300h0M890 2302h0M868 2303h0M888 2301h0M879 2288h0M890 2305h0M889 2300h0M875 2252h0M856 2265h0M872 2295h0M856 2263h0M824 2300h0M890 2288h0M892 2276h0M848 2284h0M875 2289h0M885 2283h0M872 2275h0M822 2282h0M855 2304h0M845 2267h0M840 2304h0M891 2300h0M894 2304h0M871 2301h0M819 2304h0M811 2306h0M836 2306h0M835 2295h0M883 2300h0M878 2295h0M875 2301h0M890 2276h0M877 2292h0M881 2277h0M886 2247h0M874 2303h0M889 2305h0M887 2306h0M837 2265h0M861 2306h0M844 2277h0M867 2286h0M889 2291h0M888 2295h0M885 2303h0M846 2304h0M833 2265h0M865 2239h0M854 2303h0M893 2299h0M890 2302h0M877 2266h0M867 2306h0M894 2295h0M894 2285h0M876 2280h0M875 2298h0M823 2303h0M881 2300h0M849 2288h0M890 2296h0M854 2270h0M865 2300h0M863 2292h0M887 2276h0M822 2273h0M890 2263h0M822 2284h0M827 2305h0M892 2279h0M872 2305h0M850 2298h0M890 2306h0M893 2304h0M892 2261h0M870 2273h0M857 2303h0M878 2291h0M878 2299h0M887 2295h0M871 2293h0M878 2289h0M875 2291h0M856 2295h0M888 2302h0M859 2304h0M841 2260h0M878 2304h0M861 2299h0M878 2286h0M808 2302h0M851 2279h0M881 2304h0M857 2280h0M829 2302h0M885 2293h0M842 2299h0M837 2301h0M890 2304h0M860 2298h0M887 2300h0M841 2292h0M844 2306h0M886 2292h0M836 2283h0M885 2291h0M833 2294h0M868 2306h0M888 2305h0M867 2262h0M861 2302h0M869 2303h0M820 2264h0M857 2303h0M833 2303h0M881 2302h0M892 2298h0M844 2300h0M891 2306h0M890 2288h0M834 2294h0M878 2282h0M875 2291h0M835 2304h0M858 2305h0M810 2264h0M814 2295h0M872 2304h0M871 2268h0M866 2270h0M883 2301h0"/>
<path stroke="#1A10F5" stroke-opacity="0.36" d="M891 2304h0M890 2292h0M860 2262h0M872 2264h0M849 2300h0M825 2279h0M825 2296h0M877 2304h0M883 2269h0M844 2295h0M863 2293h0M885 2306h0M843 2290h0M837 2296h0M821 2297h0M893 2306h0M843 2297h0M854 2305h0M841 2275h0M878 2289h0M839 2261h0M866 2306h0M852 2300h0M817 2289h0M858 2299h0M888 2259h0M849 2297h0M869 2306h0M866 2269h0M878 2296h0M883 2306h0M826 2296h0M890 2267h0M868 2294h0M891 2306h0M833 2301h0M885 2284h0M852 2306h0M888 2261h0M853 2306h0M874 2304h0M862 2306h0M834 2285h0M885 2292h0M894 2285h0M844 2299h0M888 2306h0M831 2305h0M865 2304h0M806 2282h0M894 2297h0M884 2302h0M889 2248h0M889 2295h0M837 2299h0M882 2297h0M851 2267h0M856 2287h0M830 2288h0M865 2303h0M849 2290h0M880 2266h0M867 2249h0M845 2306h0M826 2295h0M827 2306h0M867 2279h0M853 2303h0M854 2291h0M824 2299h0M876 2294h0M870 2292h0M812 2292h0M858 2287h0M862 2294h0M863 2304h0M884 2283h0M843 2294h0M863 2291h0M879 2283h0M858 2292h0M838 2302h0M816 2296h0M852 2303h0M807 2286h0M830 2299h0M888 2297h0M812 2300h0M864 2282h0M857 2299h0M822 2297h0M893 2289h0M823 2280h0M893 2279h0M887 2293h0M869 2295h0M882 2294h0M888 2299h0M886 2305h0M847 2284h0M851 2286h0M882 2291h0M854 2263h0M863 2304h0M877 2284h0M860 2296h0M871 2300h0M893 2304h0M876 2270h0M817 2285h0M870 2304h0M819 2306h0M889 2276h0M863 2305h0M878 2306h0M843 2305h0M858 2294h0M848 2299h0M816 2301h0M872 2281h0M854 2297h0M892 2302h0M852 2292h0M869 2296h0M861 2306h0M880 2300h0M868 2303h0M876 2305h0M883 2294h0M817 2301h0M865 2302h0M883 2285h0M852 2289h0M891 2306h0M852 2302h0M889 2290h0M892 2291h0M869 2279h0M889 2293h0M873 2299h0M890 2288h0M892 2301h0M887 2275h0M874 2297h0M878 2301h0M893 2300h0M891 2295h0M887 2283h0M863 2294h0M883 2304h0M871 2300h0M808 2221h0M861 2300h0M876 2292h0M888 2306h0M833 2295h0M891 2303h0M810 2253h0M877 2258h0M893 2304h0M876 2296h0M892 2286h0M880 2294h0M892 2285h0M879 2282h0M849 2282h0M829 2293h0M849 2280h0M864 2305h0M876 2305h0M882 2269h0M878 2292h0M881 2305h0M894 2259h0M886 2293h0M834 2278h0M812 2285h0M873 2303h0M840 2299h0M879 2291h0M878 2298h0M887 2266h0M894 2299h0M876 2305h0M894 2300h0M845 2288h0M850 2296h0M892 2285h0M883 2297h0M893 2279h0M872 2300h0M867 2306h0M838 2264h0M872 2279h0M838 2273h0M871 2302h0M873 2297h0M846 2289h0M890 2258h0M837 2298h0M892 2293h0M865 2277h0M863 2298h0M893 2282h0M848 2295h0M880 2306h0M831 2293h0M866 2271h0M870 2268h0M863 2289h0M869 2275h0M889 2279h0M842 2304h0M877 2231h0M879 2302h0M877 2298h0M869 2306h0M864 2299h0M882 2288h0M889 2305h0M875 2304h0M892 2299h0M841 2286h0M866 2305h0M845 2299h0M886 2295h0M889 2305h0M865 2281h0M878 2299h0M870 2273h0M889 2302h0M841 2254h0M874 2305h0M893 2300h0M883 2303h0M892 2284h0M884 2298h0M885 2306h0M853 2274h0M829 2281h0M863 2292h0M882 2295h0M893 2302h0M894 2289h0M817 2302h0"/>
<path stroke="#1A10F5" stroke-opacity="0.36" d="M859 2305h0M888 2304h0M820 2290h0M874 2303h0M860 2304h0M883 2299h0M852 2275h0M858 2306h0M876 2281h0M842 2249h0M808 2296h0M848 2301h0M831 2297h0M890 2298h0M873 2297h0M851 2298h0M875 2295h0M865 2231h0M843 2294h0M813 2299h0M831 2235h0M894 2278h0M852 2304h0M893 2283h0M867 2305h0M890 2304h0M880 2299h0M875 2306h0M839 2283h0M845 2300h0M812 2280h0M880 2286h0M890 2298h0M842 2299h0M881 2300h0M836 2290h0M895 2302h0M823 2287h0M826 2297h0M838 2291h0M849 2297h0M891 2301h0M887 2303h0M891 2293h0M871 2298h0M894 2269h0M821 2304h0M839 2285h0M893 2298h0M845 2303h0M885 2245h0M887 2291h0M837 2297h0M836 2282h0M873 2285h0M863 2280h0M892 2301h0M846 2301h0M852 2242h0M869 2288h0M889 2292h0M848 2303h0M871 2298h0M857 2287h0M892 2300h0M883 2294h0M855 2306h0M847 2294h0M815 2280h0M885 2306h0M832 2282h0M886 2295h0M883 2282h0M873 2301h0M877 2263h0M891 2305h0M845 2295h0M820 2306h0M881 2294h0M887 2292h0M831 2258h0M875 2294h0M831 2276h0M895 2302h0M862 2274h0M880 2258h0M880 2306h0M830 2306h0M882 2297h0M872 2287h0M860 2300h0M869 2263h0M890 2286h0M845 2293h0M882 2272h0M878 2299h0M858 2304h0M891 2306h0M885 2302h0M870 2306h0M823 2256h0M891 2305h0M861 2299h0M891 2296h0M894 2293h0M811 2299h0M893 2305h0M869 2276h0M815 2272h0M884 2290h0M890 2285h0M847 2303h0M850 2302h0M842 2305h0M889 2293h0M880 2246h0M840 2262h0M861 2256h0M840 2306h0M814 2296h0M810 2298h0M893 2304h0M852 2257h0M886 2285h0M890 2306h0M829 2299h0M846 2304h0M843 2288h0M885 2305h0M821 2246h0M864 2295h0M874 2279h0M853 2304h0M853 2305h0M821 2271h0M845 2304h0M863 2303h0M861 2234h0M816 2278h0M894 2305h0M878 2283h0M875 2292h0M887 2276h0M882 2285h0M813 2264h0M826 2280h0M889 2297h0M810 2278h0M867 2288h0M862 2301h0M873 2301h0M884 2296h0M893 2278h0M833 2296h0M867 2293h0M895 2305h0M843 2305h0M859 2297h0M856 2278h0M865 2294h0M893 2304h0M837 2281h0M889 2281h0M868 2299h0M890 2306h0M822 2294h0M854 2273h0M885 2300h0M858 2283h0M822 2290h0M839 2226h0M847 2252h0M873 2289h0M880 2304h0M865 2292h0M847 2300h0M869 2299h0M886 2302h0M870 2306h0M833 2294h0M860 2293h0M894 2281h0M856 2305h0M825 2286h0M894 2259h0M835 2287h0M860 2303h0M845 2305h0M850 2287h0M815 2239h0M875 2297h0M870 2304h0M855 2300h0M832 2303h0M893 2289h0M865 2300h0M874 2279h0M853 2305h0M872 2295h0M876 2293h0M840 2305h0M873 2298h0M886 2305h0M890 2294h0M884 2303h0M864 2303h0M852 2305h0M891 2291h0M867 2295h0M867 2304h0M839 2296h0M828 2302h0M882 2294h0M871 2293h0M882 2298h0M886 2303h0M879 2302h0M833 2303h0M836 2258h0M872 2297h0M875 2301h0M883 2302h0M854 2294h0M864 2295h0M867 2291h0M885 2245h0M855 2303h0M889 2270h0M833 2284h0M878 2301h0M894 2295h0M859 2292h0M858 2244h0M855 2266h0M879 2297h0M874 2282h0M841 2268h0M892 2302h0M880 2297h0M853 2288h0M853 2302h0M852 2296h0M842 2254h0M831 2306h0M862 2265h0"/>
<path stroke="#1A10F5" stroke-opacity="0.36" d="M867 2299h0M838 2286h0M850 2305h0M833 2306h0M865 2306h0M852 2239h0M862 2279h0M892 2279h0M888 2301h0M862 2302h0M873 2299h0M892 2283h0M884 2300h0M849 2278h0M892 2301h0M889 2296h0M821 2271h0M878 2306h0M852 2306h0M888 2306h0M808 2302h0M893 2294h0M887 2306h0M868 2285h0M880 2296h0M873 2295h0M885 2250h0M886 2277h0M886 2305h0M873 2298h0M878 2300h0M892 2302h0M853 2270h0M848 2251h0M838 2261h0M894 2295h0M875 2302h0M858 2291h0M870 2305h0M853 2287h0M818 2302h0M894 2302h0M887 2299h0M850 2260h0M866 2293h0M866 2265h0M864 2295h0M865 2302h0M807 2303h0M880 2305h0M886 2272h0M809 2271h0M815 2301h0M891 2305h0M892 2303h0M877 2303h0M838 2292h0M873 2294h0M876 2256h0M888 2288h0M814 2239h0M882 2303h0M879 2303h0M879 2268h0M890 2306h0M870 2265h0M887 2289h0M866 2293h0M832 2301h0M863 2282h0M888 2306h0M873 2285h0M848 2292h0M875 2284h0M857 2306h0M867 2302h0M862 2298h0M890 2302h0M876 2304h0M878 2282h0M864 2295h0M890 2301h0M881 2306h0M859 2293h0M813 2260h0M807 2300h0M893 2302h0M888 2286h0M814 2292h0M879 2263h0M853 2305h0M845 2278h0M846 2302h0M875 2303h0M869 2257h0M830 2303h0M864 2302h0M884 2285h0M869 2304h0M807 2298h0M863 2299h0M848 2285h0M878 2289h0M857 2300h0M849 2291h0M846 2289h0M886 2299h0M836 2282h0M858 2302h0M894 2294h0M861 2284h0M848 2293h0M866 2303h0M828 2261h0M846 2304h0M870 2284h0M888 2301h0M817 2294h0M850 2275h0M835 2272h0M844 2298h0M891 2292h0M894 2297h0M864 2282h0M873 2288h0M853 2304h0M819 2299h0M852 2301h0M881 2301h0M848 2299h0M853 2285h0M820 2301h0M886 2289h0M847 2305h0M841 2296h0M854 2290h0M866 2286h0M873 2306h0M868 2295h0M873 2303h0M887 2303h0M857 2238h0M842 2306h0M838 2289h0M875 2296h0M838 2304h0M858 2277h0M889 2266h0M816 2271h0M884 2300h0M851 2296h0M841 2276h0M878 2299h0M886 2291h0M883 2300h0M857 2303h0M858 2278h0M882 2287h0M884 2301h0M847 2254h0M893 2294h0M885 2295h0M894 2292h0M886 2289h0M894 2294h0M842 2266h0M876 2270h0M846 2294h0M884 2284h0M818 2306h0M890 2305h0M850 2294h0M835 2297h0M824 2281h0M873 2306h0M855 2265h0M886 2300h0M856 2292h0M842 2296h0M838 2305h0M890 2287h0M872 2284h0M821 2305h0M808 2301h0M813 2276h0M807 2296h0M833 2285h0M891 2299h0M885 2275h0M844 2264h0M874 2304h0M845 2302h0M812 2295h0M887 2306h0M858 2241h0M867 2301h0M864 2299h0M887 2304h0M850 2297h0M844 2304h0M860 2286h0M835 2275h0M844 2298h0M866 2226h0M881 2285h0M891 2305h0M866 2299h0M870 2297h0M835 2302h0M821 2291h0M886 2297h0M850 2303h0M830 2297h0M891 2300h0M859 2293h0M873 2295h0M855 2288h0M878 2305h0M864 2286h0M879 2305h0M853 2300h0M814 2244h0M875 2271h0M834 2295h0M888 2265h0M836 2305h0M884 2293h0M860 2295h0M837 2303h0M836 2294h0M836 2291h0M865 2270h0M833 2298h0M837 2293h0M857 2290h0M887 2297h0M859 2298h0M823 2306h0M894 2298h0M831 2270h0M845 2305h0M881 2306h0M858 2293h0M893 2298h0M863 2301h0"/>
<path stroke="#1A10F5" stroke-opacity="0.36" d="M879 2283h0M886 2299h0M883 2306h0M834 2278h0M820 2305h0M845 2304h0M862 2304h0M872 2305h0M882 2296h0M881 2286h0M838 2297h0M887 2305h0M856 2272h0M835 2291h0M833 2300h0M831 2233h0M875 2241h0M831 2280h0M836 2301h0M863 2257h0M859 2298h0M891 2250h0M862 2303h0M845 2293h0M815 2297h0M880 2271h0M866 2298h0M890 2292h0M854 2291h0M828 2294h0M840 2262h0M868 2276h0M820 2277h0M860 2288h0M852 2290h0M822 2306h0M847 2272h0M878 2288h0M875 2305h0M841 2293h0M860 2301h0M894 2281h0M807 2300h0M870 2269h0M882 2282h0M817 2280h0M891 2303h0M823 2304h0M880 2298h0M894 2298h0M892 2290h0M827 2244h0M811 2280h0M894 2286h0M824 2287h0M864 2278h0M831 2294h0M886 2280h0M880 2280h0M817 2219h0M846 2300h0M887 2288h0M860 2299h0M855 2296h0M869 2300h0M893 2306h0M874 2304h0M844 2306h0M857 2302h0M886 2296h0M869 2275h0M823 2291h0M889 2279h0M865 2286h0M892 2304h0M888 2276h0M882 2281h0M818 2299h0M854 2294h0M807 2264h0M871 2305h0M885 2303h0M838 2275h0M877 2302h0M893 2288h0M894 2284h0M871 2305h0M890 2299h0M835 2302h0M877 2300h0M881 2242h0M848 2306h0M892 2291h0M857 2305h0M830 2292h0M854 2248h0M875 2299h0M807 2295h0M857 2303h0M865 2295h0M873 2306h0M846 2296h0M839 2289h0M817 2269h0M826 2277h0M857 2284h0M844 2280h0M893 2283h0M836 2291h0M851 2295h0M885 2306h0M846 2278h0M832 2299h0M852 2301h0M813 2306h0M888 2298h0M850 2305h0M851 2287h0M882 2299h0M877 2290h0M860 2293h0M866 2292h0M871 2297h0M864 2291h0M893 2270h0M865 2277h0M891 2273h0M880 2270h0M866 2285h0M883 2281h0M840 2258h0M836 2305h0M827 2293h0M882 2306h0M850 2299h0M887 2284h0M843 2281h0M849 2303h0M880 2296h0M886 2302h0M836 2303h0M866 2303h0M886 2271h0M873 2289h0M886 2265h0M871 2306h0M845 2306h0M892 2289h0M883 2251h0M878 2265h0M869 2306h0M870 2302h0M863 2300h0M893 2304h0M880 2304h0M847 2272h0M878 2297h0M865 2280h0M885 2295h0M875 2279h0M860 2289h0M873 2277h0M820 2291h0M893 2289h0M860 2295h0M857 2279h0M813 2302h0M813 2287h0M891 2289h0M836 2301h0M823 2304h0M816 2302h0M873 2289h0M822 2267h0M839 2290h0M846 2302h0M867 2283h0M888 2297h0M873 2262h0M884 2250h0M894 2250h0M889 2301h0M891 2299h0M885 2290h0M853 2278h0M867 2293h0M887 2300h0M820 2295h0M849 2302h0M894 2305h0M877 2304h0M867 2288h0M846 2297h0M841 2298h0M886 2287h0M848 2296h0M878 2301h0M894 2284h0M869 2300h0M893 2298h0M834 2295h0M889 2291h0M886 2270h0M882 2306h0M880 2300h0M856 2298h0M816 2302h0M857 2300h0M870 2290h0M882 2301h0M816 2306h0M875 2296h0M878 2297h0M882 2275h0M860 2298h0M860 2291h0M812 2291h0M895 2301h0M815 2300h0M866 2277h0M844 2266h0M880 2281h0M856 2279h0M891 2287h0M834 2292h0M871 2305h0M892 2276h0M852 2301h0M887 2305h0M887 2278h0M887 2300h0M895 2303h0M826 2291h0M867 2303h0M832 2300h0M855 2268h0M811 2304h0M884 2260h0M878 2300h0M889 2280h0M881 2306h0M849 2291h0M856 2275h0M867 2265h0M863 2270h0"/>
<path stroke="#1A10F5" stroke-opacity="0.36" d="M862 2253h0M866 2303h0M811 2298h0M847 2297h0M886 2279h0M878 2287h0M832 2284h0M893 2280h0M877 2304h0M892 2304h0M850 2305h0M854 2305h0M842 2306h0M887 2246h0M838 2260h0M837 2275h0M876 2300h0M823 2294h0M886 2294h0M832 2281h0M830 2303h0M884 2257h0M826 2306h0M862 2304h0M894 2299h0M818 2292h0M882 2299h0M894 2305h0M857 2306h0M848 2302h0M895 2302h0M876 2305h0M813 2284h0M831 2247h0M884 2250h0M853 2254h0M871 2289h0M872 2285h0M893 2275h0M857 2305h0M874 2305h0M861 2281h0M894 2303h0M884 2304h0M860 2273h0M890 2295h0M865 2299h0M854 2303h0M840 2283h0M865 2286h0M878 2306h0M847 2306h0M862 2304h0M868 2291h0M880 2300h0M854 2305h0M816 2293h0M891 2285h0M893 2303h0M892 2257h0M857 2296h0M871 2297h0M830 2300h0M893 2304h0M862 2306h0M858 2305h0M890 2295h0M816 2287h0M877 2305h0M878 2299h0M840 2286h0M886 2278h0M833 2269h0M869 2251h0M867 2302h0M865 2306h0M830 2268h0M833 2293h0M863 2305h0M894 2298h0M810 2255h0M859 2263h0M873 2306h0M894 2292h0M883 2292h0M868 2259h0M875 2293h0M892 2306h0M867 2306h0M864 2275h0M885 2281h0M873 2303h0M858 2269h0M850 2302h0M894 2302h0M885 2271h0M889 2296h0M894 2283h0M888 2303h0M880 2295h0M862 2305h0M858 2305h0M857 2293h0M894 2298h0M885 2305h0M877 2286h0M867 2263h0M845 2282h0M871 2304h0M889 2289h0M844 2306h0M885 2295h0M876 2303h0M876 2295h0M869 2298h0M876 2301h0M840 2268h0M846 2277h0M840 2295h0M893 2291h0M885 2262h0M871 2266h0M811 2300h0M844 2303h0M821 2262h0M871 2305h0M816 2300h0M864 2302h0M894 2292h0M890 2295h0M883 2297h0M842 2298h0M841 2272h0M841 2303h0M847 2304h0M862 2300h0M871 2304h0M874 2276h0M885 2288h0M857 2299h0M857 2292h0M816 2287h0M806 2297h0M868 2286h0M889 2294h0M879 2305h0M862 2300h0M834 2296h0M808 2251h0M880 2285h0M847 2292h0M863 2301h0M814 2304h0M849 2298h0M835 2302h0M811 2295h0M835 2287h0M888 2296h0M852 2284h0M888 2303h0M839 2306h0M886 2305h0M878 2295h0M824 2306h0M841 2306h0M861 2291h0M885 2298h0M815 2278h0M848 2306h0M808 2286h0M892 2302h0M873 2297h0M845 2302h0M892 2305h0M847 2303h0M836 2291h0M890 2297h0M877 2283h0M890 2298h0M881 2298h0M888 2302h0M878 2302h0M845 2240h0M880 2248h0M894 2302h0M850 2298h0M887 2289h0M845 2295h0M885 2305h0M893 2289h0M884 2292h0M881 2270h0M885 2300h0M888 2290h0M878 2294h0M869 2300h0M885 2294h0M894 2279h0M843 2301h0M822 2301h0M820 2295h0M876 2304h0M861 2306h0M828 2275h0M832 2304h0M827 2305h0M871 2279h0M807 2304h0M867 2293h0M810 2297h0M840 2306h0M895 2299h0M885 2293h0M892 2305h0M809 2300h0M844 2288h0M872 2290h0M876 2302h0M887 2297h0M884 2306h0M812 2297h0M892 2305h0M842 2270h0M807 2286h0M837 2231h0M867 2279h0M889 2294h0M891 2304h0M893 2305h0M855 2296h0M842 2288h0M871 2269h0M883 2288h0M819 2259h0M871 2298h0M882 2295h0M882 2295h0M847 2299h0M873 2305h0M876 2289h0M810 2277h0M834 2293h0M878 2258h0M894 2271h0M856 2298h0"/>
<path stroke="#1A10F5" stroke-opacity="0.36" d="M806 2303h0M893 2305h0M826 2297h0M820 2304h0M863 2301h0M853 2304h0M893 2288h0M894 2291h0M859 2278h0M856 2267h0M807 2293h0M857 2301h0M886 2286h0M865 2303h0M809 2304h0M872 2300h0M883 2300h0M873 2272h0M892 2269h0M825 2302h0M891 2299h0M830 2303h0M888 2305h0M872 2305h0M874 2303h0M858 2295h0M841 2285h0M841 2286h0M877 2297h0M875 2289h0M844 2300h0M860 2302h0M882 2289h0M844 2295h0M891 2291h0M889 2306h0M882 2306h0M881 2297h0M844 2269h0M843 2306h0M878 2305h0M847 2302h0M874 2303h0M891 2294h0M866 2305h0M878 2304h0M829 2303h0M885 2298h0M885 2295h0M894 2302h0M851 2257h0M866 2300h0M867 2291h0M845 2291h0M869 2304h0M823 2240h0M869 2293h0M834 2266h0M826 2306h0M894 2284h0M875 2304h0M833 2286h0M836 2299h0M808 2288h0M871 2283h0M832 2263h0M873 2304h0M836 2304h0M880 2294h0M832 2302h0M880 2270h0M865 2294h0M886 2295h0M892 2303h0M873 2274h0M831 2281h0M862 2291h0M885 2276h0M881 2304h0M876 2268h0M892 2306h0M875 2304h0M860 2293h0M881 2294h0M874 2282h0M882 2303h0M863 2294h0M880 2304h0M883 2297h0M848 2296h0M863 2302h0M859 2305h0M856 2274h0M842 2247h0M845 2291h0M862 2305h0M824 2304h0M864 2266h0M822 2302h0M881 2290h0M807 2304h0M884 2305h0M887 2300h0M844 2300h0M841 2294h0M885 2297h0M861 2299h0M810 2302h0M837 2297h0M838 2273h0M887 2301h0M893 2277h0M851 2290h0M893 2300h0M837 2284h0M872 2278h0M893 2292h0M827 2276h0M852 2293h0M885 2301h0M840 2287h0M867 2305h0M840 2303h0M862 2298h0M837 2296h0M823 2300h0M893 2291h0M882 2294h0M848 2304h0M879 2297h0M867 2296h0M868 2306h0M891 2290h0M877 2278h0M887 2301h0M880 2300h0M851 2306h0M865 2302h0M867 2304h0M884 2305h0M842 2304h0M888 2299h0M827 2294h0M830 2306h0M854 2301h0M856 2286h0M874 2277h0M887 2297h0M864 2289h0M891 2303h0M848 2300h0M830 2301h0M806 2284h0M890 2301h0M810 2306h0M813 2306h0M844 2301h0M885 2301h0M862 2246h0M885 2292h0M877 2262h0M856 2272h0M850 2279h0M816 2249h0M838 2300h0M855 2281h0M825 2304h0M853 2296h0M888 2250h0M844 2304h0M860 2299h0M881 2276h0M889 2303h0M811 2297h0M853 2274h0M862 2304h0M836 2291h0M841 2278h0M880 2294h0M878 2286h0M845 2282h0M866 2276h0M833 2285h0M859 2287h0M842 2284h0M856 2295h0M839 2275h0M891 2295h0M816 2306h0M873 2306h0M848 2294h0M888 2289h0M860 2299h0M872 2256h0M894 2300h0M821 2289h0M821 2302h0M865 2286h0M882 2299h0M868 2306h0M858 2304h0M884 2306h0M844 2295h0M841 2305h0M876 2292h0M851 2282h0M893 2305h0M836 2301h0M890 2261h0M836 2302h0M831 2304h0M841 2281h0M824 2297h0M832 2304h0M877 2296h0M886 2305h0M868 2289h0M892 2291h0M858 2289h0M863 2303h0M850 2296h0M870 2275h0M867 2273h0M867 2304h0M862 2272h0M864 2277h0M892 2304h0M872 2300h0M860 2270h0M855 2296h0M868 2299h0M885 2284h0M846 2304h0M828 2295h0M895 2303h0M863 2294h0M889 2293h0M850 2295h0M878 2290h0M890 2302h0M864 2269h0M813 2300h0M834 2303h0M845 2306h0M842 2301h0"/>
<path stroke="#1A10F5" stroke-opacity="0.36" d="M889 2293h0M881 2295h0M852 2299h0M820 2284h0M809 2299h0M850 2249h0M891 2306h0M889 2273h0M813 2304h0M873 2305h0M830 2306h0M868 2288h0M879 2305h0M881 2267h0M863 2266h0M864 2235h0M821 2275h0M858 2305h0M874 2297h0M846 2300h0M891 2288h0M865 2297h0M894 2304h0M834 2305h0M825 2279h0M893 2299h0M865 2277h0M893 2303h0M873 2289h0M865 2292h0M875 2298h0M852 2276h0M894 2290h0M833 2291h0M869 2271h0M869 2271h0M890 2304h0M885 2286h0M867 2301h0M860 2302h0M823 2297h0M871 2263h0M849 2299h0M861 2300h0M893 2298h0M885 2299h0M854 2284h0M844 2278h0M815 2295h0M817 2301h0M879 2284h0M852 2273h0M858 2299h0M830 2280h0M882 2292h0M880 2303h0M888 2291h0M890 2299h0M861 2298h0M845 2292h0M863 2292h0M853 2279h0M818 2305h0M867 2292h0M836 2294h0M893 2304h0M838 2303h0M875 2306h0M879 2299h0M827 2300h0M894 2265h0M820 2294h0M876 2303h0M857 2299h0M816 2301h0M882 2299h0M856 2241h0M841 2277h0M876 2297h0M807 2222h0M835 2290h0M825 2271h0M879 2304h0M864 2280h0M864 2304h0M846 2289h0M890 2305h0M886 2299h0M851 2282h0M848 2297h0M855 2306h0M884 2298h0M844 2284h0M863 2299h0M845 2280h0M884 2301h0M841 2281h0M833 2244h0M891 2282h0M857 2256h0M893 2303h0M809 2282h0M822 2263h0M832 2300h0M882 2275h0M891 2291h0M852 2279h0M834 2278h0M859 2304h0M885 2302h0M864 2296h0M879 2299h0M845 2301h0M831 2305h0M891 2301h0M862 2294h0M886 2299h0M887 2290h0M864 2293h0M865 2304h0M860 2281h0M810 2270h0M888 2305h0M854 2305h0M848 2302h0M847 2264h0M882 2284h0M889 2305h0M868 2305h0M861 2300h0M874 2305h0M872 2299h0M890 2283h0M880 2298h0M851 2304h0M836 2288h0M865 2304h0M881 2288h0M848 2306h0M875 2288h0M845 2295h0M880 2296h0M845 2290h0M894 2298h0M867 2299h0M887 2305h0M890 2304h0M880 2301h0M847 2304h0M831 2306h0M890 2303h0M822 2250h0M831 2305h0M884 2292h0M879 2306h0M853 2296h0M866 2282h0M864 2281h0M895 2302h0M883 2290h0M860 2280h0M873 2297h0M893 2301h0M859 2286h0M887 2263h0M820 2297h0M838 2306h0M807 2300h0M893 2300h0M867 2270h0M893 2304h0M829 2302h0M882 2295h0M833 2306h0M882 2270h0M853 2278h0M886 2288h0M851 2275h0M888 2297h0M877 2296h0M857 2268h0M837 2299h0M846 2306h0M856 2289h0M857 2302h0M892 2295h0M834 2290h0M876 2291h0M861 2278h0M843 2284h0M894 2298h0M889 2305h0M879 2245h0M890 2288h0M884 2294h0M844 2283h0M884 2262h0M890 2283h0M837 2296h0M835 2291h0M851 2259h0M894 2297h0M877 2262h0M884 2302h0M869 2293h0M859 2299h0M874 2296h0M829 2257h0M841 2296h0M848 2305h0M874 2294h0M873 2301h0M891 2298h0M863 2302h0M851 2265h0M864 2306h0M858 2303h0M837 2286h0M875 2288h0M816 2292h0M869 2255h0M886 2302h0M882 2253h0M879 2268h0M858 2297h0M892 2260h0M809 2296h0M885 2295h0M878 2295h0M851 2274h0M875 2297h0M834 2306h0M860 2303h0M879 2282h0M882 2284h0M877 2297h0M892 2304h0M846 2302h0M893 2258h0M861 2269h0M887 2302h0M877 2304h0M842 2265h0M878 2271h0M891 2302h0"/>
<path stroke="#F81C1C" stroke-opacity="0.36" d="M1084 2301h0M1018 2285h0M1020 2302h0M1034 2299h0M1069 2305h0M1069 2302h0M1063 2283h0M1007 2296h0M1051 2282h0M987 2306h0M986 2301h0M1058 2296h0M1007 2305h0M1020 2292h0M1005 2300h0M1073 2302h0M1042 2305h0M1090 2264h0M997 2290h0M1072 2278h0M1010 2292h0M987 2252h0M995 2266h0M988 2293h0M989 2301h0M1030 2303h0M994 2278h0M1044 2227h0M989 2300h0M1006 2305h0M991 2279h0M1007 2281h0M1021 2301h0M1028 2300h0M1012 2262h0M1010 2293h0M995 2296h0M993 2272h0M1012 2293h0M989 2290h0M1046 2291h0M993 2306h0M1017 2285h0M1005 2276h0M1129 2301h0M1060 2306h0M1029 2297h0M1066 2302h0M1023 2302h0M1006 2277h0M1056 2273h0M1054 2294h0M1046 2293h0M993 2306h0M1022 2302h0M991 2298h0M985 2245h0M1075 2297h0M1047 2240h0M1002 2282h0M1023 2298h0M1060 2294h0M1084 2299h0M1005 2300h0M987 2279h0M1018 2304h0M987 2282h0M1051 2282h0M994 2293h0M1001 2299h0M991 2300h0M1078 2234h0M986 2302h0M988 2306h0M1047 2296h0M991 2292h0M1004 2243h0M1010 2298h0M994 2293h0M1070 2275h0M990 2306h0M1018 2280h0M996 2300h0M1088 2249h0M1045 2297h0M989 2289h0M1040 2293h0M1023 2288h0M1012 2301h0M1003 2278h0M1000 2245h0M1000 2305h0M1022 2297h0M996 2269h0M1005 2285h0M1007 2275h0M1073 2302h0M988 2291h0M1046 2305h0M1013 2301h0M1078 2300h0M1009 2281h0M1000 2293h0M1011 2276h0M1066 2304h0M998 2298h0M1017 2295h0M1041 2298h0M991 2305h0M1008 2305h0M1005 2303h0M1035 2299h0M1003 2298h0M994 2305h0M992 2296h0M1011 2300h0M1097 2285h0M1011 2287h0M986 2295h0M1046 2292h0M1006 2278h0M1022 2268h0M996 2304h0M1033 2300h0M1078 2294h0M1007 2297h0M1006 2291h0M1133 2269h0M985 2304h0M988 2301h0M1000 2281h0M1021 2273h0M985 2306h0M1092 2280h0M994 2294h0M998 2305h0M989 2299h0M988 2298h0M992 2295h0M1001 2303h0M1010 2306h0M1001 2299h0M1006 2300h0M1055 2292h0M986 2296h0M1080 2303h0M1043 2285h0M1000 2276h0M1041 2268h0M1049 2296h0M1017 2295h0M989 2295h0M1019 2296h0M1021 2277h0M1003 2298h0M1032 2292h0M1003 2295h0M1039 2306h0M987 2306h0M1021 2284h0M1020 2306h0M1018 2306h0M1084 2303h0M986 2306h0M1036 2284h0M1004 2301h0M1054 2306h0M985 2299h0M1009 2292h0M1020 2299h0M1043 2292h0M1028 2291h0M1019 2293h0M1031 2297h0M1018 2294h0M1062 2290h0M1035 2306h0M1093 2287h0M1081 2306h0M1059 2234h0M1014 2305h0M993 2305h0M995 2296h0M1049 2300h0M985 2304h0M1023 2276h0M1044 2299h0M1003 2304h0M1003 2279h0M994 2294h0M1089 2241h0M1047 2277h0M1009 2292h0M1036 2274h0M1003 2280h0M990 2288h0M994 2306h0M989 2277h0M1061 2204h0M1004 2295h0M1002 2284h0M1026 2304h0M1033 2278h0M1064 2300h0M1019 2227h0M1031 2294h0M992 2276h0M1090 2303h0M999 2271h0M1014 2306h0M1042 2255h0M1037 2259h0M998 2304h0M1017 2299h0M1067 2302h0"/>
<path stroke="#F81C1C" stroke-opacity="0.36" d="M1015 2303h0M1013 2289h0M1021 2305h0M989 2305h0M997 2306h0M1000 2306h0M1007 2290h0M995 2305h0M987 2294h0M1001 2297h0M1047 2302h0M1022 2300h0M1013 2299h0M1020 2274h0M1038 2258h0M991 2300h0M995 2304h0M994 2299h0M1005 2298h0M1034 2284h0M987 2305h0M1015 2289h0M1138 2250h0M1027 2233h0M988 2295h0M997 2300h0M1009 2268h0M1016 2293h0M986 2291h0M1027 2282h0M1001 2294h0M995 2277h0M1108 2306h0M1005 2304h0M1015 2290h0M1004 2298h0M986 2306h0M1083 2291h0M1040 2302h0M1039 2275h0M1061 2272h0M986 2303h0M1037 2290h0M1043 2304h0M1008 2298h0M998 2283h0M1035 2290h0M986 2280h0M1023 2304h0M1056 2297h0M987 2294h0M1011 2288h0M998 2300h0M1029 2306h0M986 2305h0M1021 2248h0M999 2302h0M988 2300h0M1011 2257h0M1028 2297h0M999 2302h0M1080 2262h0M987 2300h0M989 2283h0M1002 2285h0M1032 2298h0M1034 2280h0M1002 2297h0M1038 2285h0M994 2292h0M1028 2295h0M1004 2289h0M1017 2284h0M1014 2298h0M985 2294h0M1106 2236h0M1007 2248h0M1086 2248h0M987 2304h0M996 2300h0M1023 2302h0M1125 2298h0M1023 2303h0M986 2285h0M1041 2288h0M987 2244h0M1051 2254h0M987 2303h0M987 2301h0M1029 2306h0M989 2304h0M994 2301h0M988 2289h0M990 2279h0M1025 2300h0M993 2287h0M1009 2284h0M988 2271h0M1002 2270h0M987 2269h0M1013 2303h0M1014 2298h0M1043 2292h0M1063 2304h0M1016 2297h0M1014 2241h0M1032 2293h0M1040 2306h0M989 2291h0M1004 2303h0M1046 2304h0M997 2278h0M997 2291h0M1000 2293h0M985 2300h0M1037 2305h0M1117 2225h0M1009 2278h0M1061 2303h0M985 2303h0M1011 2294h0M1002 2284h0M1039 2301h0M1020 2306h0M1011 2288h0M1024 2276h0M1046 2303h0M1011 2285h0M1009 2296h0M1041 2305h0M1083 2283h0M1007 2304h0M1007 2287h0M1027 2292h0M1003 2305h0M1011 2288h0M1007 2251h0M997 2299h0M1071 2303h0M1000 2301h0M986 2303h0M1058 2292h0M1020 2273h0M994 2285h0M1004 2279h0M1016 2287h0M1028 2233h0M1011 2282h0M1015 2263h0M1042 2253h0M989 2271h0M1026 2252h0M1000 2274h0M1005 2283h0M994 2306h0M1072 2301h0M1061 2220h0M987 2280h0M1021 2282h0M1031 2302h0M1006 2274h0M998 2289h0M1000 2290h0M1007 2299h0M1048 2270h0M1002 2286h0M995 2304h0M1076 2302h0M1039 2306h0M1057 2292h0M992 2302h0M1062 2298h0M1070 2305h0M1038 2305h0M985 2259h0M1006 2303h0M1065 2296h0M1001 2303h0M1008 2292h0M1012 2285h0M1048 2280h0M1045 2245h0M1018 2302h0M985 2290h0M1039 2290h0M986 2306h0M1028 2305h0M986 2300h0M1003 2301h0M1000 2296h0M1005 2304h0M1067 2283h0M1002 2306h0M1037 2298h0M1079 2293h0M1006 2306h0M1032 2276h0M1047 2291h0M1019 2302h0M994 2299h0M1001 2280h0M1018 2297h0M1092 2303h0M992 2276h0M1053 2297h0M1022 2306h0M1032 2275h0M1030 2305h0M1005 2297h0M989 2288h0M1031 2264h0M1018 2228h0M990 2289h0M1012 2292h0M1015 2287h0"/>
<path stroke="#F81C1C" stroke-opacity="0.36" d="M991 2300h0M1138 2251h0M1010 2302h0M1088 2279h0M986 2302h0M995 2306h0M1014 2296h0M1033 2299h0M1076 2295h0M994 2298h0M1112 2287h0M988 2283h0M1009 2266h0M1020 2302h0M1021 2285h0M998 2302h0M1033 2301h0M1045 2271h0M1029 2262h0M1012 2299h0M1015 2305h0M1080 2295h0M1044 2296h0M1009 2230h0M997 2269h0M995 2289h0M994 2301h0M1059 2297h0M993 2300h0M1028 2305h0M996 2298h0M1018 2299h0M988 2301h0M1054 2305h0M991 2282h0M1004 2281h0M1036 2264h0M1019 2279h0M1061 2300h0M1139 2297h0M998 2280h0M1031 2289h0M1010 2293h0M989 2302h0M1039 2301h0M1081 2294h0M986 2266h0M1017 2301h0M1033 2304h0M1005 2292h0M1046 2257h0M1018 2305h0M1000 2303h0M1045 2234h0M999 2299h0M1006 2304h0M1070 2304h0M995 2247h0M1047 2305h0M1006 2293h0M1041 2293h0M1076 2296h0M1036 2271h0M1038 2301h0M1007 2283h0M1013 2289h0M1050 2301h0M1017 2306h0M1073 2300h0M1044 2280h0M1043 2299h0M991 2306h0M1000 2226h0M1075 2302h0M1073 2302h0M995 2304h0M993 2289h0M997 2299h0M992 2271h0M1080 2301h0M1092 2286h0M1012 2300h0M994 2278h0M1028 2292h0M988 2279h0M1008 2299h0M992 2279h0M1077 2276h0M1052 2302h0M990 2299h0M996 2298h0M1007 2292h0M1037 2300h0M1044 2299h0M1013 2293h0M1052 2299h0M1087 2271h0M1032 2290h0M1044 2277h0M997 2281h0M1108 2285h0M1005 2268h0M990 2287h0M996 2280h0M1002 2304h0M1001 2301h0M1068 2207h0M1066 2265h0M999 2295h0M1043 2296h0M1060 2293h0M993 2298h0M986 2285h0M1006 2306h0M1039 2283h0M995 2305h0M1015 2297h0M1028 2277h0M1029 2303h0M1010 2266h0M1040 2299h0M1031 2304h0M1016 2291h0M1004 2278h0M1003 2238h0M1006 2280h0M1021 2300h0M986 2306h0M1022 2284h0M1030 2297h0M986 2306h0M1020 2305h0M1054 2288h0M994 2291h0M1010 2288h0M1038 2254h0M992 2294h0M991 2288h0M1032 2277h0M1071 2290h0M987 2305h0M1004 2294h0M1076 2276h0M985 2279h0M1022 2288h0M1029 2297h0M1023 2305h0M1046 2260h0M998 2292h0M989 2302h0M1009 2300h0M1014 2304h0M985 2275h0M1032 2288h0M1011 2294h0M1142 2278h0M1008 2300h0M990 2280h0M1023 2299h0M1010 2305h0M1013 2303h0M1040 2276h0M1012 2305h0M1039 2300h0M1006 2266h0M1010 2276h0M1025 2284h0M1060 2301h0M1003 2296h0M989 2301h0M991 2278h0M998 2286h0M996 2300h0M1031 2295h0M1025 2279h0M1048 2296h0M994 2281h0M1008 2261h0M985 2294h0M996 2303h0M1010 2276h0M1027 2283h0M1015 2299h0M988 2274h0M990 2304h0M996 2303h0M996 2300h0M1041 2305h0M1006 2288h0M1027 2285h0M1074 2283h0M1006 2268h0M1006 2290h0M1029 2300h0M1099 2297h0M1022 2304h0M1051 2305h0M1023 2253h0M1025 2297h0M994 2301h0M1107 2277h0M1011 2302h0M1033 2295h0M989 2305h0M998 2239h0M998 2288h0M1014 2283h0M1028 2299h0M1022 2302h0M1013 2300h0M1004 2293h0M1060 2249h0M1043 2295h0M1011 2298h0M989 2284h0"/>
<path stroke="#F81C1C" stroke-opacity="0.36" d="M1008 2282h0M1038 2297h0M1017 2291h0M991 2294h0M1045 2297h0M1045 2303h0M991 2303h0M1035 2298h0M1014 2270h0M985 2295h0M989 2300h0M1026 2229h0M1029 2260h0M1022 2294h0M1056 2250h0M1019 2288h0M988 2306h0M1021 2302h0M996 2282h0M991 2288h0M1000 2295h0M989 2300h0M993 2298h0M1003 2301h0M1009 2291h0M1056 2284h0M994 2268h0M1026 2294h0M999 2268h0M994 2244h0M1035 2306h0M1014 2303h0M996 2298h0M1004 2291h0M1027 2300h0M1015 2289h0M1040 2292h0M1006 2276h0M996 2298h0M1073 2269h0M995 2306h0M1035 2306h0M994 2296h0M1033 2295h0M1005 2288h0M1025 2299h0M994 2247h0M1028 2295h0M988 2296h0M1005 2289h0M999 2290h0M1011 2283h0M991 2257h0M1146 2271h0M1000 2306h0M1001 2301h0M1027 2285h0M1048 2258h0M990 2296h0M1026 2289h0M990 2288h0M992 2305h0M1057 2306h0M991 2304h0M1055 2289h0M1014 2244h0M987 2290h0M1015 2292h0M1005 2303h0M1002 2290h0M1063 2273h0M1011 2293h0M989 2306h0M1008 2277h0M991 2273h0M989 2299h0M993 2283h0M1081 2298h0M995 2282h0M997 2282h0M1079 2289h0M1079 2296h0M1108 2250h0M989 2305h0M995 2305h0M993 2298h0M1034 2296h0M986 2293h0M997 2267h0M987 2305h0M986 2285h0M988 2278h0M1053 2276h0M1002 2275h0M995 2306h0M1111 2277h0M985 2277h0M1036 2306h0M992 2294h0M1007 2303h0M998 2259h0M994 2281h0M1043 2255h0M1007 2301h0M989 2294h0M1040 2293h0M994 2258h0M999 2264h0M992 2288h0M1078 2305h0M1034 2305h0M1028 2292h0M1013 2276h0M1022 2292h0M1061 2235h0M1002 2290h0M1008 2304h0M1039 2290h0M1082 2304h0M989 2290h0M1010 2303h0M999 2291h0M1003 2301h0M994 2304h0M1013 2301h0M1004 2300h0M1038 2304h0M987 2306h0M987 2296h0M1011 2284h0M1036 2303h0M1030 2264h0M1027 2288h0M987 2303h0M997 2300h0M989 2299h0M1005 2296h0M985 2286h0M1005 2302h0M999 2305h0M1045 2302h0M990 2295h0M1065 2294h0M1023 2290h0M1017 2294h0M1049 2288h0M1000 2286h0M1133 2248h0M1021 2302h0M1147 2303h0M987 2299h0M1010 2296h0M988 2278h0M998 2301h0M1003 2289h0M991 2295h0M998 2280h0M1008 2269h0M1024 2292h0M1028 2290h0M1016 2303h0M998 2290h0M1001 2304h0M1025 2298h0M1118 2306h0M1003 2300h0M1019 2257h0M1032 2294h0M993 2296h0M1004 2285h0M999 2294h0M994 2302h0M1059 2303h0M1034 2281h0M1015 2306h0M990 2291h0M1025 2233h0M991 2305h0M1004 2306h0M1076 2282h0M990 2289h0M1033 2305h0M993 2290h0M1002 2283h0M1099 2206h0M1010 2296h0M1029 2293h0M995 2281h0M986 2306h0M987 2272h0M1010 2303h0M1008 2249h0M1017 2285h0M1006 2271h0M994 2286h0M1080 2306h0M1060 2302h0M1083 2302h0M1012 2278h0M1010 2300h0M987 2295h0M1028 2293h0M1100 2284h0M1003 2305h0M1069 2304h0M1031 2305h0M996 2306h0M1052 2304h0M1011 2301h0M990 2304h0M1030 2298h0M986 2304h0M1079 2291h0M1009 2305h0M1021 2269h0"/>
<path stroke="#F81C1C" stroke-opacity="0.36" d="M1014 2267h0M1005 2292h0M1100 2269h0M988 2286h0M990 2296h0M1068 2293h0M989 2279h0M1088 2283h0M1059 2294h0M993 2305h0M989 2287h0M1047 2241h0M1091 2291h0M993 2262h0M996 2293h0M988 2290h0M1008 2289h0M1012 2292h0M998 2294h0M1048 2289h0M1007 2278h0M1054 2304h0M1042 2293h0M1065 2216h0M1152 2256h0M988 2273h0M1022 2300h0M1043 2252h0M1061 2294h0M999 2281h0M1023 2291h0M995 2283h0M993 2306h0M992 2304h0M1069 2274h0M1010 2244h0M1009 2291h0M1037 2280h0M985 2281h0M989 2292h0M1000 2253h0M1090 2300h0M992 2286h0M992 2277h0M1004 2244h0M991 2306h0M1097 2237h0M1046 2280h0M993 2295h0M986 2294h0M992 2266h0M1007 2296h0M1136 2304h0M1051 2305h0M1036 2301h0M1050 2296h0M988 2302h0M1006 2301h0M1074 2295h0M1097 2256h0M1021 2282h0M1020 2304h0M1037 2300h0M986 2297h0M996 2267h0M1040 2278h0M1005 2293h0M1013 2238h0M1083 2279h0M1021 2300h0M1055 2303h0M993 2270h0M993 2282h0M1003 2296h0M1062 2285h0M1001 2304h0M1011 2298h0M1031 2301h0M992 2267h0M988 2303h0M1038 2295h0M1063 2294h0M1009 2300h0M1090 2277h0M1027 2302h0M1012 2306h0M1067 2300h0M986 2296h0M1034 2282h0M1043 2285h0M1058 2289h0M986 2306h0M1025 2285h0M1048 2298h0M989 2303h0M990 2294h0M991 2276h0M1022 2287h0M1014 2289h0M1060 2263h0M986 2279h0M1008 2306h0M1002 2301h0M1104 2274h0M997 2290h0M1022 2272h0M1086 2305h0M1069 2285h0M1089 2291h0M991 2303h0M987 2303h0M994 2288h0M1009 2271h0M999 2292h0M1055 2303h0M1000 2295h0M1001 2291h0M1015 2303h0M1011 2227h0M1014 2273h0M1046 2271h0M1006 2280h0M1012 2291h0M1027 2287h0M1026 2260h0M1018 2230h0M1000 2263h0M987 2300h0M998 2301h0M987 2295h0M1055 2278h0M1008 2289h0M1045 2306h0M1007 2305h0M999 2302h0M1007 2304h0M1052 2288h0M991 2305h0M1024 2301h0M999 2283h0M1007 2306h0M988 2296h0M1003 2299h0M989 2304h0M998 2285h0M1050 2280h0M1015 2303h0M1008 2300h0M1041 2306h0M993 2303h0M1005 2303h0M1000 2306h0M997 2296h0M998 2268h0M1019 2300h0M1020 2280h0M1019 2293h0M987 2290h0M1053 2287h0M1013 2283h0M1007 2301h0M1059 2280h0M987 2303h0M986 2302h0M1003 2283h0M989 2265h0M1006 2304h0M999 2284h0M1038 2304h0M1024 2296h0M1044 2305h0M1034 2305h0M1003 2304h0M997 2292h0M987 2301h0M995 2301h0M1063 2272h0M987 2281h0M1119 2249h0M986 2292h0M1044 2256h0M1014 2297h0M1038 2277h0M990 2295h0M1023 2306h0M990 2282h0M987 2289h0M1008 2302h0M1010 2300h0M1030 2295h0M987 2269h0M997 2288h0M990 2304h0M1001 2304h0M992 2284h0M997 2282h0M1085 2292h0M990 2302h0M996 2303h0M990 2299h0M1015 2297h0M1059 2274h0M1031 2301h0M988 2266h0M1000 2274h0M1012 2274h0M1015 2283h0M996 2276h0M1031 2263h0M1033 2304h0M1000 2288h0M1078 2303h0M1011 2306h0M988 2287h0M1030 2297h0"/>
<path stroke="#F81C1C" stroke-opacity="0.36" d="M986 2289h0M1058 2294h0M1068 2303h0M1085 2253h0M1056 2284h0M1092 2298h0M1030 2244h0M1030 2298h0M1025 2297h0M999 2306h0M1052 2301h0M1100 2294h0M1004 2288h0M1004 2253h0M1081 2298h0M992 2254h0M986 2297h0M999 2233h0M1027 2281h0M987 2297h0M988 2286h0M1037 2302h0M1002 2289h0M1020 2293h0M1027 2280h0M1003 2290h0M993 2293h0M1011 2305h0M1108 2298h0M1021 2260h0M995 2253h0M1035 2278h0M985 2300h0M1002 2251h0M986 2293h0M999 2304h0M1006 2299h0M1023 2301h0M1001 2291h0M1037 2300h0M1009 2279h0M995 2245h0M1076 2306h0M1036 2288h0M1001 2276h0M1008 2295h0M1008 2302h0M1008 2306h0M1024 2280h0M1114 2245h0M987 2296h0M1025 2277h0M997 2305h0M1014 2303h0M988 2264h0M1056 2299h0M1052 2301h0M995 2279h0M1004 2301h0M988 2276h0M1022 2294h0M1038 2302h0M991 2304h0M1016 2297h0M1023 2305h0M1016 2263h0M991 2257h0M1005 2290h0M1116 2300h0M1011 2282h0M1076 2222h0M1032 2304h0M1155 2293h0M1024 2267h0M1055 2256h0M1028 2289h0M1103 2306h0M1000 2275h0M1028 2225h0M1005 2280h0M997 2304h0M1054 2298h0M1020 2232h0M995 2301h0M1112 2232h0M1014 2305h0M1073 2257h0M1035 2301h0M1004 2297h0M989 2303h0M1018 2300h0M1016 2299h0M1057 2303h0M986 2306h0M1018 2296h0M1010 2288h0M1076 2285h0M1080 2293h0M1019 2306h0M1014 2296h0M1022 2286h0M1032 2294h0M989 2283h0M1153 2214h0M1028 2305h0M1004 2282h0M1037 2306h0M1006 2304h0M987 2244h0M1040 2275h0M1032 2291h0M988 2297h0M990 2302h0M1010 2294h0M1005 2305h0M1043 2218h0M985 2288h0M1038 2299h0M988 2298h0M994 2289h0M1073 2301h0M1069 2276h0M1074 2259h0M989 2304h0M1015 2305h0M1111 2268h0M989 2298h0M990 2279h0M988 2302h0M992 2294h0M1004 2274h0M995 2300h0M1038 2305h0M997 2296h0M1027 2298h0M1011 2290h0M1045 2287h0M988 2281h0M1138 2306h0M999 2289h0M1016 2299h0M991 2306h0M1042 2221h0M986 2257h0M1029 2294h0M1021 2267h0M994 2304h0M1016 2266h0M1008 2235h0M1104 2280h0M992 2280h0M996 2236h0M985 2281h0M990 2285h0M989 2295h0M1025 2302h0M1010 2301h0M1005 2289h0M1021 2306h0M1008 2300h0M999 2292h0M1071 2281h0M1029 2301h0M988 2242h0M1035 2295h0M1000 2304h0M987 2265h0M1029 2279h0M1037 2275h0M991 2306h0M1098 2287h0M997 2287h0M1067 2306h0M1027 2281h0M1034 2241h0M989 2264h0M1051 2305h0M1032 2263h0M1034 2304h0M1026 2304h0M1081 2280h0M1027 2265h0M1117 2304h0M1032 2305h0M1025 2297h0M1066 2303h0M1005 2258h0M987 2291h0M1021 2305h0M986 2253h0M992 2303h0M990 2302h0M1038 2289h0M988 2291h0M1013 2282h0M1007 2281h0M996 2297h0M985 2271h0M1016 2247h0M995 2303h0M1020 2289h0M988 2294h0M1043 2298h0M1002 2301h0M1033 2288h0M1046 2225h0M1010 2304h0M990 2302h0M1052 2271h0M1086 2299h0M1018 2304h0M1007 2295h0M1018 2297h0M1008 2281h0M993 2281h0"/>
<path stroke="#F81C1C" stroke-opacity="0.36" d="M1020 2252h0M1022 2303h0M1058 2286h0M990 2286h0M990 2290h0M997 2293h0M1062 2299h0M1040 2302h0M1012 2291h0M1002 2292h0M991 2294h0M1009 2282h0M1025 2289h0M985 2286h0M1030 2301h0M1008 2301h0M1064 2299h0M1020 2291h0M990 2285h0M1011 2301h0M1044 2249h0M998 2289h0M1052 2306h0M1022 2265h0M988 2296h0M997 2299h0M995 2272h0M991 2300h0M987 2299h0M996 2294h0M1005 2297h0M991 2299h0M1019 2262h0M985 2296h0M985 2282h0M1051 2292h0M1008 2276h0M1022 2258h0M1087 2301h0M1060 2305h0M1005 2306h0M990 2299h0M1006 2301h0M1116 2266h0M1002 2299h0M1011 2289h0M1003 2305h0M1064 2291h0M1047 2251h0M1044 2257h0M1074 2284h0M1027 2296h0M1006 2298h0M1024 2288h0M988 2295h0M1043 2252h0M991 2302h0M1003 2287h0M998 2302h0M998 2300h0M989 2299h0M1074 2276h0M1055 2304h0M990 2288h0M1070 2295h0M1049 2265h0M1056 2277h0M1041 2295h0M994 2297h0M1033 2296h0M1013 2285h0M995 2305h0M1036 2306h0M1048 2300h0M988 2304h0M1009 2298h0M999 2300h0M998 2304h0M1034 2302h0M990 2295h0M994 2306h0M1031 2300h0M1037 2298h0M993 2291h0M996 2294h0M1054 2257h0M1017 2306h0M999 2297h0M1017 2303h0M1035 2257h0M1021 2274h0M988 2293h0M1008 2299h0M1048 2306h0M996 2305h0M999 2293h0M1056 2296h0M1154 2298h0M1017 2305h0M1020 2302h0M1019 2268h0M998 2290h0M1012 2296h0M988 2299h0M1004 2296h0M1011 2299h0M996 2278h0M1044 2294h0M1029 2303h0M1007 2293h0M1013 2292h0M1012 2304h0M1029 2282h0M999 2297h0M1036 2298h0M988 2306h0M1040 2294h0M1001 2304h0M998 2279h0M1013 2292h0M987 2293h0M1035 2287h0M1041 2259h0M1070 2272h0M1019 2304h0M997 2304h0M993 2301h0M1023 2270h0M991 2257h0M996 2304h0M1029 2299h0M992 2230h0M1047 2266h0M1001 2302h0M1030 2305h0M1029 2297h0M1072 2293h0M1096 2230h0M995 2301h0M997 2301h0M988 2287h0M1090 2302h0M997 2278h0M997 2295h0M1049 2305h0M1028 2291h0M1007 2281h0M1006 2294h0M990 2303h0M1004 2291h0M1012 2282h0M1023 2292h0M987 2302h0M992 2279h0M1055 2221h0M992 2304h0M1029 2281h0M1055 2298h0M1117 2289h0M1000 2292h0M1041 2261h0M988 2306h0M1022 2276h0M1015 2278h0M1009 2264h0M1026 2297h0M991 2297h0M1002 2285h0M1012 2303h0M1001 2305h0M1004 2247h0M1014 2302h0M1023 2279h0M1011 2289h0M999 2290h0M1005 2282h0M1007 2287h0M1000 2291h0M1027 2287h0M1023 2291h0M990 2278h0M1047 2303h0M1051 2301h0M1028 2294h0M999 2302h0M999 2285h0M1041 2258h0M992 2295h0M996 2294h0M1013 2277h0M1010 2304h0M1031 2290h0M1040 2285h0M1046 2272h0M986 2302h0M1036 2301h0M999 2305h0M1015 2257h0M997 2293h0M1010 2279h0M1035 2302h0M993 2305h0M1075 2247h0M1027 2288h0M1063 2297h0M991 2299h0M1041 2302h0M996 2289h0M1076 2300h0M1026 2287h0M995 2291h0M1041 2300h0M1008 2282h0M1036 2292h0M1061 2305h0"/>
<path stroke="#F81C1C" stroke-opacity="0.36" d="M1029 2237h0M1013 2268h0M991 2301h0M1036 2306h0M1009 2291h0M1067 2268h0M996 2269h0M991 2266h0M986 2278h0M993 2272h0M1055 2272h0M991 2304h0M1043 2284h0M1036 2292h0M999 2269h0M1057 2305h0M1038 2306h0M987 2295h0M986 2288h0M987 2282h0M1018 2261h0M1083 2282h0M1042 2261h0M1000 2305h0M992 2301h0M994 2305h0M1031 2298h0M993 2275h0M1087 2296h0M1009 2302h0M1130 2244h0M1114 2273h0M1022 2269h0M999 2298h0M1009 2294h0M986 2267h0M1001 2300h0M1012 2292h0M1039 2263h0M986 2298h0M990 2260h0M1086 2299h0M1001 2291h0M1056 2284h0M1001 2228h0M988 2303h0M1005 2303h0M1057 2252h0M1000 2302h0M997 2295h0M1017 2293h0M1009 2229h0M997 2295h0M986 2296h0M989 2299h0M1009 2278h0M1006 2304h0M991 2287h0M999 2300h0M1086 2267h0M1007 2297h0M1146 2250h0M986 2304h0M996 2295h0M1068 2290h0M987 2290h0M987 2302h0M995 2300h0M1086 2306h0M1041 2280h0M1010 2300h0M993 2302h0M1044 2277h0M998 2304h0M995 2285h0M990 2273h0M1001 2276h0M1015 2304h0M994 2300h0M1047 2222h0M991 2301h0M997 2306h0M1015 2299h0M1038 2227h0M996 2291h0M1059 2271h0M1031 2234h0M1019 2302h0M1000 2292h0M1053 2293h0M1037 2276h0M1003 2238h0M986 2289h0M1075 2299h0M1001 2277h0M1048 2295h0M996 2300h0M995 2279h0M1026 2294h0M1002 2292h0M1036 2277h0M1000 2304h0M1010 2300h0M1019 2292h0M1077 2281h0M1059 2278h0M994 2282h0M1039 2302h0M1021 2274h0M1034 2295h0M1075 2295h0M1027 2260h0M992 2277h0M1054 2305h0M1004 2273h0M989 2271h0M1023 2303h0M1068 2299h0M1035 2283h0M1073 2294h0M1017 2302h0M993 2287h0M1015 2297h0M1021 2302h0M1102 2292h0M1038 2300h0M1011 2293h0M1036 2284h0M1012 2265h0M989 2295h0M996 2305h0M985 2296h0M1076 2306h0M1032 2290h0M988 2289h0M987 2303h0M995 2280h0M1035 2225h0M1012 2306h0M986 2293h0M989 2282h0M1026 2294h0M1003 2301h0M1072 2299h0M988 2255h0M1067 2305h0M1078 2298h0M1011 2305h0M1042 2214h0M987 2305h0M1002 2280h0M991 2295h0M999 2299h0M1099 2288h0M1032 2302h0M1058 2305h0M1003 2288h0M995 2271h0M1052 2285h0M1084 2248h0M1008 2293h0M1002 2296h0M1012 2264h0M998 2277h0M994 2306h0M1008 2297h0M1014 2306h0M1084 2276h0M1005 2290h0M986 2294h0M986 2284h0M1024 2272h0M1106 2289h0M1136 2208h0M1017 2306h0M988 2303h0M994 2254h0M1040 2274h0M1048 2305h0M998 2302h0M989 2305h0M989 2304h0M1154 2261h0M997 2305h0M1075 2278h0M1076 2262h0M1010 2295h0M998 2285h0M989 2303h0M1029 2285h0M1069 2256h0M1041 2305h0M1038 2249h0M1013 2298h0M1020 2300h0M1019 2292h0M1016 2302h0M994 2278h0M1001 2306h0M989 2297h0M987 2286h0M1064 2280h0M993 2288h0M1036 2289h0M986 2297h0M1045 2306h0M1076 2305h0M990 2262h0M1024 2306h0M1037 2305h0M1129 2289h0M999 2305h0M987 2282h0M1053 2304h0M1019 2287h0"/>
<path stroke="#F81C1C" stroke-opacity="0.4" d="M1094.6 2169.2h0M1122.3 2242.5h0M1092.7 2276.6h0"/>
</g>
<path d="M896.2 2140V2319.9M983.4 2140V2319.9M792.1 2308.5H1173.6" stroke="#6A6A6A" stroke-width="1.2" stroke-dasharray="11.5 6.5" fill="none"/>
<rect x="792.1" y="2140" width="381.5" height="179.9" fill="none" stroke="#2E2E2E" stroke-width="1.9"/>
<line x1="809" y1="2319.9" x2="809" y2="2323.4" stroke="#333" stroke-width="1.3"/>
<text x="812" y="2341.5" font-size="20.5" text-anchor="middle">&#8722;3</text>
<line x1="896.2" y1="2319.9" x2="896.2" y2="2323.4" stroke="#333" stroke-width="1.3"/>
<text x="899.2" y="2341.5" font-size="20.5" text-anchor="middle">&#8722;1</text>
<line x1="983.4" y1="2319.9" x2="983.4" y2="2323.4" stroke="#333" stroke-width="1.3"/>
<text x="983.4" y="2341.5" font-size="20.5" text-anchor="middle">1</text>
<line x1="1070.6" y1="2319.9" x2="1070.6" y2="2323.4" stroke="#333" stroke-width="1.3"/>
<text x="1070.6" y="2341.5" font-size="20.5" text-anchor="middle">3</text>
<line x1="1157.8" y1="2319.9" x2="1157.8" y2="2323.4" stroke="#333" stroke-width="1.3"/>
<text x="1157.8" y="2341.5" font-size="20.5" text-anchor="middle">5</text>
<line x1="788.6" y1="2173.5" x2="792.1" y2="2173.5" stroke="#333" stroke-width="1.3"/>
<text x="785.5" y="2180.8" font-size="20.5" text-anchor="end">11</text>
<line x1="788.6" y1="2241" x2="792.1" y2="2241" stroke="#333" stroke-width="1.3"/>
<text x="785.5" y="2248.3" font-size="20.5" text-anchor="end">6</text>
<line x1="788.6" y1="2309.7" x2="792.1" y2="2309.7" stroke="#333" stroke-width="1.3"/>
<text x="785.5" y="2317" font-size="20.5" text-anchor="end">1</text>
<text x="755.5" y="2231.8" font-size="20.7" text-anchor="middle" transform="rotate(-90 755.5 2231.8)">&#8722;Log10 (p)</text>
<text x="985.8" y="2360.9" font-size="20.7" text-anchor="middle">Log2 (FoldChange)</text>
<line x1="1077.6" y1="2163.5" x2="1094.6" y2="2169.2" stroke="#333" stroke-width="1.1"/>
<text x="1016.8" y="2161.6" font-size="20.7" font-style="italic">CYP3A4</text>
<line x1="1103.4" y1="2231.8" x2="1122.3" y2="2242.5" stroke="#333" stroke-width="1.1"/>
<text x="1072.6" y="2229.2" font-size="20.7" font-style="italic">CYP1A1</text>
<line x1="1104.9" y1="2266" x2="1092.7" y2="2276.6" stroke="#333" stroke-width="1.1"/>
<text x="1106" y="2264.1" font-size="20.7" font-style="italic">CYP1A2</text>
<text x="1606.3" y="2124.8" font-size="22.4" text-anchor="middle">SP-PF <tspan font-style="italic">vs</tspan> others</text>
<rect x="1401.5" y="2139.6" width="383.4" height="179.5" fill="#fff"/>
<path d="M1418.6 2139.6V2319.1M1468.5 2139.6V2319.1M1518.4 2139.6V2319.1M1568.3 2139.6V2319.1M1618.2 2139.6V2319.1M1668.1 2139.6V2319.1M1718 2139.6V2319.1M1767.9 2139.6V2319.1M1401.5 2304.7H1784.9M1401.5 2253.2H1784.9M1401.5 2201.7H1784.9M1401.5 2150.2H1784.9" stroke="#EDEDED" stroke-width="1" fill="none"/>
<clipPath id="cf3"><rect x="1401.5" y="2139.6" width="383.4" height="179.5"/></clipPath>
<g clip-path="url(#cf3)" fill="none" stroke-linecap="round" stroke-width="6.4">
<path stroke="#1A10F5" stroke-opacity="0.36" d="M1515 2299h0M1513 2284h0M1513 2298h0M1499 2218h0M1511 2293h0M1471 2270h0M1504 2234h0M1509 2281h0M1483 2285h0M1508 2287h0M1442 2247h0M1513 2252h0M1482 2271h0M1500 2277h0M1495 2230h0M1517 2303h0M1459 2299h0M1514 2286h0M1515 2284h0M1507 2223h0M1511 2298h0M1510 2280h0M1513 2302h0M1471 2244h0M1509 2299h0M1516 2301h0M1476 2237h0M1502 2299h0M1504 2269h0M1517 2302h0M1426 2283h0M1515 2300h0M1511 2280h0M1489 2229h0M1470 2294h0M1513 2280h0M1512 2296h0M1482 2275h0M1448 2187h0M1457 2202h0M1505 2296h0M1493 2234h0M1445 2281h0M1513 2302h0M1485 2297h0M1432 2188h0M1502 2295h0M1437 2286h0M1459 2247h0M1500 2290h0M1497 2288h0M1514 2284h0M1502 2287h0M1507 2265h0M1507 2293h0M1513 2296h0M1516 2279h0M1515 2295h0M1480 2271h0M1486 2291h0M1510 2283h0M1456 2264h0M1510 2274h0M1453 2271h0M1514 2293h0M1514 2302h0M1502 2246h0M1501 2296h0M1506 2293h0M1428 2291h0M1471 2298h0M1515 2295h0M1511 2293h0M1502 2288h0M1482 2224h0M1493 2268h0M1513 2275h0M1478 2254h0M1504 2292h0M1517 2298h0M1474 2199h0M1437 2256h0M1455 2244h0M1515 2301h0M1499 2274h0M1502 2287h0M1499 2302h0M1502 2302h0M1503 2291h0M1517 2217h0M1517 2296h0M1515 2289h0M1510 2287h0M1493 2297h0"/>
<path stroke="#1A10F5" stroke-opacity="0.36" d="M1501 2281h0M1490 2295h0M1496 2257h0M1513 2236h0M1511 2256h0M1493 2273h0M1508 2261h0M1467 2292h0M1510 2298h0M1503 2301h0M1512 2286h0M1512 2274h0M1503 2223h0M1510 2282h0M1478 2253h0M1505 2296h0M1514 2290h0M1512 2286h0M1517 2291h0M1467 2191h0M1509 2299h0M1494 2301h0M1465 2300h0M1459 2275h0M1447 2292h0M1504 2296h0M1451 2263h0M1463 2247h0M1509 2293h0M1508 2302h0M1475 2294h0M1458 2299h0M1499 2266h0M1486 2294h0M1503 2292h0M1499 2297h0M1509 2222h0M1507 2301h0M1511 2294h0M1497 2298h0M1509 2299h0M1510 2287h0M1511 2295h0M1513 2289h0M1500 2297h0M1499 2227h0M1497 2295h0M1441 2232h0M1438 2222h0M1512 2300h0M1508 2297h0M1461 2296h0M1488 2288h0M1464 2277h0M1515 2290h0M1508 2302h0M1502 2232h0M1496 2296h0M1475 2301h0M1499 2248h0M1472 2245h0M1506 2302h0M1509 2259h0M1490 2224h0M1514 2297h0M1515 2285h0M1499 2273h0M1505 2221h0M1456 2280h0M1508 2238h0M1516 2302h0M1510 2272h0M1514 2288h0M1499 2302h0M1473 2264h0M1508 2283h0M1499 2289h0M1483 2217h0M1496 2252h0M1507 2296h0M1510 2273h0M1467 2300h0M1495 2299h0M1514 2294h0M1516 2297h0M1506 2278h0M1443 2261h0M1495 2296h0M1441 2302h0M1502 2292h0M1514 2301h0M1495 2272h0M1486 2234h0M1497 2227h0"/>
<path stroke="#1A10F5" stroke-opacity="0.36" d="M1485 2203h0M1515 2204h0M1515 2272h0M1473 2300h0M1436 2284h0M1491 2218h0M1509 2273h0M1513 2301h0M1507 2256h0M1516 2298h0M1496 2294h0M1509 2277h0M1506 2290h0M1513 2299h0M1426 2267h0M1510 2277h0M1515 2273h0M1496 2262h0M1433 2201h0M1505 2256h0M1510 2283h0M1513 2284h0M1497 2278h0M1503 2280h0M1502 2248h0M1512 2265h0M1515 2274h0M1511 2296h0M1476 2244h0M1494 2297h0M1499 2269h0M1505 2289h0M1491 2293h0M1505 2302h0M1515 2280h0M1511 2300h0M1508 2264h0M1501 2272h0M1504 2294h0M1504 2290h0M1516 2281h0M1486 2230h0M1517 2293h0M1486 2298h0M1508 2287h0M1491 2278h0M1506 2302h0M1485 2230h0M1516 2300h0M1511 2278h0M1431 2276h0M1507 2287h0M1516 2276h0M1517 2240h0M1487 2207h0M1512 2302h0M1514 2298h0M1444 2258h0M1515 2223h0M1507 2302h0M1476 2286h0M1507 2266h0M1433 2215h0M1514 2285h0M1486 2293h0M1505 2277h0M1513 2227h0M1509 2283h0M1461 2290h0M1511 2292h0M1510 2215h0M1493 2277h0M1515 2230h0M1511 2271h0M1494 2270h0M1513 2260h0M1514 2290h0M1507 2242h0M1445 2274h0M1514 2292h0M1507 2284h0M1510 2303h0M1499 2247h0M1513 2296h0M1507 2301h0M1517 2270h0M1494 2299h0M1499 2271h0M1509 2262h0M1511 2280h0M1485 2298h0M1433 2200h0M1514 2269h0M1513 2284h0"/>
<path stroke="#1A10F5" stroke-opacity="0.36" d="M1514 2229h0M1479 2250h0M1512 2295h0M1506 2215h0M1517 2301h0M1505 2292h0M1516 2279h0M1470 2276h0M1489 2286h0M1441 2238h0M1514 2299h0M1461 2251h0M1490 2297h0M1456 2295h0M1500 2300h0M1508 2251h0M1461 2245h0M1472 2297h0M1516 2283h0M1486 2279h0M1514 2301h0M1511 2302h0M1493 2279h0M1513 2299h0M1506 2262h0M1499 2292h0M1500 2287h0M1502 2300h0M1498 2298h0M1468 2265h0M1440 2225h0M1502 2252h0M1497 2207h0M1516 2278h0M1514 2223h0M1514 2277h0M1515 2277h0M1493 2268h0M1516 2296h0M1473 2245h0M1512 2302h0M1501 2186h0M1491 2239h0M1506 2270h0M1508 2287h0M1507 2270h0M1516 2292h0M1515 2303h0M1489 2234h0M1456 2297h0M1503 2249h0M1513 2285h0M1510 2301h0M1512 2284h0M1493 2254h0M1516 2285h0M1463 2189h0M1497 2254h0M1502 2299h0M1514 2296h0M1494 2275h0M1506 2292h0M1512 2265h0M1511 2295h0M1510 2295h0M1507 2211h0M1504 2302h0M1447 2295h0M1517 2289h0M1453 2185h0M1516 2297h0M1513 2266h0M1452 2300h0M1497 2288h0M1513 2298h0M1493 2298h0M1508 2286h0M1515 2301h0M1507 2291h0M1508 2299h0M1467 2237h0M1513 2298h0M1506 2300h0M1516 2295h0M1426 2214h0M1505 2256h0M1515 2303h0M1447 2284h0M1515 2301h0M1514 2302h0M1508 2291h0M1507 2299h0M1513 2301h0M1501 2299h0"/>
<path stroke="#1A10F5" stroke-opacity="0.36" d="M1509 2298h0M1495 2255h0M1507 2300h0M1431 2246h0M1440 2250h0M1505 2266h0M1504 2301h0M1512 2294h0M1505 2297h0M1505 2295h0M1505 2224h0M1509 2273h0M1511 2270h0M1507 2249h0M1500 2302h0M1508 2299h0M1514 2295h0M1514 2251h0M1510 2292h0M1513 2291h0M1512 2298h0M1516 2251h0M1474 2169h0M1497 2298h0M1494 2302h0M1516 2282h0M1495 2281h0M1501 2301h0M1507 2295h0M1516 2302h0M1498 2282h0M1493 2272h0M1501 2303h0M1514 2282h0M1515 2296h0M1503 2298h0M1439 2165h0M1501 2296h0M1493 2295h0M1501 2293h0M1503 2280h0M1507 2300h0M1516 2273h0M1499 2297h0M1509 2297h0M1507 2289h0M1490 2290h0M1495 2297h0M1486 2268h0M1505 2302h0M1460 2283h0M1498 2276h0M1512 2272h0M1496 2282h0M1512 2292h0M1502 2270h0M1424 2290h0M1452 2271h0M1506 2241h0M1508 2292h0M1511 2299h0M1502 2293h0M1472 2254h0M1508 2234h0M1512 2297h0M1514 2273h0M1499 2281h0M1509 2230h0M1488 2199h0M1510 2271h0M1517 2287h0M1515 2293h0M1457 2283h0M1513 2301h0M1447 2255h0M1505 2297h0M1516 2295h0M1512 2283h0M1490 2218h0M1508 2293h0M1491 2288h0M1498 2267h0M1513 2297h0M1514 2243h0M1505 2289h0M1503 2298h0M1498 2253h0M1478 2261h0M1515 2278h0M1498 2278h0M1510 2297h0M1515 2268h0M1509 2297h0M1482 2296h0"/>
<path stroke="#1A10F5" stroke-opacity="0.36" d="M1509 2281h0M1516 2300h0M1503 2292h0M1511 2269h0M1511 2284h0M1513 2267h0M1465 2169h0M1516 2286h0M1488 2289h0M1510 2275h0M1467 2256h0M1500 2301h0M1491 2281h0M1486 2287h0M1499 2271h0M1503 2272h0M1489 2264h0M1515 2242h0M1512 2277h0M1514 2301h0M1508 2300h0M1510 2292h0M1455 2196h0M1515 2260h0M1435 2300h0M1503 2299h0M1505 2285h0M1480 2248h0M1503 2281h0M1516 2300h0M1512 2252h0M1505 2285h0M1507 2292h0M1496 2292h0M1504 2281h0M1504 2259h0M1452 2286h0M1484 2260h0M1515 2300h0M1481 2263h0M1514 2291h0M1514 2298h0M1500 2292h0M1514 2302h0M1480 2297h0M1501 2253h0M1512 2284h0M1503 2279h0M1517 2269h0M1514 2287h0M1516 2291h0M1508 2280h0M1488 2299h0M1493 2287h0M1472 2223h0M1512 2263h0M1515 2299h0M1456 2278h0M1504 2221h0M1508 2303h0M1481 2302h0M1501 2282h0M1515 2277h0M1509 2299h0M1500 2302h0M1457 2229h0M1513 2302h0M1488 2297h0M1495 2292h0M1497 2229h0M1504 2266h0M1513 2292h0M1501 2283h0M1509 2296h0M1508 2293h0M1513 2265h0M1483 2255h0M1491 2280h0M1511 2302h0M1472 2231h0M1490 2270h0M1506 2284h0M1507 2289h0M1516 2277h0M1515 2288h0M1517 2283h0M1498 2239h0M1489 2298h0M1500 2303h0M1515 2299h0M1515 2231h0M1493 2255h0M1513 2295h0M1506 2284h0"/>
<path stroke="#1A10F5" stroke-opacity="0.36" d="M1511 2301h0M1502 2242h0M1497 2288h0M1514 2286h0M1502 2288h0M1501 2214h0M1488 2273h0M1490 2302h0M1516 2259h0M1512 2213h0M1511 2296h0M1514 2222h0M1508 2255h0M1485 2278h0M1510 2281h0M1510 2287h0M1487 2273h0M1484 2283h0M1513 2288h0M1512 2291h0M1486 2280h0M1478 2258h0M1507 2298h0M1467 2273h0M1507 2241h0M1514 2296h0M1501 2303h0M1496 2295h0M1513 2287h0M1488 2261h0M1437 2299h0M1506 2301h0M1495 2291h0M1513 2292h0M1508 2289h0M1514 2296h0M1491 2296h0M1512 2285h0M1508 2281h0M1490 2214h0M1517 2299h0M1420 2286h0M1507 2262h0M1507 2295h0M1509 2297h0M1457 2301h0M1517 2295h0M1512 2303h0M1515 2255h0M1470 2256h0M1512 2297h0M1516 2298h0M1494 2220h0M1516 2297h0M1498 2249h0M1514 2300h0M1507 2273h0M1512 2267h0M1424 2231h0M1509 2266h0M1500 2303h0M1421 2288h0M1511 2294h0M1517 2302h0M1459 2247h0M1492 2190h0M1503 2294h0M1516 2291h0M1502 2234h0M1514 2286h0M1516 2295h0M1501 2279h0M1514 2227h0M1516 2298h0M1508 2271h0M1502 2293h0M1461 2242h0M1497 2296h0M1509 2264h0M1453 2167h0M1511 2283h0M1510 2299h0M1504 2300h0M1430 2261h0M1498 2296h0M1512 2275h0M1515 2300h0M1507 2283h0M1511 2291h0M1444 2301h0M1512 2280h0M1504 2276h0M1479 2239h0"/>
<path stroke="#1A10F5" stroke-opacity="0.36" d="M1479 2192h0M1508 2301h0M1514 2255h0M1510 2294h0M1506 2294h0M1494 2298h0M1508 2242h0M1431 2288h0M1512 2282h0M1503 2276h0M1424 2173h0M1476 2277h0M1516 2292h0M1489 2294h0M1494 2302h0M1475 2245h0M1495 2287h0M1498 2282h0M1514 2262h0M1508 2247h0M1509 2263h0M1517 2282h0M1504 2276h0M1511 2274h0M1497 2291h0M1469 2284h0M1510 2288h0M1510 2292h0M1515 2212h0M1516 2200h0M1508 2264h0M1507 2300h0M1499 2294h0M1476 2241h0M1507 2264h0M1464 2291h0M1507 2276h0M1516 2301h0M1514 2296h0M1446 2287h0M1510 2286h0M1517 2283h0M1497 2203h0M1517 2267h0M1499 2283h0M1487 2281h0M1499 2255h0M1481 2297h0M1511 2281h0M1510 2295h0M1514 2287h0M1498 2301h0M1493 2299h0M1491 2287h0M1499 2284h0M1502 2225h0M1503 2297h0M1452 2186h0M1502 2302h0M1506 2286h0M1452 2297h0M1437 2238h0M1515 2268h0M1503 2291h0M1503 2287h0M1508 2256h0M1516 2296h0M1506 2203h0M1501 2285h0M1515 2303h0M1458 2258h0M1492 2200h0M1508 2282h0M1504 2298h0M1497 2295h0M1499 2287h0M1504 2283h0M1503 2300h0M1515 2303h0M1485 2271h0M1514 2242h0M1516 2295h0M1510 2244h0M1504 2276h0M1448 2289h0M1516 2301h0M1510 2284h0M1498 2247h0M1492 2296h0M1509 2222h0M1516 2282h0M1515 2292h0M1513 2301h0"/>
<path stroke="#F81C1C" stroke-opacity="0.36" d="M1709 2271h0M1621 2286h0M1639 2231h0M1719 2252h0M1681 2298h0M1627 2300h0M1631 2265h0M1655 2223h0M1630 2296h0M1630 2294h0M1632 2298h0M1647 2237h0M1621 2297h0M1638 2300h0M1652 2266h0M1659 2285h0M1627 2267h0M1673 2265h0M1633 2300h0M1702 2244h0M1657 2293h0M1636 2290h0M1672 2266h0M1621 2288h0M1625 2253h0M1630 2296h0M1641 2284h0M1695 2264h0M1637 2285h0M1642 2275h0M1630 2293h0M1626 2273h0M1660 2280h0M1629 2298h0M1632 2296h0M1666 2272h0M1653 2295h0M1625 2279h0M1656 2216h0M1621 2282h0M1692 2279h0M1634 2301h0M1715 2287h0M1642 2276h0M1691 2204h0M1663 2297h0M1628 2301h0M1731 2245h0M1708 2264h0M1623 2287h0M1659 2280h0M1651 2295h0M1636 2226h0M1648 2272h0M1646 2282h0M1621 2266h0M1665 2276h0M1659 2300h0M1632 2296h0M1638 2295h0M1624 2302h0M1760 2301h0M1681 2160h0M1654 2297h0M1641 2251h0M1645 2294h0M1665 2232h0M1630 2286h0M1670 2287h0M1623 2269h0M1650 2241h0M1640 2269h0M1650 2293h0M1623 2299h0M1671 2249h0M1641 2287h0M1624 2301h0M1624 2227h0M1669 2240h0M1733 2259h0M1684 2294h0M1703 2251h0M1649 2294h0M1620 2298h0M1620 2287h0M1667 2260h0M1643 2301h0M1625 2296h0M1622 2268h0M1686 2295h0M1628 2269h0M1621 2290h0M1626 2269h0M1673 2290h0M1635 2252h0M1745 2220h0M1637 2258h0M1630 2289h0M1622 2294h0M1684 2302h0M1653 2273h0M1669 2279h0M1620 2287h0M1670 2286h0M1723 2275h0M1705 2266h0M1631 2276h0M1640 2251h0M1675 2302h0M1659 2301h0M1620 2280h0M1626 2295h0M1632 2276h0M1677 2176h0M1630 2268h0M1623 2299h0M1625 2296h0M1730 2281h0M1656 2268h0M1631 2273h0M1747 2294h0M1630 2297h0M1771 2244h0M1769 2296h0M1635 2302h0M1621 2294h0M1621 2206h0M1657 2287h0M1688 2299h0M1632 2227h0M1628 2276h0M1636 2263h0M1676 2296h0M1626 2267h0M1625 2263h0M1623 2292h0M1621 2230h0M1678 2291h0M1624 2298h0M1649 2227h0M1686 2219h0M1653 2264h0M1638 2242h0M1634 2297h0M1633 2301h0M1624 2279h0M1634 2302h0M1690 2298h0M1647 2250h0M1630 2300h0M1635 2276h0M1671 2288h0M1622 2298h0M1630 2289h0M1621 2286h0M1689 2298h0M1624 2295h0M1635 2276h0M1720 2284h0M1626 2289h0M1640 2184h0M1624 2295h0M1645 2254h0M1656 2275h0M1662 2276h0M1642 2301h0M1646 2296h0M1640 2275h0M1647 2283h0M1629 2302h0"/>
<path stroke="#F81C1C" stroke-opacity="0.36" d="M1637 2181h0M1623 2203h0M1634 2241h0M1630 2284h0M1646 2287h0M1671 2285h0M1621 2221h0M1620 2296h0M1660 2299h0M1643 2262h0M1628 2294h0M1659 2296h0M1640 2290h0M1702 2277h0M1648 2284h0M1633 2265h0M1656 2283h0M1635 2303h0M1632 2277h0M1622 2268h0M1712 2251h0M1635 2233h0M1623 2280h0M1644 2298h0M1667 2297h0M1634 2289h0M1649 2302h0M1671 2299h0M1640 2278h0M1682 2273h0M1629 2294h0M1642 2281h0M1647 2241h0M1630 2288h0M1623 2287h0M1647 2301h0M1622 2297h0M1627 2286h0M1655 2286h0M1670 2296h0M1654 2292h0M1675 2251h0M1668 2292h0M1677 2183h0M1698 2256h0M1750 2295h0M1626 2281h0M1714 2298h0M1666 2231h0M1671 2292h0M1629 2301h0M1637 2264h0M1622 2289h0M1624 2285h0M1620 2302h0M1633 2282h0M1703 2192h0M1620 2270h0M1622 2293h0M1639 2207h0M1628 2261h0M1622 2272h0M1621 2277h0M1627 2293h0M1638 2227h0M1659 2301h0M1708 2265h0M1636 2279h0M1636 2288h0M1687 2251h0M1702 2266h0M1632 2254h0M1655 2291h0M1702 2286h0M1631 2285h0M1664 2287h0M1706 2246h0M1703 2160h0M1742 2297h0M1625 2276h0M1628 2277h0M1662 2302h0M1646 2291h0M1640 2278h0M1620 2280h0M1683 2260h0M1623 2295h0M1632 2274h0M1687 2279h0M1620 2282h0M1632 2240h0M1624 2287h0M1646 2299h0M1645 2299h0M1638 2224h0M1623 2281h0M1622 2297h0M1623 2255h0M1630 2294h0M1632 2255h0M1632 2269h0M1653 2278h0M1624 2290h0M1657 2299h0M1650 2280h0M1654 2203h0M1633 2243h0M1634 2292h0M1645 2299h0M1620 2288h0M1627 2291h0M1642 2286h0M1650 2284h0M1657 2296h0M1627 2219h0M1623 2236h0M1629 2290h0M1646 2281h0M1630 2210h0M1632 2275h0M1630 2289h0M1645 2294h0M1665 2276h0M1645 2269h0M1624 2249h0M1668 2273h0M1676 2301h0M1636 2291h0M1620 2301h0M1643 2275h0M1643 2302h0M1621 2296h0M1654 2283h0M1631 2298h0M1631 2290h0M1629 2289h0M1629 2288h0M1622 2244h0M1639 2252h0M1640 2211h0M1640 2297h0M1770 2276h0M1634 2264h0M1623 2283h0M1620 2297h0M1630 2184h0M1643 2185h0M1620 2298h0M1623 2244h0M1629 2300h0M1710 2299h0M1674 2294h0M1643 2234h0M1638 2298h0M1622 2303h0M1629 2301h0M1637 2275h0M1647 2213h0M1640 2295h0M1620 2301h0M1647 2289h0M1721 2233h0M1667 2260h0M1632 2233h0M1655 2193h0M1621 2290h0M1631 2292h0M1771 2180h0M1701 2266h0M1651 2298h0"/>
<path stroke="#F81C1C" stroke-opacity="0.36" d="M1644 2278h0M1637 2294h0M1703 2216h0M1724 2294h0M1644 2280h0M1634 2273h0M1660 2281h0M1671 2251h0M1637 2210h0M1653 2275h0M1626 2291h0M1625 2269h0M1634 2294h0M1638 2239h0M1632 2284h0M1678 2297h0M1622 2282h0M1630 2296h0M1652 2297h0M1637 2278h0M1670 2300h0M1657 2300h0M1720 2168h0M1632 2243h0M1627 2220h0M1626 2282h0M1645 2250h0M1636 2290h0M1746 2254h0M1644 2287h0M1687 2288h0M1664 2288h0M1624 2257h0M1624 2284h0M1637 2278h0M1648 2295h0M1640 2299h0M1660 2289h0M1649 2301h0M1633 2253h0M1620 2296h0M1627 2279h0M1637 2262h0M1729 2216h0M1631 2297h0M1634 2284h0M1620 2256h0M1634 2295h0M1642 2297h0M1637 2296h0M1671 2297h0M1762 2191h0M1625 2267h0M1636 2287h0M1620 2267h0M1639 2298h0M1693 2254h0M1656 2302h0M1626 2285h0M1631 2295h0M1639 2256h0M1629 2292h0M1644 2223h0M1623 2286h0M1622 2266h0M1688 2228h0M1630 2283h0M1624 2261h0M1623 2200h0M1651 2271h0M1655 2299h0M1667 2298h0M1752 2231h0M1626 2256h0M1631 2263h0M1627 2290h0M1641 2299h0M1651 2219h0M1643 2291h0M1629 2301h0M1637 2272h0M1620 2275h0M1677 2301h0M1643 2272h0M1640 2301h0M1623 2243h0M1632 2298h0M1621 2284h0M1644 2283h0M1650 2198h0M1638 2294h0M1623 2300h0M1651 2300h0M1641 2262h0M1658 2282h0M1635 2269h0M1632 2301h0M1655 2278h0M1649 2218h0M1635 2185h0M1661 2279h0M1643 2280h0M1657 2225h0M1645 2240h0M1662 2298h0M1627 2278h0M1647 2286h0M1638 2301h0M1622 2299h0M1625 2298h0M1620 2280h0M1633 2301h0M1682 2299h0M1625 2280h0M1646 2297h0M1625 2287h0M1620 2300h0M1730 2243h0M1652 2272h0M1646 2293h0M1634 2291h0M1645 2231h0M1727 2298h0M1621 2277h0M1657 2170h0M1630 2278h0M1667 2287h0M1628 2299h0M1681 2293h0M1751 2263h0M1621 2294h0M1626 2301h0M1657 2291h0M1650 2233h0M1623 2301h0M1625 2235h0M1646 2206h0M1670 2259h0M1651 2294h0M1652 2294h0M1633 2267h0M1639 2278h0M1709 2291h0M1624 2237h0M1637 2238h0M1624 2290h0M1633 2184h0M1632 2262h0M1648 2293h0M1632 2291h0M1662 2238h0M1651 2290h0M1631 2278h0M1722 2295h0M1622 2265h0M1652 2253h0M1642 2266h0M1638 2297h0M1650 2289h0M1732 2220h0M1755 2193h0M1631 2286h0M1671 2189h0M1638 2206h0M1768 2282h0M1626 2295h0M1638 2275h0M1639 2270h0M1636 2289h0M1635 2269h0"/>
<path stroke="#F81C1C" stroke-opacity="0.36" d="M1641 2287h0M1648 2280h0M1627 2302h0M1620 2281h0M1627 2250h0M1637 2262h0M1727 2298h0M1624 2270h0M1652 2287h0M1720 2268h0M1639 2302h0M1642 2301h0M1760 2193h0M1629 2292h0M1628 2292h0M1634 2294h0M1652 2286h0M1624 2284h0M1677 2226h0M1665 2238h0M1629 2222h0M1650 2226h0M1635 2223h0M1622 2266h0M1622 2296h0M1622 2301h0M1640 2201h0M1665 2246h0M1623 2266h0M1621 2300h0M1621 2277h0M1620 2248h0M1628 2284h0M1644 2280h0M1655 2226h0M1717 2301h0M1659 2269h0M1631 2290h0M1631 2280h0M1651 2294h0M1766 2289h0M1646 2249h0M1625 2215h0M1642 2272h0M1625 2287h0M1675 2212h0M1626 2292h0M1647 2261h0M1654 2272h0M1620 2281h0M1630 2235h0M1650 2282h0M1725 2176h0M1637 2278h0M1649 2265h0M1622 2297h0M1640 2287h0M1620 2290h0M1630 2281h0M1716 2191h0M1628 2298h0M1623 2299h0M1621 2278h0M1632 2250h0M1625 2284h0M1632 2298h0M1624 2292h0M1624 2302h0M1668 2300h0M1627 2242h0M1622 2297h0M1667 2253h0M1630 2293h0M1648 2291h0M1706 2297h0M1642 2294h0M1758 2232h0M1624 2269h0M1674 2169h0M1655 2258h0M1621 2286h0M1651 2294h0M1620 2289h0M1647 2259h0M1652 2300h0M1718 2256h0M1666 2240h0M1625 2245h0M1682 2272h0M1633 2278h0M1687 2193h0M1634 2299h0M1621 2287h0M1664 2270h0M1642 2280h0M1674 2226h0M1637 2279h0M1623 2254h0M1620 2298h0M1644 2209h0M1642 2250h0M1642 2261h0M1623 2302h0M1632 2274h0M1654 2207h0M1661 2265h0M1679 2298h0M1637 2257h0M1656 2265h0M1623 2287h0M1633 2252h0M1630 2291h0M1646 2202h0M1622 2270h0M1630 2266h0M1627 2289h0M1674 2298h0M1626 2252h0M1672 2231h0M1746 2294h0M1635 2281h0M1656 2270h0M1632 2229h0M1657 2269h0M1722 2293h0M1643 2248h0M1718 2260h0M1620 2292h0M1658 2275h0M1681 2262h0M1683 2266h0M1641 2275h0M1633 2293h0M1627 2297h0M1650 2296h0M1643 2294h0M1631 2283h0M1731 2235h0M1623 2287h0M1652 2213h0M1621 2300h0M1632 2302h0M1630 2287h0M1625 2264h0M1659 2262h0M1693 2230h0M1643 2275h0M1620 2295h0M1645 2210h0M1648 2299h0M1641 2270h0M1625 2289h0M1636 2284h0M1622 2290h0M1667 2296h0M1643 2261h0M1626 2303h0M1622 2198h0M1638 2298h0M1675 2292h0M1626 2280h0M1622 2290h0M1632 2294h0M1625 2264h0M1629 2295h0M1676 2229h0M1634 2295h0M1625 2291h0M1684 2242h0M1631 2260h0"/>
<path stroke="#F81C1C" stroke-opacity="0.36" d="M1655 2225h0M1645 2262h0M1647 2233h0M1687 2200h0M1627 2217h0M1629 2293h0M1643 2297h0M1623 2268h0M1650 2299h0M1633 2286h0M1622 2266h0M1730 2293h0M1656 2283h0M1695 2186h0M1649 2297h0M1625 2255h0M1620 2279h0M1620 2206h0M1631 2289h0M1737 2301h0M1622 2293h0M1637 2293h0M1637 2259h0M1646 2291h0M1630 2296h0M1641 2260h0M1645 2179h0M1645 2300h0M1626 2301h0M1652 2279h0M1628 2265h0M1680 2272h0M1674 2189h0M1631 2299h0M1715 2283h0M1735 2162h0M1634 2277h0M1626 2294h0M1677 2233h0M1669 2175h0M1726 2217h0M1634 2273h0M1644 2286h0M1674 2247h0M1620 2293h0M1708 2287h0M1731 2235h0M1637 2298h0M1648 2277h0M1666 2270h0M1622 2286h0M1723 2298h0M1741 2292h0M1657 2277h0M1622 2281h0M1719 2257h0M1656 2283h0M1679 2208h0M1644 2273h0M1693 2292h0M1625 2300h0M1621 2298h0M1631 2298h0M1675 2302h0M1645 2279h0M1621 2252h0M1621 2285h0M1627 2256h0M1630 2251h0M1628 2291h0M1627 2243h0M1646 2204h0M1632 2288h0M1671 2292h0M1623 2277h0M1643 2251h0M1624 2296h0M1622 2244h0M1633 2234h0M1623 2241h0M1632 2285h0M1633 2197h0M1621 2288h0M1640 2300h0M1708 2274h0M1637 2271h0M1627 2274h0M1673 2284h0M1627 2293h0M1626 2273h0M1700 2299h0M1733 2280h0M1620 2292h0M1637 2293h0M1722 2231h0M1623 2291h0M1623 2274h0M1620 2240h0M1672 2300h0M1640 2237h0M1674 2298h0M1649 2283h0M1673 2282h0M1747 2281h0M1634 2294h0M1763 2288h0M1639 2299h0M1621 2284h0M1642 2292h0M1623 2253h0M1621 2296h0M1627 2279h0M1636 2223h0M1632 2272h0M1655 2211h0M1646 2252h0M1622 2299h0M1656 2298h0M1683 2267h0M1680 2300h0M1642 2283h0M1625 2282h0M1623 2271h0M1632 2302h0M1623 2300h0M1621 2275h0M1648 2276h0M1644 2254h0M1708 2280h0M1639 2275h0M1682 2300h0M1622 2291h0M1661 2272h0M1632 2282h0M1679 2300h0M1638 2294h0M1627 2276h0M1621 2288h0M1642 2298h0M1631 2249h0M1670 2254h0M1623 2289h0M1621 2299h0M1648 2262h0M1641 2261h0M1622 2299h0M1659 2296h0M1651 2279h0M1649 2257h0M1652 2190h0M1628 2265h0M1625 2300h0M1646 2294h0M1620 2302h0M1652 2232h0M1642 2298h0M1715 2233h0M1629 2273h0M1667 2300h0M1657 2296h0M1628 2263h0M1632 2257h0M1624 2235h0M1637 2302h0M1661 2293h0M1704 2281h0M1648 2277h0M1649 2203h0M1703 2254h0M1651 2202h0"/>
<path stroke="#F81C1C" stroke-opacity="0.36" d="M1642 2285h0M1649 2287h0M1678 2265h0M1630 2302h0M1636 2269h0M1634 2299h0M1640 2294h0M1690 2293h0M1633 2281h0M1627 2288h0M1641 2277h0M1643 2287h0M1627 2254h0M1648 2289h0M1691 2283h0M1629 2220h0M1622 2298h0M1622 2291h0M1627 2255h0M1641 2234h0M1622 2302h0M1622 2302h0M1639 2252h0M1647 2274h0M1627 2296h0M1627 2227h0M1621 2285h0M1665 2245h0M1652 2298h0M1634 2251h0M1636 2295h0M1627 2301h0M1674 2280h0M1653 2234h0M1634 2278h0M1624 2277h0M1626 2275h0M1636 2260h0M1626 2299h0M1735 2281h0M1631 2291h0M1757 2292h0M1627 2301h0M1629 2253h0M1663 2284h0M1624 2284h0M1622 2281h0M1677 2268h0M1760 2284h0M1629 2303h0M1634 2287h0M1726 2218h0M1632 2296h0M1653 2289h0M1664 2275h0M1650 2206h0M1655 2290h0M1628 2211h0M1756 2236h0M1644 2278h0M1629 2293h0M1646 2298h0M1673 2297h0M1626 2266h0M1632 2295h0M1622 2288h0M1644 2253h0M1651 2294h0M1657 2196h0M1651 2276h0M1622 2293h0M1622 2235h0M1651 2256h0M1688 2291h0M1654 2297h0M1672 2172h0M1621 2283h0M1640 2260h0M1624 2265h0M1621 2220h0M1688 2233h0M1648 2252h0M1621 2300h0M1629 2293h0M1641 2300h0M1646 2260h0M1633 2295h0M1628 2251h0M1665 2270h0M1635 2251h0M1632 2295h0M1663 2292h0M1628 2288h0M1632 2257h0M1682 2291h0M1630 2273h0M1655 2283h0M1682 2240h0M1636 2297h0M1623 2243h0M1624 2286h0M1638 2268h0M1624 2291h0M1626 2302h0M1623 2290h0M1633 2257h0M1628 2293h0M1635 2295h0M1633 2278h0M1631 2250h0M1626 2200h0M1621 2297h0M1653 2291h0M1706 2212h0M1679 2286h0M1676 2228h0M1679 2294h0M1623 2281h0M1629 2289h0M1639 2240h0M1639 2274h0M1623 2283h0M1621 2269h0M1638 2249h0M1741 2177h0M1661 2278h0M1651 2263h0M1623 2299h0M1695 2301h0M1644 2221h0M1637 2282h0M1622 2267h0M1646 2290h0M1726 2214h0M1667 2210h0M1713 2248h0M1634 2283h0M1636 2290h0M1632 2295h0M1654 2266h0M1640 2254h0M1635 2239h0M1630 2240h0M1640 2294h0M1631 2286h0M1673 2299h0M1622 2240h0M1625 2285h0M1668 2276h0M1622 2282h0M1644 2222h0M1650 2193h0M1653 2287h0M1638 2279h0M1638 2271h0M1623 2283h0M1743 2208h0M1627 2276h0M1634 2290h0M1648 2229h0M1635 2287h0M1645 2295h0M1626 2271h0M1636 2259h0M1678 2271h0M1620 2260h0M1628 2245h0M1643 2271h0M1650 2259h0M1690 2288h0"/>
<path stroke="#F81C1C" stroke-opacity="0.36" d="M1645 2244h0M1699 2162h0M1622 2221h0M1638 2275h0M1620 2277h0M1620 2295h0M1643 2222h0M1641 2213h0M1661 2282h0M1621 2294h0M1621 2280h0M1669 2293h0M1634 2294h0M1623 2293h0M1634 2242h0M1622 2300h0M1660 2291h0M1656 2274h0M1635 2297h0M1620 2279h0M1640 2294h0M1698 2279h0M1623 2289h0M1635 2302h0M1620 2295h0M1695 2270h0M1633 2260h0M1625 2276h0M1638 2302h0M1625 2245h0M1637 2299h0M1636 2294h0M1647 2296h0M1620 2297h0M1661 2285h0M1649 2253h0M1636 2299h0M1640 2295h0M1626 2249h0M1628 2300h0M1700 2223h0M1634 2281h0M1645 2233h0M1621 2266h0M1634 2278h0M1669 2300h0M1651 2259h0M1685 2213h0M1624 2287h0M1671 2172h0M1632 2286h0M1622 2266h0M1634 2294h0M1698 2259h0M1737 2207h0M1638 2271h0M1623 2271h0M1667 2271h0M1631 2282h0M1638 2198h0M1627 2291h0M1648 2285h0M1670 2237h0M1625 2282h0M1650 2281h0M1621 2288h0M1633 2191h0M1629 2256h0M1646 2280h0M1645 2291h0M1663 2285h0M1717 2302h0M1699 2274h0M1623 2301h0M1628 2298h0M1623 2284h0M1628 2296h0M1739 2287h0M1652 2297h0M1635 2285h0M1671 2277h0M1625 2246h0M1649 2214h0M1657 2298h0M1739 2253h0M1627 2292h0M1667 2302h0M1625 2301h0M1637 2229h0M1634 2267h0M1654 2277h0M1669 2293h0M1645 2295h0M1665 2294h0M1766 2210h0M1655 2271h0M1690 2293h0M1669 2239h0M1651 2298h0M1646 2301h0M1658 2214h0M1699 2278h0M1750 2151h0M1626 2291h0M1673 2300h0M1688 2273h0M1627 2284h0M1678 2242h0M1731 2220h0M1645 2208h0M1713 2236h0M1659 2277h0M1761 2195h0M1637 2260h0M1624 2274h0M1651 2288h0M1644 2252h0M1639 2282h0M1647 2286h0M1738 2298h0M1642 2285h0M1724 2296h0M1626 2282h0M1662 2280h0M1637 2190h0M1639 2270h0M1627 2298h0M1626 2281h0M1645 2272h0M1635 2231h0M1708 2259h0M1620 2273h0M1622 2301h0M1622 2254h0M1648 2303h0M1635 2296h0M1747 2300h0M1666 2300h0M1624 2265h0M1641 2255h0M1649 2292h0M1643 2284h0M1655 2291h0M1644 2290h0M1634 2271h0M1663 2281h0M1620 2299h0M1666 2251h0M1717 2231h0M1624 2258h0M1622 2292h0M1623 2288h0M1673 2293h0M1637 2280h0M1633 2300h0M1660 2296h0M1662 2251h0M1656 2254h0M1645 2281h0M1625 2272h0M1669 2274h0M1712 2297h0M1629 2301h0M1624 2286h0M1633 2238h0M1661 2179h0M1637 2263h0M1676 2243h0M1695 2242h0M1683 2224h0"/>
<path stroke="#F81C1C" stroke-opacity="0.36" d="M1648 2294h0M1622 2207h0M1629 2218h0M1759 2221h0M1741 2297h0M1741 2222h0M1631 2302h0M1646 2275h0M1652 2281h0M1624 2299h0M1636 2295h0M1670 2284h0M1646 2286h0M1624 2298h0M1631 2292h0M1664 2249h0M1660 2301h0M1623 2301h0M1661 2300h0M1701 2281h0M1662 2297h0M1697 2280h0M1621 2277h0M1629 2246h0M1622 2300h0M1645 2287h0M1623 2295h0M1667 2287h0M1633 2291h0M1648 2300h0M1666 2242h0M1645 2260h0M1642 2289h0M1643 2205h0M1627 2241h0M1623 2272h0M1621 2210h0M1620 2293h0M1646 2243h0M1707 2297h0M1643 2273h0M1629 2295h0M1624 2293h0M1621 2290h0M1669 2263h0M1745 2280h0M1656 2292h0M1622 2298h0M1654 2179h0M1629 2238h0M1692 2227h0M1683 2275h0M1691 2212h0M1625 2287h0M1703 2292h0M1659 2262h0M1649 2270h0M1679 2260h0M1739 2274h0M1688 2275h0M1739 2173h0M1732 2213h0M1623 2225h0M1629 2266h0M1626 2236h0M1620 2299h0M1663 2271h0M1671 2241h0M1720 2189h0M1638 2291h0M1768 2293h0M1678 2288h0M1715 2294h0M1621 2266h0M1673 2194h0M1647 2297h0M1662 2291h0M1639 2284h0M1625 2301h0M1621 2285h0M1623 2281h0M1634 2238h0M1625 2248h0M1672 2234h0M1664 2295h0M1632 2277h0M1627 2224h0M1632 2299h0M1628 2261h0M1639 2285h0M1653 2295h0M1727 2293h0M1630 2283h0M1625 2302h0M1639 2279h0M1680 2222h0M1638 2196h0M1648 2290h0M1645 2303h0M1633 2273h0M1623 2295h0M1674 2266h0M1625 2240h0M1663 2300h0M1621 2293h0M1676 2260h0M1655 2275h0M1653 2299h0M1671 2290h0M1664 2299h0M1675 2283h0M1644 2268h0M1627 2271h0M1645 2302h0M1727 2299h0M1652 2261h0M1621 2283h0M1649 2296h0M1621 2262h0M1721 2208h0M1720 2295h0M1728 2266h0M1627 2273h0M1649 2292h0M1624 2208h0M1677 2300h0M1673 2293h0M1664 2289h0M1638 2220h0M1620 2259h0M1651 2291h0M1648 2299h0M1624 2280h0M1635 2287h0M1641 2230h0M1631 2278h0M1626 2301h0M1630 2219h0M1622 2249h0M1637 2263h0M1647 2301h0M1620 2269h0M1629 2265h0M1621 2292h0M1633 2283h0M1628 2280h0M1622 2185h0M1662 2259h0M1653 2241h0M1645 2299h0M1629 2299h0M1705 2300h0M1675 2280h0M1626 2294h0M1624 2297h0M1636 2302h0M1637 2209h0M1661 2281h0M1622 2242h0M1626 2302h0M1713 2288h0M1637 2298h0M1674 2266h0M1671 2299h0M1629 2260h0M1637 2301h0M1694 2234h0M1625 2289h0M1625 2286h0M1643 2295h0"/>
<path stroke="#F81C1C" stroke-opacity="0.4" d="M1694.9 2155.9h0M1734.8 2208.3h0M1720.4 2211h0M1668.3 2234.9h0"/>
</g>
<path d="M1518.4 2139.6V2319.1M1618.2 2139.6V2319.1M1401.5 2304.7H1784.9" stroke="#6A6A6A" stroke-width="1.2" stroke-dasharray="11.5 6.5" fill="none"/>
<rect x="1401.5" y="2139.6" width="383.4" height="179.5" fill="none" stroke="#2E2E2E" stroke-width="1.9"/>
<line x1="1418.6" y1="2319.1" x2="1418.6" y2="2322.6" stroke="#333" stroke-width="1.3"/>
<text x="1421.6" y="2341.5" font-size="20.5" text-anchor="middle">&#8722;3</text>
<line x1="1518.4" y1="2319.1" x2="1518.4" y2="2322.6" stroke="#333" stroke-width="1.3"/>
<text x="1521.4" y="2341.5" font-size="20.5" text-anchor="middle">&#8722;1</text>
<line x1="1618.2" y1="2319.1" x2="1618.2" y2="2322.6" stroke="#333" stroke-width="1.3"/>
<text x="1618.2" y="2341.5" font-size="20.5" text-anchor="middle">1</text>
<line x1="1718" y1="2319.1" x2="1718" y2="2322.6" stroke="#333" stroke-width="1.3"/>
<text x="1718" y="2341.5" font-size="20.5" text-anchor="middle">3</text>
<line x1="1398" y1="2201.7" x2="1401.5" y2="2201.7" stroke="#333" stroke-width="1.3"/>
<text x="1393.5" y="2209" font-size="20.5" text-anchor="end">6</text>
<line x1="1398" y1="2309.7" x2="1401.5" y2="2309.7" stroke="#333" stroke-width="1.3"/>
<text x="1393.5" y="2317" font-size="20.5" text-anchor="end">1</text>
<text x="1369.5" y="2231.8" font-size="20.7" text-anchor="middle" transform="rotate(-90 1369.5 2231.8)">&#8722;Log10 (p)</text>
<text x="1612.3" y="2360.9" font-size="20.7" text-anchor="middle">Log2 (FoldChange)</text>
<line x1="1675.9" y1="2158.6" x2="1694.9" y2="2155.9" stroke="#333" stroke-width="1.1"/>
<text x="1620.9" y="2163.5" font-size="20.7" font-style="italic">CCNE1</text>
<line x1="1748.1" y1="2198.4" x2="1734.8" y2="2208.3" stroke="#333" stroke-width="1.1"/>
<text x="1748" y="2195.8" font-size="20.7" font-style="italic">AFP</text>
<line x1="1706.3" y1="2207.2" x2="1720.4" y2="2211" stroke="#333" stroke-width="1.1"/>
<text x="1662.7" y="2211" font-size="20.7" font-style="italic">FGF9</text>
<line x1="1691.1" y1="2248.9" x2="1668.3" y2="2234.9" stroke="#333" stroke-width="1.1"/>
<text x="1693" y="2254.6" font-size="20.7" font-style="italic">EPCAM</text>
<text x="0" y="2405.6" font-size="25" font-weight="bold">g</text>
<text x="227" y="2440.5" font-size="25.4" text-anchor="end">SP</text>
<text x="229.5" y="2471.8" font-size="25.4" text-anchor="end">Sia et al.</text>
<text x="229.5" y="2502.8" font-size="25.4" text-anchor="end">Hoshida et al.</text>
<text x="229.5" y="2534.1" font-size="25.4" text-anchor="end">Chiang et al.</text>
<text x="229.5" y="2565.8" font-size="25.4" text-anchor="end">Xue et al.</text>
<rect x="235" y="2417.9" width="274.7" height="28.8" fill="#DD4A39"/>
<rect x="509.7" y="2417.9" width="274.7" height="28.8" fill="#66BCC8"/>
<rect x="784.5" y="2417.9" width="206.1" height="28.8" fill="#E0907C"/>
<text x="367.3" y="2440.8" font-size="27.6" text-anchor="middle" style="fill:#fff;stroke:#fff">SP-HI</text>
<text x="642.6" y="2440.8" font-size="27.6" text-anchor="middle" style="fill:#fff;stroke:#fff">SP-LI</text>
<text x="888.2" y="2440.8" font-size="27.6" text-anchor="middle" style="fill:#fff;stroke:#fff">SP-PF</text>
<path fill="#6573B9" d="M235 2449.2h147.2v28.3h-147.2zM509.7 2449.2h49.1v28.3h-49.1zM784.5 2449.2h78.5v28.3h-78.5z"/>
<path fill="#E3C96F" d="M382.2 2449.2h127.6v28.3h-127.6zM558.8 2449.2h225.7v28.3h-225.7zM863 2449.2h127.6v28.3h-127.6z"/>
<path fill="#8DB665" d="M235 2480.6h127.6v28.2h-127.6zM382.2 2480.6h9.8v28.2h-9.8zM509.7 2480.6h19.6v28.2h-19.6zM558.8 2480.6h19.6v28.2h-19.6zM784.5 2480.6h29.4v28.2h-29.4zM863 2480.6h19.6v28.2h-19.6z"/>
<path fill="#D668AE" d="M362.6 2480.6h9.8v28.2h-9.8zM392 2480.6h68.7v28.2h-68.7zM578.4 2480.6h68.7v28.2h-68.7zM813.9 2480.6h29.4v28.2h-29.4zM882.6 2480.6h49.1v28.2h-49.1z"/>
<path fill="#B68D68" d="M372.4 2480.6h9.8v28.2h-9.8zM460.7 2480.6h49.1v28.2h-49.1zM529.4 2480.6h29.4v28.2h-29.4zM647.1 2480.6h137.4v28.2h-137.4zM843.3 2480.6h19.6v28.2h-19.6zM931.7 2480.6h58.9v28.2h-58.9z"/>
<path fill="#EDB06D" d="M235 2512h39.2v28h-39.2zM392 2512h39.2v28h-39.2zM460.7 2512h29.4v28h-29.4zM558.8 2512h9.8v28h-9.8zM607.9 2512h9.8v28h-9.8zM706 2512h19.6v28h-19.6zM813.9 2512h9.8v28h-9.8zM892.4 2512h19.6v28h-19.6zM303.7 2543.4h9.8v28.3h-9.8zM362.6 2543.4h9.8v28.3h-9.8zM401.8 2543.4h19.6v28.3h-19.6zM460.7 2543.4h9.8v28.3h-9.8zM509.7 2543.4h9.8v28.3h-9.8zM529.4 2543.4h9.8v28.3h-9.8zM558.8 2543.4h9.8v28.3h-9.8zM617.7 2543.4h9.8v28.3h-9.8zM647.1 2543.4h9.8v28.3h-9.8zM706 2543.4h9.8v28.3h-9.8zM755 2543.4h19.6v28.3h-19.6zM784.5 2543.4h9.8v28.3h-9.8zM823.7 2543.4h9.8v28.3h-9.8zM863 2543.4h19.6v28.3h-19.6zM902.2 2543.4h19.6v28.3h-19.6zM931.7 2543.4h19.6v28.3h-19.6zM961.1 2543.4h19.6v28.3h-19.6z"/>
<path fill="#E5DCD6" d="M274.2 2512h78.5v28h-78.5zM362.6 2512h9.8v28h-9.8zM382.2 2512h9.8v28h-9.8zM431.2 2512h19.6v28h-19.6zM509.7 2512h9.8v28h-9.8zM568.6 2512h9.8v28h-9.8zM637.3 2512h9.8v28h-9.8zM755 2512h9.8v28h-9.8zM784.5 2512h29.4v28h-29.4zM823.7 2512h9.8v28h-9.8zM863 2512h19.6v28h-19.6zM912 2512h19.6v28h-19.6zM961.1 2512h9.8v28h-9.8zM244.8 2543.4h19.6v28.3h-19.6zM313.5 2543.4h39.2v28.3h-39.2zM441.1 2543.4h19.6v28.3h-19.6zM470.5 2543.4h29.4v28.3h-29.4zM539.2 2543.4h9.8v28.3h-9.8zM598 2543.4h9.8v28.3h-9.8zM637.3 2543.4h9.8v28.3h-9.8zM666.7 2543.4h29.4v28.3h-29.4zM715.8 2543.4h9.8v28.3h-9.8zM735.4 2543.4h9.8v28.3h-9.8zM843.3 2543.4h9.8v28.3h-9.8zM980.7 2543.4h9.8v28.3h-9.8z"/>
<path fill="#B2ACD9" d="M352.7 2512h9.8v28h-9.8zM372.4 2512h9.8v28h-9.8zM450.9 2512h9.8v28h-9.8zM499.9 2512h9.8v28h-9.8zM519.5 2512h9.8v28h-9.8zM549 2512h9.8v28h-9.8zM764.8 2512h19.6v28h-19.6zM833.5 2512h9.8v28h-9.8zM970.9 2512h19.6v28h-19.6zM264.4 2543.4h9.8v28.3h-9.8zM352.7 2543.4h9.8v28.3h-9.8zM372.4 2543.4h9.8v28.3h-9.8zM499.9 2543.4h9.8v28.3h-9.8zM519.5 2543.4h9.8v28.3h-9.8zM549 2543.4h9.8v28.3h-9.8zM696.2 2543.4h9.8v28.3h-9.8zM745.2 2543.4h9.8v28.3h-9.8zM774.7 2543.4h9.8v28.3h-9.8zM804.1 2543.4h9.8v28.3h-9.8zM853.2 2543.4h9.8v28.3h-9.8zM951.3 2543.4h9.8v28.3h-9.8z"/>
<path fill="#E46C62" d="M490.1 2512h9.8v28h-9.8zM529.4 2512h19.6v28h-19.6zM617.7 2512h19.6v28h-19.6zM725.6 2512h29.4v28h-29.4zM843.3 2512h19.6v28h-19.6zM931.7 2512h29.4v28h-29.4zM421.4 2543.4h9.8v28.3h-9.8zM588.2 2543.4h9.8v28.3h-9.8zM627.5 2543.4h9.8v28.3h-9.8zM656.9 2543.4h9.8v28.3h-9.8zM725.6 2543.4h9.8v28.3h-9.8zM794.3 2543.4h9.8v28.3h-9.8zM833.5 2543.4h9.8v28.3h-9.8zM882.6 2543.4h9.8v28.3h-9.8zM921.8 2543.4h9.8v28.3h-9.8z"/>
<path fill="#82CBBC" d="M578.4 2512h29.4v28h-29.4zM647.1 2512h58.9v28h-58.9zM882.6 2512h9.8v28h-9.8zM235 2543.4h9.8v28.3h-9.8zM274.2 2543.4h29.4v28.3h-29.4zM382.2 2543.4h19.6v28.3h-19.6zM431.2 2543.4h9.8v28.3h-9.8zM568.6 2543.4h19.6v28.3h-19.6zM607.9 2543.4h9.8v28.3h-9.8zM813.9 2543.4h9.8v28.3h-9.8zM892.4 2543.4h9.8v28.3h-9.8z"/>
<path d="M244.8 2449.2v122.5M254.6 2449.2v122.5M264.4 2449.2v122.5M274.2 2449.2v122.5M284.1 2449.2v122.5M293.9 2449.2v122.5M303.7 2449.2v122.5M313.5 2449.2v122.5M323.3 2449.2v122.5M333.1 2449.2v122.5M342.9 2449.2v122.5M352.7 2449.2v122.5M362.6 2449.2v122.5M372.4 2449.2v122.5M382.2 2449.2v122.5M392 2449.2v122.5M401.8 2449.2v122.5M411.6 2449.2v122.5M421.4 2449.2v122.5M431.2 2449.2v122.5M441.1 2449.2v122.5M450.9 2449.2v122.5M460.7 2449.2v122.5M470.5 2449.2v122.5M480.3 2449.2v122.5M490.1 2449.2v122.5M499.9 2449.2v122.5M509.7 2449.2v122.5M519.5 2449.2v122.5M529.4 2449.2v122.5M539.2 2449.2v122.5M549 2449.2v122.5M558.8 2449.2v122.5M568.6 2449.2v122.5M578.4 2449.2v122.5M588.2 2449.2v122.5M598 2449.2v122.5M607.9 2449.2v122.5M617.7 2449.2v122.5M627.5 2449.2v122.5M637.3 2449.2v122.5M647.1 2449.2v122.5M656.9 2449.2v122.5M666.7 2449.2v122.5M676.5 2449.2v122.5M686.4 2449.2v122.5M696.2 2449.2v122.5M706 2449.2v122.5M715.8 2449.2v122.5M725.6 2449.2v122.5M735.4 2449.2v122.5M745.2 2449.2v122.5M755 2449.2v122.5M764.8 2449.2v122.5M774.7 2449.2v122.5M784.5 2449.2v122.5M794.3 2449.2v122.5M804.1 2449.2v122.5M813.9 2449.2v122.5M823.7 2449.2v122.5M833.5 2449.2v122.5M843.3 2449.2v122.5M853.2 2449.2v122.5M863 2449.2v122.5M872.8 2449.2v122.5M882.6 2449.2v122.5M892.4 2449.2v122.5M902.2 2449.2v122.5M912 2449.2v122.5M921.8 2449.2v122.5M931.7 2449.2v122.5M941.5 2449.2v122.5M951.3 2449.2v122.5M961.1 2449.2v122.5M970.9 2449.2v122.5M980.7 2449.2v122.5" stroke="#fff" stroke-opacity="0.45" stroke-width="0.9" fill="none"/>
<rect x="234" y="2477.5" width="757.5" height="3.1" fill="#fff"/>
<rect x="234" y="2508.8" width="757.5" height="3.2" fill="#fff"/>
<rect x="234" y="2540" width="757.5" height="3.4" fill="#fff"/>
<text x="999.1" y="2472.5" font-size="20.5">p = 0.0207</text>
<text x="999.1" y="2504.9" font-size="20.5">p = 0.0143</text>
<text x="999.1" y="2537.2" font-size="20.5">p = 0.0009</text>
<text x="999.1" y="2569" font-size="20.5">p = 0.1160</text>
<text x="1153.3" y="2433.8" font-size="25.4">Sia et al.</text>
<text x="1297.7" y="2433.8" font-size="25.4">Hoshida et al.</text>
<text x="1479.4" y="2433.8" font-size="25.4">Chiang et al.</text>
<text x="1153.3" y="2538" font-size="25.4">Xue et al.</text>
<rect x="1153.6" y="2445.3" width="20.7" height="20.4" fill="#6573B9"/>
<text x="1182.6" y="2462.2" font-size="22.4">Immune</text>
<rect x="1153.6" y="2473.1" width="20.7" height="20.4" fill="#E3C96F"/>
<text x="1182.6" y="2490.5" font-size="22.4">Non&#8722;immune</text>
<rect x="1349.2" y="2445.3" width="20.7" height="20.4" fill="#8DB665"/>
<text x="1377.9" y="2462.2" font-size="22.4">S1</text>
<rect x="1349.2" y="2473.1" width="20.7" height="20.4" fill="#D668AE"/>
<text x="1377.9" y="2490.5" font-size="22.4">S2</text>
<rect x="1349.2" y="2500.9" width="20.7" height="20.4" fill="#B68D68"/>
<text x="1377.9" y="2518.3" font-size="22.4">S3</text>
<rect x="1479.7" y="2445.3" width="20.7" height="20.4" fill="#82CBBC"/>
<text x="1508.7" y="2462.2" font-size="22.4">CTNNB1</text>
<rect x="1479.7" y="2473.1" width="20.7" height="20.4" fill="#E46C62"/>
<text x="1508.7" y="2490.5" font-size="22.4">Polysomy7</text>
<rect x="1479.7" y="2500.9" width="20.7" height="20.4" fill="#B2ACD9"/>
<text x="1508.7" y="2518.3" font-size="22.4">Unannotated</text>
<rect x="1679" y="2445.3" width="20.7" height="20.4" fill="#EDB06D"/>
<text x="1708" y="2462.2" font-size="22.4">Interferon</text>
<rect x="1679" y="2473.1" width="20.7" height="20.4" fill="#E5DCD6"/>
<text x="1708" y="2490.5" font-size="22.4">Proliferation</text>
<rect x="1153.6" y="2550.2" width="20.7" height="20.4" fill="#82CBBC"/>
<text x="1182.6" y="2566.5" font-size="22.4">TIME&#8722;IA</text>
<rect x="1298.6" y="2550.2" width="20.7" height="20.4" fill="#EDB06D"/>
<text x="1327.6" y="2566.5" font-size="22.4">TIME&#8722;ISM</text>
<rect x="1455" y="2550.2" width="20.7" height="20.4" fill="#E46C62"/>
<text x="1483.6" y="2566.5" font-size="22.4">TIME&#8722;ISS</text>
<rect x="1616" y="2550.2" width="20.7" height="20.4" fill="#E5DCD6"/>
<text x="1645.3" y="2566.5" font-size="22.4">TIME&#8722;IE</text>
<rect x="1769.6" y="2550.2" width="20.7" height="20.4" fill="#B2ACD9"/>
<text x="1799" y="2566.5" font-size="22.4">TIME&#8722;IR</text>
</svg>
</body></html>
